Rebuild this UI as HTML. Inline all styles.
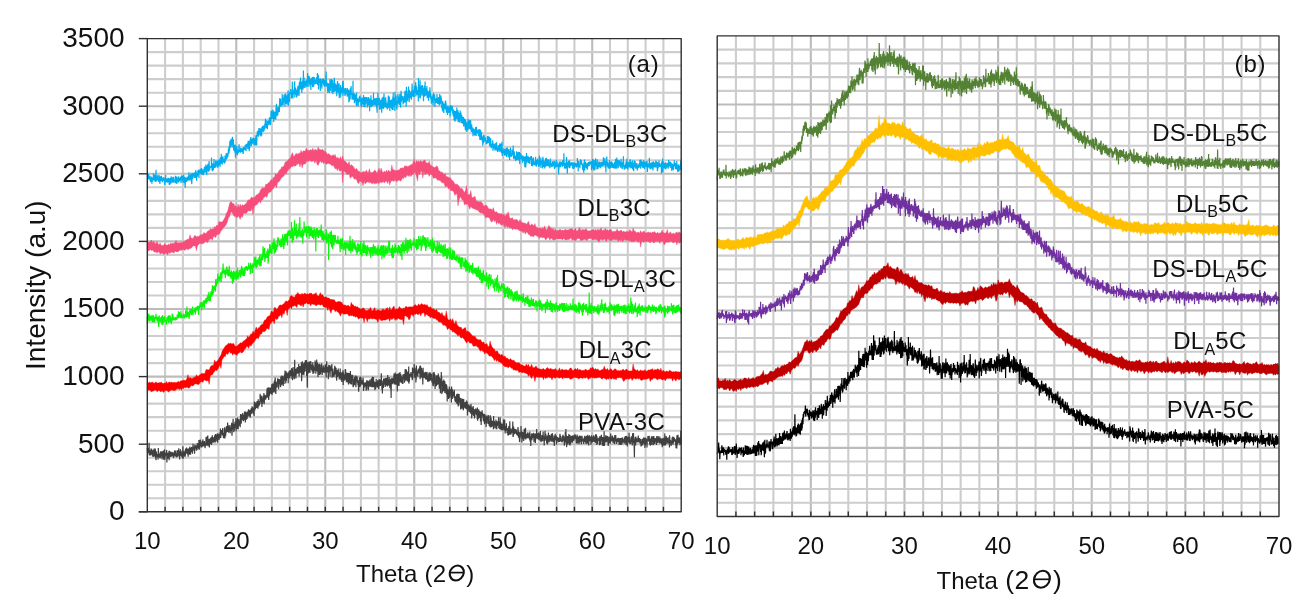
<!DOCTYPE html>
<html><head><meta charset="utf-8"><style>
html,body{margin:0;padding:0;background:#fff;}
body{width:1312px;height:611px;overflow:hidden;}
svg{display:block;font-family:"Liberation Sans", sans-serif;filter:blur(0.35px);}
text{fill:#111;}
</style></head><body>
<svg width="1312" height="611" viewBox="0 0 1312 611">
<rect width="1312" height="611" fill="#fff"/>
<line x1="165.10" y1="38.60" x2="165.10" y2="511.80" stroke="#cdcdcd" stroke-width="2.1"/>
<line x1="182.89" y1="38.60" x2="182.89" y2="511.80" stroke="#cdcdcd" stroke-width="2.1"/>
<line x1="200.69" y1="38.60" x2="200.69" y2="511.80" stroke="#cdcdcd" stroke-width="2.1"/>
<line x1="218.49" y1="38.60" x2="218.49" y2="511.80" stroke="#cdcdcd" stroke-width="2.1"/>
<line x1="236.28" y1="38.60" x2="236.28" y2="511.80" stroke="#bcbcbc" stroke-width="2.1"/>
<line x1="254.08" y1="38.60" x2="254.08" y2="511.80" stroke="#cdcdcd" stroke-width="2.1"/>
<line x1="271.88" y1="38.60" x2="271.88" y2="511.80" stroke="#cdcdcd" stroke-width="2.1"/>
<line x1="289.67" y1="38.60" x2="289.67" y2="511.80" stroke="#cdcdcd" stroke-width="2.1"/>
<line x1="307.47" y1="38.60" x2="307.47" y2="511.80" stroke="#cdcdcd" stroke-width="2.1"/>
<line x1="325.27" y1="38.60" x2="325.27" y2="511.80" stroke="#bcbcbc" stroke-width="2.1"/>
<line x1="343.06" y1="38.60" x2="343.06" y2="511.80" stroke="#cdcdcd" stroke-width="2.1"/>
<line x1="360.86" y1="38.60" x2="360.86" y2="511.80" stroke="#cdcdcd" stroke-width="2.1"/>
<line x1="378.66" y1="38.60" x2="378.66" y2="511.80" stroke="#cdcdcd" stroke-width="2.1"/>
<line x1="396.45" y1="38.60" x2="396.45" y2="511.80" stroke="#cdcdcd" stroke-width="2.1"/>
<line x1="414.25" y1="38.60" x2="414.25" y2="511.80" stroke="#bcbcbc" stroke-width="2.1"/>
<line x1="432.05" y1="38.60" x2="432.05" y2="511.80" stroke="#cdcdcd" stroke-width="2.1"/>
<line x1="449.84" y1="38.60" x2="449.84" y2="511.80" stroke="#cdcdcd" stroke-width="2.1"/>
<line x1="467.64" y1="38.60" x2="467.64" y2="511.80" stroke="#cdcdcd" stroke-width="2.1"/>
<line x1="485.44" y1="38.60" x2="485.44" y2="511.80" stroke="#cdcdcd" stroke-width="2.1"/>
<line x1="503.23" y1="38.60" x2="503.23" y2="511.80" stroke="#bcbcbc" stroke-width="2.1"/>
<line x1="521.03" y1="38.60" x2="521.03" y2="511.80" stroke="#cdcdcd" stroke-width="2.1"/>
<line x1="538.83" y1="38.60" x2="538.83" y2="511.80" stroke="#cdcdcd" stroke-width="2.1"/>
<line x1="556.62" y1="38.60" x2="556.62" y2="511.80" stroke="#cdcdcd" stroke-width="2.1"/>
<line x1="574.42" y1="38.60" x2="574.42" y2="511.80" stroke="#cdcdcd" stroke-width="2.1"/>
<line x1="592.22" y1="38.60" x2="592.22" y2="511.80" stroke="#bcbcbc" stroke-width="2.1"/>
<line x1="610.01" y1="38.60" x2="610.01" y2="511.80" stroke="#cdcdcd" stroke-width="2.1"/>
<line x1="627.81" y1="38.60" x2="627.81" y2="511.80" stroke="#cdcdcd" stroke-width="2.1"/>
<line x1="645.61" y1="38.60" x2="645.61" y2="511.80" stroke="#cdcdcd" stroke-width="2.1"/>
<line x1="663.40" y1="38.60" x2="663.40" y2="511.80" stroke="#cdcdcd" stroke-width="2.1"/>
<line x1="147.30" y1="498.28" x2="681.20" y2="498.28" stroke="#cdcdcd" stroke-width="2.1"/>
<line x1="147.30" y1="484.76" x2="681.20" y2="484.76" stroke="#cdcdcd" stroke-width="2.1"/>
<line x1="147.30" y1="471.24" x2="681.20" y2="471.24" stroke="#cdcdcd" stroke-width="2.1"/>
<line x1="147.30" y1="457.72" x2="681.20" y2="457.72" stroke="#cdcdcd" stroke-width="2.1"/>
<line x1="147.30" y1="444.20" x2="681.20" y2="444.20" stroke="#bcbcbc" stroke-width="2.1"/>
<line x1="147.30" y1="430.68" x2="681.20" y2="430.68" stroke="#cdcdcd" stroke-width="2.1"/>
<line x1="147.30" y1="417.16" x2="681.20" y2="417.16" stroke="#cdcdcd" stroke-width="2.1"/>
<line x1="147.30" y1="403.64" x2="681.20" y2="403.64" stroke="#cdcdcd" stroke-width="2.1"/>
<line x1="147.30" y1="390.12" x2="681.20" y2="390.12" stroke="#cdcdcd" stroke-width="2.1"/>
<line x1="147.30" y1="376.60" x2="681.20" y2="376.60" stroke="#bcbcbc" stroke-width="2.1"/>
<line x1="147.30" y1="363.08" x2="681.20" y2="363.08" stroke="#cdcdcd" stroke-width="2.1"/>
<line x1="147.30" y1="349.56" x2="681.20" y2="349.56" stroke="#cdcdcd" stroke-width="2.1"/>
<line x1="147.30" y1="336.04" x2="681.20" y2="336.04" stroke="#cdcdcd" stroke-width="2.1"/>
<line x1="147.30" y1="322.52" x2="681.20" y2="322.52" stroke="#cdcdcd" stroke-width="2.1"/>
<line x1="147.30" y1="309.00" x2="681.20" y2="309.00" stroke="#bcbcbc" stroke-width="2.1"/>
<line x1="147.30" y1="295.48" x2="681.20" y2="295.48" stroke="#cdcdcd" stroke-width="2.1"/>
<line x1="147.30" y1="281.96" x2="681.20" y2="281.96" stroke="#cdcdcd" stroke-width="2.1"/>
<line x1="147.30" y1="268.44" x2="681.20" y2="268.44" stroke="#cdcdcd" stroke-width="2.1"/>
<line x1="147.30" y1="254.92" x2="681.20" y2="254.92" stroke="#cdcdcd" stroke-width="2.1"/>
<line x1="147.30" y1="241.40" x2="681.20" y2="241.40" stroke="#bcbcbc" stroke-width="2.1"/>
<line x1="147.30" y1="227.88" x2="681.20" y2="227.88" stroke="#cdcdcd" stroke-width="2.1"/>
<line x1="147.30" y1="214.36" x2="681.20" y2="214.36" stroke="#cdcdcd" stroke-width="2.1"/>
<line x1="147.30" y1="200.84" x2="681.20" y2="200.84" stroke="#cdcdcd" stroke-width="2.1"/>
<line x1="147.30" y1="187.32" x2="681.20" y2="187.32" stroke="#cdcdcd" stroke-width="2.1"/>
<line x1="147.30" y1="173.80" x2="681.20" y2="173.80" stroke="#bcbcbc" stroke-width="2.1"/>
<line x1="147.30" y1="160.28" x2="681.20" y2="160.28" stroke="#cdcdcd" stroke-width="2.1"/>
<line x1="147.30" y1="146.76" x2="681.20" y2="146.76" stroke="#cdcdcd" stroke-width="2.1"/>
<line x1="147.30" y1="133.24" x2="681.20" y2="133.24" stroke="#cdcdcd" stroke-width="2.1"/>
<line x1="147.30" y1="119.72" x2="681.20" y2="119.72" stroke="#cdcdcd" stroke-width="2.1"/>
<line x1="147.30" y1="106.20" x2="681.20" y2="106.20" stroke="#bcbcbc" stroke-width="2.1"/>
<line x1="147.30" y1="92.68" x2="681.20" y2="92.68" stroke="#cdcdcd" stroke-width="2.1"/>
<line x1="147.30" y1="79.16" x2="681.20" y2="79.16" stroke="#cdcdcd" stroke-width="2.1"/>
<line x1="147.30" y1="65.64" x2="681.20" y2="65.64" stroke="#cdcdcd" stroke-width="2.1"/>
<line x1="147.30" y1="52.12" x2="681.20" y2="52.12" stroke="#cdcdcd" stroke-width="2.1"/>
<path transform="scale(0.1)" d="M1473 1768l2 -7l2 14l1 16l2 -11l2 14l2 -26l1 -31l2 45l2 4l2 -27l2 4l1 6l2 26l2 -22l2 -17l1 50l2 -21l2 35l2 -14l2 13l1 -38l2 25l2 -37l2 3l1 9l2 57l2 -48l2 -12l2 -3l1 40l2 -25l2 12l2 -3l2 -66l1 66l2 -18l2 -39l2 53l1 -11l2 -5l2 1l2 32l2 -32l1 -30l2 70l2 -58l2 19l1 19l2 -103l2 69l2 48l2 -30l1 -12l2 19l2 -21l2 18l1 -17l2 -18l2 51l2 -21l2 17l1 -14l2 32l2 -15l2 -9l1 -43l2 12l2 60l2 -13l2 -34l1 64l2 -37l2 -8l2 -32l1 14l2 24l2 9l2 -10l2 -42l1 47l2 -3l2 -15l2 12l1 2l2 22l2 -26l2 11l2 -38l1 12l2 17l2 -17l2 25l2 -33l1 26l2 -14l2 45l2 -39l1 49l2 8l2 -41l2 15l2 -26l1 -49l2 73l2 -5l2 -20l1 -7l2 16l2 1l2 -22l2 4l1 37l2 -22l2 -3l2 26l1 -32l2 27l2 -44l2 19l2 2l1 16l2 -11l2 45l2 -21l1 -36l2 60l2 -72l2 62l2 -60l1 39l2 -39l2 15l2 40l1 -67l2 -4l2 36l2 5l2 -3l1 19l2 -49l2 39l2 -12l1 18l2 -4l2 15l2 -61l2 34l1 -27l2 23l2 17l2 -9l2 5l1 -13l2 9l2 -2l2 26l1 -14l2 -59l2 56l2 9l2 -34l1 -25l2 68l2 -30l2 10l1 27l2 -74l2 33l2 -3l2 20l1 -29l2 24l2 -10l2 23l1 3l2 -62l2 45l2 -20l2 9l1 9l2 1l2 -27l2 22l1 -4l2 -4l2 -28l2 12l2 7l1 23l2 20l2 -56l2 -19l1 45l2 -17l2 -6l2 -1l2 -2l1 33l2 -48l2 66l2 -51l1 8l2 -9l2 -25l2 9l2 62l1 13l2 -61l2 43l2 -25l2 -21l1 91l2 20l2 -99l2 5l1 6l2 -8l2 21l2 16l2 -34l1 19l2 16l2 -53l2 13l1 -12l2 33l2 4l2 -5l2 -3l1 -27l2 23l2 -29l2 0l1 -42l2 83l2 -56l2 23l2 -3l1 35l2 -25l2 -30l2 19l1 -4l2 8l2 -36l2 28l2 53l1 -38l2 31l2 31l2 -68l1 -46l2 31l2 29l2 -6l2 -52l1 23l2 2l2 2l2 -3l1 -19l2 5l2 8l2 30l2 -39l1 29l2 -45l2 58l2 -28l2 -4l1 32l2 -77l2 6l2 47l1 -31l2 9l2 74l2 -72l2 7l1 -4l2 28l2 -21l2 -3l1 -35l2 21l2 8l2 -39l2 51l1 -5l2 36l2 -86l2 14l1 1l2 5l2 14l2 -4l2 11l1 -2l2 -7l2 -38l2 24l1 14l2 13l2 0l2 -58l2 27l1 10l2 10l2 18l2 -27l1 -25l2 31l2 -5l2 -1l2 -10l1 43l2 -36l2 15l2 -46l1 42l2 -36l2 -25l2 46l2 6l1 -25l2 8l2 24l2 -38l2 -41l1 57l2 -2l2 21l2 -37l1 66l2 -31l2 -63l2 56l2 -52l1 -13l2 32l2 -9l2 -37l1 55l2 9l2 19l2 -38l2 -69l1 43l2 49l2 -3l2 -10l1 -22l2 12l2 -12l2 -3l2 14l1 -8l2 -7l2 7l2 -17l1 -77l2 73l2 13l2 45l2 -56l1 61l2 -15l2 -61l2 2l1 22l2 41l2 -37l2 7l2 -36l1 -44l2 53l2 26l2 9l1 -30l2 2l2 25l2 -35l2 33l1 -62l2 0l2 -1l2 41l2 -39l1 27l2 6l2 -2l2 25l1 3l2 -62l2 26l2 -12l2 -22l1 73l2 -27l2 -27l2 -7l1 28l2 -48l2 21l2 38l2 -9l1 -49l2 8l2 64l2 -90l1 19l2 -22l2 46l2 -3l2 21l1 -101l2 73l2 -50l2 60l1 -23l2 49l2 -36l2 -39l2 60l1 -65l2 19l2 37l2 -16l1 -3l2 -12l2 12l2 7l2 -16l1 42l2 -17l2 -36l2 -27l1 66l2 -44l2 17l2 8l2 -52l1 37l2 -58l2 63l2 -35l2 15l1 11l2 -41l2 16l2 -27l1 13l2 23l2 -36l2 -12l2 -36l1 46l2 -34l2 40l2 -78l1 42l2 13l2 -61l2 -43l2 70l1 -20l2 1l2 -12l2 -50l1 34l2 13l2 -58l2 42l2 -35l1 70l2 -12l2 23l2 -108l1 71l2 -13l2 13l2 -2l2 8l1 -51l2 92l2 20l2 -12l1 14l2 -58l2 2l2 57l2 16l1 -27l2 -49l2 126l2 -96l1 48l2 -60l2 62l2 -22l2 35l1 -15l2 -69l2 16l2 36l2 14l1 30l2 -44l2 -11l2 2l1 0l2 30l2 -31l2 -1l2 -38l1 -17l2 58l2 19l2 -21l1 16l2 4l2 -20l2 28l2 -49l1 21l2 -11l2 11l2 16l1 5l2 -22l2 8l2 -24l2 5l1 39l2 -43l2 40l2 -23l1 -10l2 51l2 -65l2 -3l2 8l1 6l2 -3l2 17l2 -22l1 7l2 -20l2 37l2 -44l2 1l1 7l2 8l2 -31l2 65l1 -65l2 6l2 -3l2 -4l2 30l1 -13l2 -28l2 4l2 6l2 50l1 -63l2 -20l2 4l2 22l1 52l2 -76l2 31l2 71l2 -89l1 55l2 -7l2 -21l2 -59l1 48l2 -20l2 -46l2 3l2 50l1 3l2 30l2 -19l2 -35l1 0l2 7l2 -28l2 53l2 -23l1 -26l2 3l2 -16l2 20l1 20l2 -31l2 49l2 18l2 -70l1 17l2 -13l2 60l2 -43l1 5l2 6l2 41l2 -62l2 -40l1 13l2 29l2 -21l2 -26l1 107l2 -84l2 -23l2 -7l2 -34l1 15l2 24l2 -2l2 -17l2 39l1 -18l2 -32l2 -35l2 64l1 -5l2 -11l2 -38l2 41l2 -50l1 76l2 -27l2 -2l2 -34l1 -10l2 79l2 -21l2 -43l2 30l1 26l2 -85l2 15l2 -2l1 29l2 -51l2 39l2 -45l2 62l1 -4l2 -36l2 27l2 -47l1 11l2 37l2 -35l2 12l2 -44l1 48l2 -8l2 -57l2 -35l1 5l2 61l2 -13l2 -39l2 52l1 26l2 -39l2 -13l2 40l1 25l2 -9l2 -72l2 45l2 -23l1 -14l2 -15l2 29l2 -30l2 44l1 -20l2 20l2 -74l2 37l1 21l2 -15l2 -7l2 -33l2 75l1 -21l2 -24l2 -101l2 51l1 37l2 -33l2 -48l2 75l2 2l1 -57l2 22l2 -9l2 38l1 -86l2 4l2 37l2 -7l2 90l1 -95l2 26l2 -24l2 -12l1 33l2 44l2 -74l2 35l2 -17l1 7l2 -12l2 65l2 -125l1 31l2 -33l2 -33l2 65l2 61l1 -34l2 8l2 -28l2 -23l1 70l2 -85l2 62l2 -66l2 11l1 5l2 -12l2 14l2 0l2 35l1 -61l2 -70l2 -8l2 21l1 19l2 47l2 -78l2 51l2 -2l1 6l2 -16l2 17l2 -15l1 34l2 -27l2 -98l2 83l2 4l1 -29l2 -9l2 64l2 -34l1 -43l2 22l2 3l2 -54l2 79l1 -29l2 20l2 -75l2 123l1 -48l2 -7l2 -46l2 0l2 -30l1 106l2 -87l2 37l2 11l1 -46l2 52l2 41l2 -65l2 40l1 -33l2 -40l2 0l2 -48l1 64l2 92l2 -76l2 4l2 10l1 -63l2 38l2 48l2 -101l2 29l1 -19l2 8l2 -21l2 21l1 -46l2 29l2 0l2 -2l2 68l1 -49l2 2l2 -19l2 58l1 -162l2 105l2 47l2 18l2 -55l1 -8l2 22l2 -31l2 26l1 -46l2 47l2 -27l2 -39l2 -61l1 163l2 -52l2 13l2 -62l1 71l2 -26l2 -18l2 34l2 -2l1 -19l2 60l2 -26l2 -40l1 -23l2 12l2 58l2 -50l2 -49l1 8l2 23l2 29l2 -59l1 45l2 56l2 -26l2 -110l2 45l1 -37l2 61l2 -84l2 86l2 -18l1 -102l2 64l2 47l2 -17l1 -26l2 -25l2 63l2 47l2 -57l1 -13l2 -5l2 -47l2 37l1 -20l2 72l2 -77l2 -112l2 114l1 18l2 3l2 -64l2 103l1 -33l2 -23l2 -12l2 44l2 -30l1 22l2 -17l2 9l2 37l1 -44l2 -36l2 70l2 -29l2 -36l1 65l2 -49l2 47l2 -85l1 -46l2 11l2 86l2 -38l2 24l1 1l2 -56l2 110l2 -92l1 43l2 -56l2 47l2 33l2 -37l1 -18l2 27l2 -18l2 39l2 62l1 -117l2 8l2 21l2 3l1 -38l2 58l2 9l2 -20l2 -53l1 99l2 -100l2 71l2 17l1 -91l2 52l2 47l2 -37l2 -50l1 -10l2 63l2 -33l2 -12l1 53l2 -39l2 15l2 19l2 -2l1 -21l2 1l2 23l2 -5l1 -59l2 34l2 -25l2 -12l2 24l1 -65l2 120l2 -62l2 44l1 -84l2 6l2 142l2 -38l2 -62l1 -5l2 3l2 31l2 -20l1 -7l2 29l2 -42l2 126l2 -110l1 64l2 -76l2 46l2 26l2 -48l1 49l2 1l2 25l2 -58l1 -20l2 -20l2 45l2 -45l2 40l1 5l2 -43l2 -1l2 65l1 -14l2 -3l2 -9l2 38l2 -73l1 55l2 -33l2 50l2 -45l1 0l2 31l2 -92l2 63l2 -107l1 86l2 63l2 -10l2 -31l1 15l2 1l2 14l2 59l2 -60l1 77l2 -99l2 43l2 0l1 -18l2 -18l2 66l2 12l2 -25l1 38l2 -40l2 -97l2 101l1 -64l2 78l2 -63l2 24l2 -9l1 -41l2 -27l2 60l2 3l2 73l1 -89l2 33l2 -41l2 34l1 -67l2 142l2 -63l2 -44l2 58l1 7l2 -20l2 43l2 -56l1 -87l2 50l2 86l2 -9l2 -17l1 -52l2 70l2 -5l2 -59l1 2l2 47l2 29l2 17l2 -31l1 58l2 -112l2 53l2 -41l1 -52l2 27l2 88l2 -75l2 -10l1 72l2 9l2 -32l2 57l1 -115l2 147l2 -48l2 -31l2 -1l1 -14l2 -4l2 19l2 -50l1 124l2 -80l2 28l2 -35l2 1l1 43l2 -9l2 -53l2 17l2 39l1 -101l2 -9l2 142l2 -65l1 -82l2 65l2 23l2 17l2 13l1 -11l2 14l2 -48l2 44l1 3l2 29l2 -42l2 33l2 -26l1 -44l2 26l2 -4l2 7l1 12l2 8l2 8l2 -39l2 70l1 -89l2 49l2 30l2 -8l1 8l2 -30l2 34l2 -68l2 95l1 33l2 -56l2 49l2 -72l1 -40l2 17l2 74l2 -20l2 -93l1 46l2 22l2 -38l2 -50l1 43l2 44l2 -7l2 -8l2 46l1 18l2 -40l2 38l2 -32l2 -5l1 -150l2 187l2 -22l2 -1l1 -21l2 -21l2 58l2 13l2 31l1 -25l2 -69l2 35l2 40l1 -22l2 -14l2 -31l2 56l2 -11l1 58l2 -23l2 -100l2 140l1 -67l2 -19l2 23l2 17l2 -27l1 0l2 3l2 67l2 -62l1 27l2 -10l2 -28l2 -13l2 -9l1 52l2 -50l2 -8l2 2l1 -8l2 56l2 2l2 -35l2 80l1 -56l2 27l2 -5l2 50l1 -31l2 -31l2 -33l2 -3l2 39l1 4l2 24l2 -45l2 24l2 -30l1 -42l2 65l2 53l2 -22l1 21l2 -9l2 -90l2 39l2 64l1 -78l2 -22l2 59l2 11l1 -2l2 -32l2 -12l2 -20l2 0l1 1l2 -6l2 25l2 80l1 -51l2 -15l2 25l2 -46l2 46l1 20l2 -85l2 29l2 16l1 -25l2 -5l2 26l2 101l2 -64l1 -7l2 19l2 -42l2 -36l1 61l2 24l2 -114l2 90l2 28l1 -53l2 -6l2 41l2 -54l1 46l2 16l2 -39l2 -21l2 51l1 -35l2 16l2 -105l2 128l2 -75l1 52l2 2l2 -30l2 -6l1 -13l2 34l2 34l2 -2l2 -37l1 -3l2 -29l2 36l2 -23l1 -16l2 49l2 59l2 -11l2 51l1 -150l2 88l2 -74l2 23l1 -89l2 75l2 40l2 3l2 -10l1 -3l2 25l2 -18l2 -59l1 119l2 -71l2 42l2 -40l2 -23l1 32l2 -30l2 84l2 -97l1 61l2 -44l2 16l2 99l2 -66l1 -35l2 -48l2 45l2 1l1 60l2 -103l2 -13l2 63l2 9l1 50l2 -90l2 -65l2 71l2 -20l1 26l2 54l2 -83l2 92l1 -37l2 -18l2 -47l2 30l2 12l1 41l2 19l2 -48l2 27l1 21l2 -1l2 -28l2 48l2 -18l1 10l2 -65l2 -9l2 -57l1 125l2 -29l2 -58l2 41l2 3l1 -73l2 83l2 20l2 43l1 -97l2 0l2 61l2 -14l2 -55l1 -2l2 44l2 -46l2 1l1 85l2 -53l2 -26l2 35l2 56l1 -67l2 -37l2 -30l2 135l1 -173l2 134l2 -75l2 -10l2 9l1 30l2 47l2 -65l2 48l2 65l1 -193l2 76l2 -40l2 98l1 -86l2 -5l2 1l2 57l2 42l1 -38l2 73l2 -19l2 -66l1 38l2 -30l2 -3l2 -75l2 22l1 48l2 -47l2 71l2 -17l1 -46l2 77l2 -36l2 37l2 -53l1 -56l2 86l2 -37l2 40l1 8l2 39l2 -135l2 -34l2 67l1 43l2 -53l2 37l2 -42l1 9l2 8l2 -13l2 42l2 -7l1 47l2 -47l2 34l2 -47l1 29l2 -40l2 -14l2 68l2 -23l1 3l2 -62l2 -37l2 31l2 43l1 -68l2 109l2 -112l2 78l1 77l2 -200l2 38l2 95l2 -45l1 13l2 -12l2 57l2 -30l1 -43l2 8l2 -37l2 40l2 -85l1 112l2 -36l2 79l2 -25l1 -97l2 83l2 -55l2 21l2 35l1 -27l2 6l2 -2l2 -47l1 3l2 44l2 38l2 -72l2 14l1 -43l2 -61l2 66l2 31l1 5l2 24l2 1l2 3l2 -24l1 0l2 -44l2 42l2 -8l1 37l2 -107l2 42l2 -49l2 37l1 -26l2 64l2 -36l2 -74l2 146l1 -90l2 -20l2 48l2 -13l1 -20l2 73l2 -41l2 48l2 -7l1 -3l2 -18l2 -12l2 -11l1 114l2 -234l2 92l2 16l2 41l1 -10l2 -25l2 5l2 80l1 -93l2 -84l2 182l2 -109l2 24l1 18l2 -57l2 98l2 -52l1 -51l2 64l2 8l2 -21l2 22l1 -77l2 94l2 -68l2 82l1 -74l2 31l2 96l2 -99l2 42l1 -23l2 -75l2 103l2 -1l2 -95l1 52l2 -100l2 95l2 47l1 -30l2 -48l2 12l2 37l2 -1l1 8l2 19l2 -95l2 75l1 44l2 -24l2 -44l2 4l2 31l1 21l2 -25l2 66l2 -13l1 -79l2 64l2 -45l2 -31l2 22l1 25l2 -78l2 56l2 40l1 -40l2 14l2 49l2 -34l2 10l1 69l2 -67l2 6l2 7l1 47l2 -48l2 -11l2 -4l2 48l1 -65l2 107l2 -73l2 -56l1 76l2 -5l2 -59l2 56l2 -2l1 -18l2 -30l2 123l2 -50l2 8l1 4l2 -7l2 0l2 -41l1 46l2 -37l2 -9l2 43l2 -31l1 -54l2 50l2 37l2 -21l1 33l2 -43l2 -20l2 63l2 -21l1 -48l2 61l2 -24l2 46l1 -7l2 -10l2 -96l2 95l2 5l1 3l2 -13l2 -29l2 18l1 -66l2 68l2 -43l2 43l2 -11l1 75l2 -46l2 -1l2 8l1 69l2 -107l2 46l2 3l2 -5l1 0l2 -21l2 97l2 -47l1 -42l2 6l2 20l2 8l2 11l1 -27l2 -43l2 81l2 -90l2 25l1 47l2 -42l2 81l2 10l1 -14l2 -30l2 -2l2 8l2 -21l1 81l2 -92l2 69l2 -26l1 -7l2 27l2 9l2 -12l2 -34l1 -20l2 3l2 56l2 -6l1 6l2 -59l2 101l2 -114l2 62l1 12l2 -37l2 -23l2 26l1 -24l2 34l2 -36l2 1l2 48l1 -52l2 46l2 4l2 37l1 -20l2 -36l2 74l2 -66l2 12l1 4l2 87l2 -71l2 -24l1 50l2 -28l2 87l2 -104l2 48l1 -51l2 95l2 -86l2 34l2 -35l1 61l2 8l2 -113l2 107l1 -3l2 -13l2 27l2 -74l2 -17l1 85l2 36l2 -97l2 4l1 11l2 -10l2 71l2 -22l2 42l1 3l2 -80l2 58l2 -98l1 76l2 26l2 -47l2 -33l2 46l1 59l2 -52l2 -32l2 65l1 11l2 -59l2 31l2 43l2 -22l1 14l2 -34l2 8l2 -33l1 16l2 78l2 -65l2 -14l2 16l1 -18l2 55l2 15l2 -61l1 68l2 37l2 -104l2 60l2 -12l1 37l2 35l2 -40l2 -24l2 -23l1 90l2 -99l2 65l2 -2l1 -56l2 26l2 50l2 -110l2 91l1 -35l2 3l2 -38l2 63l1 -46l2 59l2 -89l2 93l2 -12l1 -72l2 53l2 6l2 -65l1 63l2 40l2 -49l2 64l2 -74l1 -1l2 60l2 3l2 -24l1 7l2 33l2 -48l2 86l2 -51l1 1l2 -2l2 -18l2 51l1 -56l2 26l2 17l2 24l2 -4l1 -48l2 44l2 -31l2 -30l1 2l2 -15l2 61l2 27l2 -92l1 50l2 -24l2 37l2 -36l2 13l1 6l2 8l2 5l2 7l1 2l2 -23l2 49l2 -69l2 60l1 -33l2 36l2 6l2 -70l1 75l2 32l2 -16l2 -11l2 -75l1 62l2 -21l2 62l2 -40l1 -9l2 -33l2 79l2 -39l2 11l1 43l2 -30l2 10l2 65l1 -89l2 4l2 32l2 29l2 -85l1 39l2 -22l2 -10l2 61l1 -40l2 34l2 -2l2 0l2 -1l1 -33l2 32l2 10l2 5l1 -18l2 39l2 -12l2 -12l2 16l1 -12l2 16l2 -79l2 21l2 28l1 16l2 -67l2 58l2 13l1 -11l2 1l2 -32l2 44l2 -63l1 91l2 -47l2 52l2 -84l1 66l2 -7l2 -51l2 13l2 72l1 -22l2 33l2 -45l2 8l1 8l2 11l2 -8l2 12l2 -38l1 -28l2 104l2 -53l2 10l1 -27l2 44l2 -23l2 28l2 -51l1 19l2 9l2 -15l2 19l1 40l2 -63l2 10l2 14l2 -33l1 -6l2 70l2 -9l2 -68l1 5l2 65l2 14l2 -15l2 -3l1 33l2 -47l2 40l2 -2l2 -61l1 48l2 -17l2 -20l2 -5l1 35l2 -11l2 28l2 -75l2 33l1 52l2 -31l2 -20l2 8l1 -39l2 15l2 57l2 -13l2 36l1 -44l2 4l2 -74l2 78l1 64l2 -40l2 -22l2 41l2 -11l1 -13l2 -20l2 15l2 22l1 -48l2 40l2 -1l2 27l2 -17l1 -40l2 66l2 -44l2 -22l1 33l2 -17l2 40l2 -70l2 7l1 26l2 58l2 -19l2 -58l1 -20l2 41l2 -26l2 54l2 -11l1 -5l2 -21l2 67l2 -71l2 -10l1 72l2 7l2 -48l2 29l1 50l2 -90l2 19l2 19l2 -73l1 57l2 27l2 -24l2 33l1 -7l2 -32l2 28l2 -2l2 -60l1 24l2 3l2 8l2 2l1 -26l2 42l2 -94l2 122l2 -19l1 33l2 -28l2 -24l2 -26l1 61l2 -18l2 11l2 12l2 13l1 -36l2 53l2 -51l2 3l1 20l2 11l2 11l2 -91l2 91l1 -80l2 28l2 27l2 23l1 -60l2 -19l2 76l2 -17l2 -37l1 20l2 -45l2 72l2 -30l2 51l1 -93l2 80l2 42l2 -57l1 1l2 -56l2 63l2 -8l2 -16l1 -27l2 46l2 -30l2 15l1 23l2 -10l2 2l2 26l2 -58l1 72l2 -70l2 6l2 32l1 17l2 -15l2 -19l2 -7l2 13l1 -19l2 43l2 -21l2 85l1 -99l2 17l2 16l2 -43l2 14l1 97l2 -79l2 42l2 -69l1 -39l2 83l2 -15l2 9l2 -16l1 -8l2 -17l2 63l2 -70l1 69l2 -33l2 -24l2 13l2 46l1 -6l2 -6l2 -11l2 -33l2 68l1 -48l2 -4l2 2l2 3l1 -29l2 29l2 -10l2 -3l2 -21l1 101l2 -87l2 43l2 1l1 41l2 3l2 -40l2 9l2 -43l1 65l2 -79l2 32l2 15l1 13l2 2l2 10l2 -16l2 -14l1 5l2 34l2 -30l2 17l1 -28l2 -46l2 34l2 26l2 36l1 -5l2 7l2 -65l2 41l1 -22l2 19l2 -19l2 -35l2 57l1 -9l2 13l2 -45l2 52l1 3l2 7l2 1l2 -51l2 -56l1 97l2 -53l2 19l2 37l2 -22l1 -1l2 13l2 -71l2 104l1 -62l2 2l2 25l2 -20l2 -19l1 19l2 -7l2 -7l2 74l1 -95l2 -21l2 35l2 -1l2 66l1 -35l2 19l2 -5l2 -42l1 48l2 -18l2 48l2 -47l2 -7l1 22l2 1l2 -70l2 83l1 -4l2 -6l2 -54l2 -24l2 48l1 28l2 -7l2 -40l2 53l1 -63l2 1l2 36l2 -15l2 -3l1 -21l2 70l2 -60l2 42l1 11l2 -23l2 9l2 21l2 16l1 -17l2 -64l2 -14l2 36l2 -14l1 45l2 -11l2 -10l2 37l1 -2l2 -29l2 11l2 21l2 -39l1 17l2 -34l2 28l2 8l1 -11l2 8l2 14l2 -7l2 -31l1 -11l2 -3l2 80l2 -35l1 1l2 -15l2 17l2 1l2 -34l1 16l2 36l2 -66l2 -12l1 63l2 -37l2 42l2 -50l2 36l1 16l2 -12l2 11l2 -26l1 0l2 4l2 16l2 83l2 -100l1 53l2 -57l2 -24l2 23l1 17l2 -5l2 -1l2 23l2 -11l1 9l2 -57l2 32l2 -26l2 33l1 -9l2 7l2 -17l2 -10l1 16l2 24l2 3l2 -65l2 52l1 0l2 -47l2 10l2 15l1 25l2 -124l2 103l2 -5l2 20l1 33l2 -2l2 -47l2 1l1 16l2 25l2 8l2 -30l2 30l1 -63l2 -7l2 -45l2 53l1 39l2 7l2 69l2 -76l2 -11l1 -31l2 10l2 0l2 10l1 -12l2 -21l2 68l2 -17l2 25l1 -80l2 8l2 15l2 52l1 -37l2 11l2 -8l2 7l2 -19l1 25l2 -34l2 17l2 14l2 -5l1 9l2 -34l2 29l2 -15l1 19l2 29l2 -64l2 52l2 -46l1 7l2 55l2 -19l2 -11l1 8l2 10l2 -52l2 26l2 -25l1 31l2 -20l2 28l2 -19l1 -16l2 14l2 13l2 17l2 -33l1 -5l2 16l2 14l2 -35l1 -52l2 74l2 -17l2 -1l2 79l1 -72l2 22l2 -56l2 44l1 14l2 -15l2 -14l2 23l2 -14l1 35l2 -30l2 -27l2 -32l1 34l2 12l2 -25l2 5l2 -17l1 15l2 32l2 -10l2 2l2 -3l1 3l2 26l2 35l2 -38l1 36l2 -56l2 2l2 81l2 -99l1 -5l2 21l2 -43l2 -5l1 108l2 -86l2 7l2 10l2 -14l1 44l2 -3l2 6l2 -2l1 -17l2 36l2 -11l2 -43l2 17l1 -12l2 61l2 -30l2 -6l1 -16l2 17l2 -41l2 27l2 -2l1 0l2 -19l2 32l2 -43l1 18l2 8l2 3l2 -13l2 -13l1 2l2 15l2 -13l2 20l1 -30l2 34l2 55l2 -92l2 33l1 34l2 -26l2 19l2 -80l2 43l1 55l2 -57l2 26l2 -62l1 79l2 32l2 -62l2 11l2 2l1 46l2 -68l2 -34l2 96l1 -82l2 46l2 -78l2 51l2 21l1 -39l2 16l2 30l2 -35l1 33l2 34l2 -102l2 63l2 7l1 -25l2 51l2 -6l2 -23l1 1l2 -16l2 -28l2 43l2 -26l1 -16l2 58l2 -35l2 31l1 -53l2 16l2 12l2 36l2 -39l1 24l2 -40l2 22l2 19l1 -47l2 6l2 35l2 -47l2 39l1 0l2 -11l2 23l2 -8l2 -8l1 -78l2 34l2 47l2 -50l1 44l2 -11l2 -14l2 16l2 -57l1 59l2 38l2 -67l2 46l1 -3l2 72l2 -107l2 5l2 -16l1 12l2 -55l2 82l2 -26l1 45l2 -10l2 -38l2 9l2 55l1 -46l2 15l2 17l2 -34l1 23l2 31l2 -12l2 -77l2 88l1 -47l2 -10l2 -1l2 50l1 -24l2 -13l2 -17l2 38l2 14l1 -58l2 -2l2 19l2 39l1 -40l2 8l2 -19l2 55l2 -36l1 7l2 26l2 -36l2 5l2 12l1 -22l2 49l2 -37l2 -12l1 3l2 -21l2 61l2 8l2 -46l1 -6l2 -45l2 41l2 39l1 -44l2 44l2 17l2 -110l2 61l1 -10l2 4l2 -33l2 40l1 -25l2 61l2 9l2 -75l2 -1l1 25l2 8l2 2l2 22l1 -59l2 23l2 5l2 3l2 -18l1 15l2 -7l2 51l2 -45l1 -44l2 72l2 -10l2 -28l2 -2l1 9l2 60l2 -67l2 56l1 8l2 -55l2 23l2 -30l2 -62l1 63l2 2l2 43l2 -7l2 34l1 -37l2 15l2 -11l2 -12l1 21l2 11l2 -2l2 -48l2 10l1 -25l2 -1l2 37l2 -27l1 57l2 -100l2 29l2 38l2 25l1 -41l2 60l2 -12l2 -58l1 18l2 15l2 -38l2 53l2 -42l1 27l2 10l2 -35l2 39l1 -78l2 67l2 -69l2 82l2 -45l1 48l2 4l2 -40l2 -14l1 52l2 -66l2 53l2 -24l2 -7l1 -6l2 64l2 -91l2 28l1 26l2 16l2 18l2 21l2 -81l1 24l2 21l2 -16l2 -56l2 51l1 7l2 -52l2 24l2 11l1 17l2 26l2 -11l2 -18l2 -7l1 -15l2 -6l2 9l2 0l1 33l2 31l2 -44l2 12l2 -8l1 -10l2 26l2 -4l2 -27l1 -5l2 20l2 -31l2 20l2 21l1 -28l2 -49l2 68l2 -49l1 -6l2 -3l2 80l2 -93l2 50l1 10l2 0l2 -22l2 14l1 6l2 -39l2 54l2 9l2 -49l1 2l2 -10l2 58l2 -58l1 16l2 -34l2 81l2 -39l2 19l1 29l2 -23l2 -50l2 43l2 7l1 -42l2 -4l2 0l2 48l1 -20l2 -29l2 46l2 2l2 -42l1 -20l2 73l2 39l2 -31l1 -12l2 -23l2 -20l2 20l2 15l1 -22l2 29l2 -24l2 16l1 -89l2 50l2 44l2 5l2 -15l1 32l2 -24l2 0l2 -43l1 35l2 10l2 14l2 -4l2 -30l1 4l2 -36l2 48l2 -45l1 21l2 7l2 54l2 -20l2 -54l1 -17l2 32l2 -15l2 31l1 7l2 0l2 -44l2 17l2 21l1 4l2 -30l2 -1l2 38l2 -68l1 39l2 7l2 -39l2 12l1 29l2 -16l2 43l2 -12l2 44l1 -93l2 83l2 -69l2 41l1 4l2 -21l2 -12l2 -10l2 -30l1 37l2 -14l2 40l2 -35l1 15l2 16l2 -7l2 -3l2 -7l1 -5l2 24l2 6l2 -39l1 101l2 -65l2 -58l2 114l2 -54l1 -36l2 62l2 -113l2 138l1 -107l2 -3l2 17l2 30l2 -15l1 33l2 -45l2 51l2 -22l1 -34l2 56l2 -20l2 -14l2 40l1 -66l2 22l2 49l2 -39l2 20l1 -3l2 -20l2 21l2 -44l1 44l2 -45l2 28l2 -24l2 37l1 -1l2 17l2 -46l2 -9l1 -32l2 23l2 27l2 13l2 -16l1 11l2 -40l2 14l2 47l1 -3l2 -55l2 28l2 15l2 -38l1 42l2 -3l2 5l2 40l1 -75l2 55l2 -17l2 5l2 -39l1 21l2 -2l2 45l2 -42l1 36l2 -47l2 -1l2 10l2 -55l1 41l2 -2l2 12l2 9l1 -31l2 -3l2 63l2 -62l2 14l1 -11l2 13l2 45l2 -2l2 -79l1 42l2 44l2 -47l2 19l1 39l2 12l2 -18l2 -50l2 9l1 5l2 -14l2 -8l2 72l1 -48l2 14l2 11l2 -18l2 -12l1 4l2 32l2 -26l2 -66l1 81l2 17l2 -52" fill="none" stroke="#00aeef" stroke-width="12" stroke-linejoin="miter" stroke-miterlimit="2"/>
<path transform="scale(0.1)" d="M1473 2418l11 3l10 3l11 -13l11 -11l10 29l11 -18l11 21l10 6l11 -25l11 25l10 9l11 -17l11 22l10 3l11 -1l11 -17l11 7l10 7l11 2l11 -15l10 11l11 -21l11 11l10 -8l11 6l11 -19l10 -12l11 26l11 -6l10 5l11 -7l11 0l10 1l11 -9l11 -2l10 -9l11 -9l11 -3l10 -1l11 -45l11 34l10 2l11 1l11 -26l11 -3l10 15l11 -8l11 2l10 -6l11 -11l11 -1l10 -2l11 -20l11 9l10 5l11 -21l11 -9l10 0l11 -20l11 7l10 -7l11 4l11 -27l10 11l11 -25l11 8l10 -42l11 0l11 3l10 -1l11 -12l11 -20l10 -17l11 -36l11 -17l11 -35l10 -48l11 -16l11 1l10 19l11 -4l11 28l10 -5l11 22l11 -39l10 34l11 -33l11 25l10 -18l11 5l11 -3l10 -13l11 -8l11 -25l10 -6l11 1l11 -21l10 -9l11 12l11 -7l10 -6l11 -17l11 -4l11 -12l10 -6l11 -30l11 -12l10 -12l11 7l11 -4l10 -38l11 6l11 -14l10 -6l11 -13l11 -20l10 11l11 -31l11 1l10 -39l11 11l11 -12l10 -19l11 -18l11 -5l10 -24l11 3l11 -16l10 -31l11 -10l11 -1l10 -16l11 -9l11 -8l11 -34l10 -20l11 42l11 -11l10 -20l11 -1l11 8l10 -15l11 7l11 -34l10 27l11 -21l11 4l10 -6l11 -26l11 30l10 -11l11 6l11 -12l10 11l11 -22l11 29l10 -18l11 3l11 11l10 -38l11 24l11 3l11 3l10 -8l11 11l11 12l10 1l11 18l11 10l10 -9l11 17l11 3l10 6l11 -14l11 15l10 -17l11 35l11 -4l10 5l11 9l11 -23l10 37l11 -45l11 47l10 5l11 8l11 14l10 10l11 -27l11 46l10 -14l11 8l11 11l11 20l10 9l11 -12l11 23l10 7l11 4l11 11l10 -3l11 -10l11 1l10 8l11 -24l11 19l10 8l11 -40l11 40l10 -2l11 1l11 -10l10 -15l11 8l11 25l10 -23l11 -32l11 36l10 -34l11 34l11 12l11 -18l10 16l11 -24l11 22l10 -22l11 15l11 -1l10 -66l11 51l11 -5l10 13l11 -2l11 0l10 -6l11 0l11 -19l10 1l11 -4l11 4l10 -24l11 4l11 -3l10 8l11 -8l11 -3l10 -13l11 7l11 -29l10 -34l11 53l11 -34l11 11l10 -7l11 7l11 -12l10 14l11 -3l11 -14l10 -2l11 26l11 6l10 -3l11 -16l11 36l10 5l11 10l11 7l10 4l11 -3l11 -15l10 11l11 39l11 4l10 14l11 -8l11 23l10 2l11 -4l11 28l11 1l10 5l11 5l11 2l10 21l11 7l11 13l10 17l11 7l11 -5l10 14l11 8l11 23l10 -1l11 4l11 20l10 18l11 -19l11 -51l10 84l11 12l11 -9l10 -37l11 70l11 2l10 -9l11 -4l11 47l11 4l10 1l11 5l11 -7l10 8l11 11l11 28l10 -4l11 -5l11 2l10 21l11 15l11 -1l10 -2l11 17l11 -28l10 35l11 12l11 -7l10 13l11 6l11 2l10 2l11 -3l11 15l10 -13l11 26l11 -19l10 -3l11 -24l11 49l11 18l10 -2l11 -6l11 22l10 -2l11 -1l11 0l10 7l11 17l11 -25l10 22l11 8l11 3l10 4l11 -1l11 15l10 -15l11 -18l11 37l10 5l11 -16l11 8l10 12l11 -24l11 34l10 6l11 6l11 2l11 -6l10 12l11 -12l11 14l10 -32l11 29l11 12l10 -15l11 -33l11 21l10 1l11 20l11 -13l10 26l11 -21l11 24l10 -4l11 -3l11 -9l10 1l11 9l11 -4l10 6l11 -11l11 -1l10 6l11 -1l11 -3l10 -8l11 3l11 -7l11 25l10 -12l11 -16l11 29l10 -3l11 -19l11 -14l10 33l11 -12l11 0l10 6l11 -5l11 -11l10 19l11 6l11 -5l10 3l11 -8l11 0l10 -8l11 13l11 -16l10 24l11 -25l11 15l10 -8l11 -18l11 33l11 -13l10 8l11 -26l11 26l10 -11l11 13l11 -12l10 -4l11 16l11 12l10 -9l11 6l11 -4l10 -22l11 21l11 1l10 -6l11 -5l11 21l10 -11l11 6l11 4l10 -11l11 10l11 -4l10 -21l11 15l11 9l10 -39l11 29l11 4l11 14l10 -2l11 -5l11 12l10 -27l11 22l11 -7l10 -12l11 18l11 3l10 -1l11 -10l11 10l10 -6l11 9l11 -10l10 3l11 -10l11 16l10 3l11 -10l11 15l10 -11l11 4l11 -31l10 23l11 7l11 2l11 -9l10 -29l11 46l11 -9l10 -13l11 21l11 -3l10 -6l11 13l11 -18l10 -6l11 14l11 -16l10 10l11 6l0 85l-11 8l-10 9l-11 -20l-11 34l-10 -31l-11 3l-11 5l-10 1l-11 -14l-11 2l-10 3l-11 5l-11 -1l-10 -3l-11 17l-11 15l-11 -35l-10 -4l-11 0l-11 22l-10 -24l-11 8l-11 -5l-10 0l-11 12l-11 4l-10 -20l-11 6l-11 14l-10 -11l-11 -2l-11 -5l-10 6l-11 -4l-11 11l-10 -8l-11 -6l-11 61l-10 -67l-11 18l-11 -5l-10 -9l-11 -1l-11 7l-11 1l-10 2l-11 -3l-11 -11l-10 9l-11 -11l-11 2l-10 0l-11 -7l-11 9l-10 14l-11 -24l-11 17l-10 -14l-11 19l-11 -21l-10 1l-11 0l-11 -1l-10 -1l-11 9l-11 2l-10 1l-11 -12l-11 -5l-10 24l-11 -10l-11 -14l-10 7l-11 7l-11 -13l-11 12l-10 20l-11 -14l-11 -15l-10 3l-11 -4l-11 6l-10 1l-11 -18l-11 5l-10 0l-11 1l-11 17l-10 -2l-11 -10l-11 3l-10 3l-11 3l-11 5l-10 -20l-11 1l-11 -5l-10 15l-11 7l-11 -1l-10 -12l-11 12l-11 -21l-11 -1l-10 15l-11 -4l-11 6l-10 0l-11 -3l-11 -14l-10 19l-11 -11l-11 -1l-10 0l-11 2l-11 -1l-10 -4l-11 13l-11 -2l-10 5l-11 -17l-11 -4l-10 22l-11 -23l-11 -8l-10 17l-11 11l-11 -23l-10 -3l-11 3l-11 -5l-10 0l-11 12l-11 -24l-11 6l-10 -13l-11 -2l-11 15l-10 -1l-11 -6l-11 7l-10 -22l-11 1l-11 -20l-10 -5l-11 22l-11 -29l-10 19l-11 -22l-11 3l-10 -5l-11 -5l-11 -9l-10 -5l-11 4l-11 -4l-10 -4l-11 16l-11 -24l-10 3l-11 -6l-11 -6l-11 6l-10 -21l-11 28l-11 -29l-10 -13l-11 17l-11 -8l-10 -19l-11 8l-11 -19l-10 26l-11 -43l-11 16l-10 -24l-11 27l-11 -2l-10 -23l-11 -23l-11 5l-10 -10l-11 16l-11 -22l-10 -20l-11 -5l-11 -8l-10 2l-11 -8l-11 -15l-10 -8l-11 -2l-11 -5l-11 -5l-10 -3l-11 -7l-11 -13l-10 29l-11 -27l-11 -32l-10 11l-11 -6l-11 12l-10 -49l-11 1l-11 -22l-10 -14l-11 30l-11 63l-10 -122l-11 3l-11 13l-10 -33l-11 -10l-11 -6l-10 3l-11 -32l-11 17l-10 -32l-11 7l-11 -1l-11 -32l-10 -9l-11 4l-11 -18l-10 -8l-11 -4l-11 4l-10 -15l-11 -12l-11 2l-10 6l-11 -27l-11 -12l-10 -6l-11 25l-11 -28l-10 -5l-11 11l-11 5l-10 -32l-11 66l-11 -69l-10 4l-11 32l-11 -20l-10 83l-11 -49l-11 -39l-11 3l-10 19l-11 -1l-11 22l-10 -16l-11 14l-11 -12l-10 1l-11 24l-11 -13l-10 23l-11 -10l-11 24l-10 10l-11 -12l-11 4l-10 9l-11 5l-11 -22l-10 19l-11 -7l-11 0l-10 8l-11 35l-11 -45l-10 28l-11 -25l-11 6l-10 16l-11 -17l-11 11l-11 1l-10 -5l-11 16l-11 -13l-10 12l-11 -6l-11 13l-10 -18l-11 16l-11 -9l-10 -6l-11 2l-11 -8l-10 0l-11 7l-11 13l-10 -26l-11 44l-11 -36l-10 -7l-11 -5l-11 27l-10 -8l-11 -35l-11 -4l-10 2l-11 -15l-11 -16l-11 12l-10 10l-11 -44l-11 3l-10 5l-11 -23l-11 -3l-10 -13l-11 119l-11 -128l-10 14l-11 -3l-11 -29l-10 26l-11 -24l-11 6l-10 -21l-11 -15l-11 6l-10 -13l-11 -5l-11 -7l-10 0l-11 9l-11 -4l-10 -21l-11 20l-11 -24l-10 14l-11 -21l-11 23l-11 26l-10 -12l-11 -45l-11 34l-10 -26l-11 3l-11 6l-10 -7l-11 -7l-11 14l-10 -7l-11 9l-11 21l-10 2l-11 1l-11 37l-10 -51l-11 42l-11 -37l-10 8l-11 5l-11 15l-10 0l-11 -3l-11 9l-10 -3l-11 19l-11 5l-11 16l-10 11l-11 29l-11 -15l-10 32l-11 3l-11 13l-10 11l-11 23l-11 9l-10 4l-11 56l-11 -28l-10 16l-11 19l-11 6l-10 23l-11 5l-11 4l-10 12l-11 38l-11 -17l-10 12l-11 4l-11 27l-10 -2l-11 33l-11 -19l-10 13l-11 16l-11 7l-11 6l-10 16l-11 79l-11 -72l-10 31l-11 2l-11 -3l-10 4l-11 19l-11 5l-10 -6l-11 11l-11 35l-10 -16l-11 35l-11 -26l-10 -10l-11 22l-11 -15l-10 1l-11 -10l-11 -20l-10 -19l-11 12l-11 38l-10 7l-11 44l-11 23l-11 20l-10 7l-11 14l-11 17l-10 7l-11 25l-11 16l-10 -5l-11 8l-11 27l-10 -14l-11 2l-11 37l-10 -16l-11 4l-11 6l-10 17l-11 14l-11 -17l-10 7l-11 16l-11 -1l-10 10l-11 -11l-11 3l-10 11l-11 12l-11 50l-10 -47l-11 -1l-11 -3l-11 15l-10 10l-11 1l-11 11l-10 0l-11 -7l-11 9l-10 8l-11 -9l-11 3l-10 4l-11 0l-11 3l-10 13l-11 1l-11 -2l-10 -7l-11 22l-11 -9l-10 0l-11 0l-11 12l-10 -10l-11 26l-11 -17l-10 -4l-11 14l-11 -1l-11 -15l-10 6l-11 5l-11 -18l-10 -3l-11 12l-11 -12l-10 4l-11 -7l-11 -14l-10 7l-11 -12l-11 8l-10 5l-11 -18z" fill="#f74d7a" stroke="#f74d7a" stroke-width="4"/>
<path transform="scale(0.1)" d="M1473 3233l2 -74l2 41l1 -9l2 14l2 -43l2 45l1 -33l2 -37l2 11l2 11l2 13l1 43l2 -58l2 3l2 8l1 1l2 17l2 14l2 -37l2 -4l1 54l2 -45l2 15l2 -14l1 14l2 -19l2 -17l2 23l2 52l1 -51l2 19l2 27l2 -42l2 48l1 -52l2 -18l2 50l2 -32l1 11l2 -5l2 47l2 -45l2 11l1 -14l2 17l2 -25l2 19l1 -9l2 -41l2 53l2 -18l2 17l1 -6l2 24l2 -30l2 -10l1 30l2 -19l2 8l2 35l2 -33l1 -21l2 41l2 61l2 -77l1 20l2 -58l2 45l2 -1l2 14l1 -19l2 18l2 8l2 -19l1 17l2 -48l2 57l2 -25l2 14l1 16l2 -68l2 85l2 -80l1 65l2 -36l2 -47l2 99l2 -16l1 -61l2 26l2 17l2 -12l2 21l1 -24l2 -30l2 42l2 -12l1 -24l2 -17l2 57l2 -20l2 20l1 1l2 -6l2 5l2 25l1 5l2 -29l2 -20l2 -24l2 39l1 -9l2 -19l2 -2l2 19l1 -2l2 -44l2 49l2 3l2 26l1 -47l2 15l2 -49l2 50l1 -26l2 -4l2 -16l2 66l2 -65l1 35l2 2l2 4l2 2l1 -2l2 45l2 -65l2 10l2 22l1 -20l2 -54l2 43l2 17l1 -48l2 56l2 -15l2 9l2 -8l1 -22l2 3l2 29l2 -14l2 -5l1 11l2 -9l2 15l2 0l1 -18l2 24l2 -33l2 13l2 16l1 -7l2 -3l2 -8l2 -7l1 7l2 15l2 -53l2 12l2 17l1 -19l2 14l2 12l2 -8l1 -59l2 38l2 -2l2 33l2 -24l1 -38l2 42l2 -16l2 -4l1 13l2 -21l2 30l2 -6l2 25l1 -75l2 53l2 4l2 -30l1 43l2 -12l2 18l2 -19l2 9l1 -22l2 15l2 10l2 -8l1 -5l2 9l2 -34l2 5l2 11l1 30l2 -40l2 40l2 -34l2 2l1 14l2 4l2 -4l2 -64l1 53l2 -2l2 -28l2 11l2 -15l1 52l2 -4l2 -104l2 78l1 4l2 -11l2 -20l2 50l2 -35l1 6l2 -17l2 11l2 15l1 7l2 36l2 -81l2 57l2 -26l1 -50l2 48l2 -25l2 19l1 -23l2 15l2 12l2 -45l2 38l1 24l2 -25l2 -21l2 38l1 -46l2 0l2 -33l2 76l2 -43l1 54l2 -30l2 -14l2 -8l1 10l2 0l2 12l2 -5l2 -19l1 -7l2 -2l2 -10l2 -5l2 70l1 -31l2 -10l2 11l2 -41l1 6l2 20l2 -7l2 -28l2 38l1 -2l2 -30l2 9l2 -23l1 24l2 -10l2 30l2 9l2 -23l1 63l2 -84l2 -6l2 21l1 6l2 -32l2 26l2 -26l2 -30l1 34l2 -6l2 9l2 -1l1 3l2 3l2 -48l2 85l2 -35l1 -24l2 34l2 -20l2 12l1 -30l2 -12l2 -17l2 21l2 28l1 -26l2 -10l2 -23l2 86l1 -65l2 53l2 -66l2 5l2 -4l1 -12l2 11l2 24l2 -28l2 -23l1 31l2 -6l2 29l2 -62l1 40l2 4l2 -10l2 9l2 -18l1 -41l2 10l2 -19l2 -3l1 59l2 -38l2 -28l2 -23l2 93l1 -2l2 -52l2 18l2 14l1 -39l2 28l2 35l2 -62l2 -8l1 -17l2 -12l2 16l2 8l1 7l2 23l2 -36l2 -42l2 5l1 -41l2 55l2 41l2 -75l1 -9l2 56l2 9l2 -52l2 -19l1 46l2 -25l2 8l2 8l1 0l2 -44l2 10l2 5l2 51l1 -126l2 72l2 -27l2 25l2 -47l1 50l2 -49l2 4l2 -35l1 54l2 -17l2 -15l2 -71l2 99l1 -54l2 25l2 -31l2 -13l1 9l2 -3l2 -2l2 23l2 -13l1 40l2 -40l2 10l2 -16l1 -31l2 8l2 -16l2 -9l2 100l1 -84l2 11l2 1l2 33l1 -69l2 -7l2 2l2 31l2 -24l1 -10l2 -72l2 59l2 30l1 0l2 -4l2 -4l2 20l2 -39l1 43l2 3l2 -35l2 27l1 -9l2 55l2 -85l2 24l2 5l1 -17l2 9l2 28l2 -80l2 74l1 -41l2 -25l2 74l2 -21l1 28l2 -54l2 42l2 23l2 -70l1 12l2 55l2 -61l2 30l1 -73l2 30l2 68l2 -7l2 18l1 -29l2 4l2 -20l2 20l1 47l2 -18l2 -65l2 8l2 39l1 0l2 1l2 -5l2 90l1 -115l2 46l2 -28l2 83l2 -82l1 -32l2 105l2 -110l2 30l1 36l2 25l2 -81l2 27l2 -10l1 25l2 16l2 -49l2 53l1 -54l2 75l2 -22l2 15l2 -82l1 89l2 -19l2 -53l2 11l2 -59l1 10l2 35l2 -4l2 74l1 -29l2 -18l2 -1l2 30l2 -14l1 -3l2 -58l2 18l2 21l1 -3l2 -18l2 29l2 -14l2 42l1 -72l2 -10l2 17l2 -4l1 2l2 -51l2 54l2 44l2 -9l1 -54l2 -12l2 8l2 -3l1 14l2 54l2 -25l2 33l2 -44l1 28l2 -45l2 7l2 53l1 -82l2 -2l2 64l2 -48l2 -18l1 29l2 -35l2 19l2 -28l1 26l2 9l2 -21l2 -10l2 16l1 20l2 9l2 -13l2 5l2 -25l1 0l2 7l2 -4l2 -6l1 -44l2 10l2 53l2 -31l2 22l1 -8l2 3l2 11l2 21l1 33l2 -83l2 -31l2 63l2 -44l1 26l2 -21l2 32l2 -19l1 -1l2 66l2 -82l2 10l2 72l1 -98l2 20l2 -9l2 -6l1 23l2 20l2 -21l2 -2l2 -84l1 10l2 72l2 -4l2 -24l1 -9l2 37l2 9l2 -94l2 0l1 107l2 5l2 -31l2 -35l1 -12l2 27l2 38l2 -59l2 -14l1 18l2 14l2 -36l2 19l2 32l1 -40l2 43l2 -74l2 14l1 46l2 -41l2 -35l2 108l2 -66l1 -59l2 101l2 -46l2 39l1 -45l2 74l2 -27l2 -36l2 -24l1 -9l2 -3l2 -25l2 13l1 -3l2 54l2 -28l2 -111l2 28l1 46l2 1l2 -10l2 45l1 -80l2 76l2 -12l2 -76l2 139l1 -82l2 67l2 -37l2 -20l1 7l2 -19l2 30l2 -23l2 34l1 -28l2 32l2 -70l2 64l1 -68l2 35l2 -5l2 -51l2 34l1 117l2 -133l2 112l2 -108l2 21l1 32l2 -51l2 12l2 -80l1 81l2 -82l2 17l2 66l2 6l1 -75l2 48l2 -11l2 12l1 31l2 -30l2 19l2 18l2 -44l1 -73l2 5l2 56l2 -9l1 -27l2 -18l2 35l2 25l2 -4l1 -54l2 -52l2 110l2 47l1 -100l2 29l2 -9l2 -39l2 39l1 47l2 20l2 -68l2 37l1 -51l2 53l2 -34l2 38l2 -41l1 2l2 -38l2 -28l2 52l1 22l2 -100l2 55l2 -11l2 -1l1 -31l2 14l2 10l2 -5l2 56l1 -10l2 -19l2 -9l2 1l1 -12l2 9l2 15l2 40l2 -88l1 7l2 51l2 -51l2 2l1 10l2 67l2 -24l2 -23l2 -80l1 86l2 -20l2 26l2 -23l1 -32l2 85l2 26l2 -127l2 21l1 22l2 -58l2 -2l2 109l1 -65l2 -53l2 62l2 -14l2 -47l1 42l2 32l2 -19l2 21l1 -69l2 81l2 -100l2 94l2 -63l1 97l2 -87l2 -50l2 -5l1 -8l2 49l2 -8l2 -6l2 -16l1 36l2 -56l2 27l2 -30l2 23l1 -8l2 51l2 -12l2 31l1 -37l2 -4l2 -38l2 76l2 -164l1 122l2 -50l2 7l2 130l1 -83l2 -64l2 142l2 -117l2 62l1 -17l2 -26l2 76l2 -75l1 30l2 4l2 -54l2 -103l2 116l1 -8l2 21l2 25l2 -37l1 -46l2 48l2 -51l2 66l2 -101l1 152l2 -82l2 1l2 10l1 50l2 1l2 -33l2 -13l2 48l1 -6l2 -60l2 -18l2 76l1 -13l2 1l2 -118l2 73l2 20l1 -40l2 -114l2 107l2 95l2 -49l1 11l2 -2l2 31l2 -30l1 25l2 -53l2 11l2 53l2 11l1 -46l2 -42l2 6l2 20l1 119l2 -104l2 9l2 -16l2 33l1 -16l2 -5l2 -125l2 73l1 33l2 -6l2 3l2 -12l2 22l1 -15l2 -39l2 7l2 19l1 -38l2 40l2 45l2 28l2 -40l1 -23l2 -17l2 -25l2 61l1 8l2 -58l2 -14l2 61l2 -38l1 -29l2 39l2 15l2 75l1 -125l2 25l2 20l2 23l2 29l1 -42l2 1l2 -44l2 86l2 -98l1 53l2 -42l2 80l2 -48l1 -32l2 42l2 58l2 -41l2 -31l1 71l2 3l2 -62l2 45l1 -60l2 69l2 25l2 -39l2 -82l1 87l2 -31l2 -9l2 44l1 -74l2 34l2 -9l2 78l2 3l1 119l2 -175l2 2l2 -34l1 -28l2 65l2 1l2 -38l2 -27l1 87l2 -53l2 33l2 14l1 -52l2 59l2 11l2 -81l2 44l1 9l2 -4l2 -23l2 32l1 -40l2 13l2 -38l2 8l2 15l1 40l2 -12l2 27l2 -125l2 112l1 -27l2 -29l2 99l2 -19l1 -15l2 23l2 10l2 -27l2 -65l1 21l2 26l2 1l2 61l1 -84l2 10l2 55l2 -46l2 15l1 12l2 18l2 -11l2 11l1 -51l2 5l2 2l2 19l2 22l1 -101l2 142l2 -110l2 32l1 11l2 21l2 -9l2 35l2 8l1 -45l2 57l2 -89l2 -10l1 265l2 -167l2 -65l2 3l2 5l1 -11l2 -11l2 -3l2 -32l1 64l2 -30l2 90l2 -52l2 40l1 -93l2 -33l2 65l2 105l2 -80l1 -4l2 -11l2 -26l2 6l1 130l2 -143l2 67l2 3l2 -69l1 60l2 41l2 -1l2 -49l1 -29l2 -21l2 61l2 11l2 -73l1 74l2 -67l2 44l2 1l1 18l2 -18l2 28l2 8l2 -19l1 20l2 -34l2 9l2 13l1 -1l2 2l2 -69l2 62l2 22l1 -10l2 -33l2 31l2 0l1 4l2 -14l2 -7l2 -1l2 74l1 -19l2 56l2 -121l2 -10l1 -6l2 39l2 -32l2 43l2 4l1 51l2 -26l2 -6l2 -52l2 -26l1 76l2 -29l2 4l2 38l1 33l2 -33l2 25l2 -39l2 -6l1 2l2 0l2 -22l2 50l1 -63l2 90l2 -61l2 -11l2 65l1 51l2 -123l2 47l2 -51l1 1l2 28l2 0l2 -34l2 22l1 46l2 -38l2 -13l2 13l1 1l2 12l2 -1l2 29l2 18l1 -89l2 62l2 -29l2 60l1 -57l2 35l2 -132l2 139l2 -1l1 -66l2 -6l2 113l2 -82l1 -44l2 97l2 -66l2 42l2 17l1 -22l2 18l2 19l2 -125l2 94l1 10l2 -55l2 33l2 -48l1 56l2 -21l2 7l2 0l2 20l1 -10l2 -61l2 82l2 -4l1 -6l2 -31l2 6l2 -18l2 79l1 -55l2 16l2 4l2 -15l1 74l2 -77l2 5l2 54l2 -45l1 -56l2 67l2 -33l2 28l1 21l2 4l2 -17l2 -58l2 17l1 53l2 -58l2 39l2 20l1 -38l2 72l2 -3l2 -132l2 142l1 -81l2 71l2 -51l2 6l1 9l2 60l2 -71l2 -2l2 29l1 -28l2 -62l2 85l2 -33l2 48l1 -52l2 -8l2 -63l2 54l1 17l2 -33l2 82l2 -70l2 55l1 3l2 -58l2 29l2 -37l1 95l2 -58l2 42l2 -23l2 55l1 -96l2 25l2 41l2 12l1 -15l2 -77l2 51l2 8l2 -28l1 17l2 -7l2 -17l2 14l1 -18l2 70l2 -42l2 14l2 -15l1 5l2 20l2 -9l2 -44l1 51l2 58l2 -96l2 -12l2 42l1 -13l2 32l2 -21l2 -44l1 11l2 22l2 15l2 45l2 -65l1 -4l2 -20l2 -32l2 55l2 -19l1 70l2 -78l2 12l2 -16l1 23l2 -5l2 -22l2 72l2 -43l1 -14l2 62l2 13l2 -53l1 11l2 -16l2 -1l2 47l2 -37l1 -26l2 50l2 -2l2 28l1 -64l2 -38l2 111l2 -71l2 -5l1 49l2 -6l2 22l2 -9l1 -31l2 -17l2 18l2 -25l2 22l1 45l2 -87l2 9l2 63l1 -83l2 43l2 11l2 -59l2 147l1 -30l2 -78l2 32l2 23l1 -82l2 34l2 59l2 -21l2 -50l1 -32l2 126l2 -75l2 21l2 45l1 -52l2 47l2 -35l2 -72l1 36l2 -9l2 6l2 8l2 -21l1 72l2 -27l2 -41l2 53l1 -10l2 -55l2 -11l2 71l2 7l1 -47l2 10l2 31l2 -42l1 1l2 16l2 -96l2 53l2 18l1 -7l2 -65l2 62l2 61l1 -35l2 8l2 21l2 -28l2 0l1 11l2 14l2 -44l2 81l1 -81l2 27l2 -9l2 88l2 -136l1 114l2 -29l2 -50l2 41l1 -6l2 61l2 -61l2 -22l2 -15l1 32l2 -17l2 -21l2 50l2 3l1 -91l2 94l2 -70l2 39l1 -48l2 71l2 -39l2 6l2 18l1 -18l2 36l2 -24l2 10l1 -39l2 28l2 43l2 -35l2 -10l1 27l2 -76l2 30l2 -15l1 54l2 -13l2 -48l2 81l2 -61l1 5l2 23l2 -21l2 39l1 -44l2 48l2 35l2 -125l2 71l1 47l2 -105l2 58l2 93l1 -118l2 -34l2 19l2 -47l2 62l1 -26l2 54l2 -40l2 -47l1 34l2 11l2 72l2 -55l2 31l1 -71l2 51l2 -49l2 57l2 -100l1 104l2 -45l2 -86l2 82l1 37l2 -52l2 -13l2 3l2 97l1 -76l2 80l2 -139l2 62l1 18l2 -59l2 25l2 57l2 -97l1 64l2 51l2 -109l2 -5l1 9l2 23l2 49l2 -63l2 -33l1 36l2 -28l2 81l2 -62l1 2l2 83l2 4l2 -32l2 -28l1 -14l2 23l2 -6l2 1l1 -7l2 -18l2 2l2 19l2 -12l1 24l2 -44l2 45l2 -75l1 57l2 -11l2 36l2 -15l2 -19l1 5l2 22l2 18l2 -43l2 -4l1 -14l2 -25l2 54l2 58l1 -63l2 57l2 -21l2 -81l2 16l1 41l2 0l2 -20l2 58l1 -79l2 28l2 -77l2 101l2 -73l1 59l2 -60l2 69l2 -60l1 40l2 13l2 -24l2 -23l2 2l1 -42l2 27l2 121l2 -79l1 55l2 -57l2 -36l2 68l2 -6l1 -47l2 15l2 -66l2 34l1 3l2 -43l2 80l2 -17l2 36l1 -43l2 -27l2 -11l2 51l2 25l1 2l2 24l2 -53l2 -43l1 133l2 -6l2 -125l2 107l2 -68l1 57l2 -71l2 1l2 23l1 -22l2 28l2 -17l2 -44l2 27l1 62l2 6l2 -18l2 0l1 -9l2 24l2 -43l2 23l2 -11l1 13l2 -20l2 64l2 -96l1 44l2 -2l2 -5l2 -16l2 -9l1 41l2 15l2 52l2 -64l1 20l2 0l2 -93l2 149l2 -66l1 -39l2 9l2 -9l2 88l1 -10l2 -54l2 33l2 -69l2 52l1 2l2 -22l2 40l2 -13l2 29l1 -22l2 28l2 -36l2 58l1 4l2 -67l2 9l2 42l2 -25l1 29l2 -106l2 126l2 -113l1 89l2 -42l2 24l2 5l2 -45l1 5l2 39l2 22l2 -102l1 24l2 45l2 15l2 -19l2 8l1 -37l2 75l2 -33l2 28l1 -71l2 -16l2 66l2 -21l2 -29l1 59l2 23l2 -67l2 19l1 25l2 -56l2 43l2 69l2 -72l1 15l2 -65l2 65l2 8l1 -22l2 8l2 57l2 -51l2 16l1 -58l2 -33l2 120l2 -4l2 -4l1 -5l2 2l2 -25l2 -34l1 82l2 9l2 11l2 -99l2 -7l1 98l2 4l2 -59l2 -32l1 4l2 28l2 -15l2 12l2 31l1 -82l2 65l2 38l2 -20l1 37l2 -52l2 -35l2 81l2 -80l1 -31l2 59l2 53l2 -9l1 -17l2 34l2 0l2 -32l2 -2l1 -25l2 62l2 -102l2 28l1 7l2 53l2 -79l2 71l2 -71l1 26l2 67l2 -13l2 -76l1 30l2 40l2 -11l2 1l2 34l1 -18l2 16l2 -6l2 -29l2 49l1 -55l2 22l2 -21l2 -2l1 -11l2 22l2 -2l2 31l2 -24l1 50l2 -20l2 -32l2 28l1 -16l2 51l2 -78l2 65l2 -31l1 15l2 -30l2 44l2 22l1 30l2 -51l2 31l2 -56l2 -28l1 121l2 -29l2 -51l2 -29l1 31l2 1l2 -5l2 -1l2 -34l1 35l2 62l2 -24l2 -21l1 34l2 -16l2 10l2 7l2 -45l1 37l2 24l2 -11l2 -23l1 -66l2 61l2 -39l2 34l2 86l1 -80l2 41l2 17l2 -7l2 -92l1 110l2 -30l2 -56l2 17l1 78l2 -50l2 14l2 -9l2 -29l1 44l2 -7l2 -56l2 107l1 -46l2 -26l2 57l2 -19l2 23l1 -46l2 26l2 -43l2 -7l1 33l2 14l2 -19l2 8l2 42l1 -72l2 28l2 -16l2 69l1 -70l2 -38l2 49l2 67l2 -46l1 4l2 -7l2 15l2 -22l1 32l2 -21l2 30l2 -23l2 -27l1 48l2 -36l2 51l2 -15l1 -3l2 -46l2 65l2 -62l2 86l1 -40l2 -32l2 -12l2 75l2 7l1 -64l2 68l2 -56l2 35l1 -14l2 -72l2 25l2 24l2 70l1 -52l2 10l2 6l2 -44l1 97l2 -62l2 7l2 28l2 -75l1 94l2 -39l2 -1l2 72l1 11l2 -46l2 -54l2 -3l2 12l1 12l2 77l2 -74l2 24l1 -51l2 -4l2 -26l2 48l2 -2l1 58l2 -33l2 42l2 -64l1 65l2 -29l2 20l2 -10l2 -27l1 32l2 -22l2 38l2 -72l1 63l2 -49l2 -34l2 141l2 -43l1 -23l2 -41l2 52l2 -26l2 35l1 -38l2 55l2 -61l2 117l1 -32l2 -112l2 51l2 34l2 -93l1 36l2 -2l2 48l2 -30l1 4l2 67l2 -83l2 40l2 -76l1 33l2 60l2 0l2 -23l1 -13l2 34l2 -8l2 -21l2 7l1 -22l2 29l2 35l2 28l1 -77l2 36l2 1l2 -1l2 40l1 -34l2 67l2 -65l2 16l1 -81l2 43l2 21l2 -11l2 -16l1 46l2 -15l2 5l2 -84l1 73l2 62l2 -81l2 -53l2 107l1 -131l2 107l2 -31l2 48l2 -8l1 30l2 -5l2 34l2 -97l1 69l2 -44l2 2l2 31l2 -20l1 5l2 13l2 -15l2 1l1 33l2 9l2 -12l2 -28l2 -36l1 -2l2 36l2 -18l2 25l1 -28l2 30l2 -7l2 21l2 -7l1 -55l2 92l2 -34l2 19l1 -45l2 -24l2 63l2 74l2 -99l1 1l2 69l2 -42l2 -4l1 67l2 -87l2 8l2 7l2 39l1 -9l2 -1l2 -32l2 44l1 -71l2 23l2 86l2 -112l2 45l1 22l2 -18l2 57l2 -57l2 78l1 -41l2 -68l2 3l2 48l1 19l2 -54l2 29l2 -6l2 -11l1 50l2 -53l2 85l2 -102l1 88l2 -26l2 2l2 -39l2 0l1 13l2 -5l2 3l2 17l1 54l2 12l2 1l2 -64l2 7l1 0l2 -11l2 14l2 23l1 15l2 12l2 -88l2 10l2 66l1 -30l2 -20l2 -32l2 64l1 -21l2 -27l2 84l2 -28l2 -19l1 20l2 -79l2 36l2 20l1 34l2 -51l2 8l2 34l2 -2l1 30l2 -38l2 -26l2 -2l2 12l1 -5l2 41l2 -3l2 -46l1 22l2 36l2 -35l2 -9l2 5l1 17l2 19l2 -25l2 -36l1 44l2 24l2 -28l2 45l2 -41l1 16l2 -35l2 25l2 -26l1 -34l2 71l2 17l2 -35l2 16l1 -6l2 21l2 -31l2 14l1 62l2 -52l2 -16l2 -23l2 50l1 7l2 -54l2 50l2 -20l1 -9l2 -7l2 21l2 31l2 -80l1 63l2 3l2 -69l2 32l1 54l2 -16l2 -6l2 15l2 33l1 -75l2 2l2 15l2 18l2 -16l1 -11l2 69l2 -41l2 7l1 -34l2 12l2 44l2 -18l2 -65l1 75l2 -30l2 22l2 -50l1 36l2 11l2 21l2 -25l2 -29l1 5l2 55l2 -78l2 50l1 23l2 -32l2 21l2 -1l2 3l1 -14l2 11l2 33l2 -59l1 29l2 -46l2 18l2 -1l2 12l1 -29l2 44l2 19l2 -36l1 83l2 -62l2 -15l2 17l2 -44l1 15l2 17l2 14l2 -40l1 48l2 -6l2 -31l2 4l2 -38l1 61l2 44l2 -67l2 -16l2 38l1 -46l2 -5l2 65l2 -5l1 21l2 -47l2 -5l2 3l2 76l1 -39l2 18l2 5l2 -7l1 7l2 -37l2 -16l2 -5l2 17l1 18l2 -18l2 -15l2 23l1 -9l2 10l2 6l2 -15l2 31l1 -57l2 102l2 -86l2 48l1 -75l2 17l2 44l2 -9l2 18l1 -28l2 -12l2 -57l2 104l1 -68l2 48l2 -23l2 -34l2 28l1 3l2 17l2 -5l2 -4l1 -27l2 70l2 -25l2 20l2 -8l1 -4l2 -50l2 -27l2 21l2 67l1 -33l2 56l2 -65l2 -22l1 19l2 -8l2 30l2 45l2 1l1 -49l2 -18l2 -18l2 43l1 -11l2 -5l2 -21l2 30l2 27l1 -56l2 17l2 1l2 44l1 -33l2 45l2 8l2 -46l2 5l1 -26l2 -23l2 39l2 -48l1 63l2 -35l2 53l2 -36l2 11l1 -2l2 -21l2 65l2 -53l1 25l2 -24l2 -16l2 29l2 0l1 20l2 -44l2 32l2 -29l1 49l2 -73l2 62l2 -56l2 42l1 -38l2 30l2 -22l2 18l2 -33l1 16l2 0l2 -26l2 62l1 -52l2 32l2 41l2 -51l2 18l1 -50l2 57l2 -14l2 -4l1 55l2 -62l2 39l2 -63l2 -6l1 44l2 41l2 -46l2 0l1 -14l2 27l2 23l2 -27l2 20l1 -70l2 65l2 -2l2 -15l1 31l2 -21l2 -8l2 10l2 -6l1 -39l2 21l2 46l2 -23l1 -31l2 37l2 -19l2 3l2 -15l1 19l2 -1l2 19l2 -32l1 34l2 -69l2 45l2 6l2 -27l1 23l2 -4l2 3l2 18l2 5l1 -5l2 -48l2 46l2 -6l1 1l2 -29l2 -74l2 116l2 -38l1 11l2 11l2 -31l2 57l1 -55l2 16l2 32l2 -67l2 19l1 -8l2 68l2 -31l2 7l1 -30l2 -18l2 84l2 -50l2 4l1 -29l2 27l2 32l2 -27l1 21l2 -6l2 -21l2 13l2 -19l1 46l2 -99l2 28l2 14l1 52l2 22l2 -33l2 -16l2 -64l1 24l2 48l2 -45l2 0l1 31l2 -31l2 23l2 26l2 13l1 -27l2 -29l2 61l2 7l2 -56l1 84l2 -116l2 58l2 -30l1 -29l2 85l2 -10l2 -85l2 66l1 -4l2 -9l2 -22l2 -6l1 31l2 11l2 -7l2 -9l2 -26l1 31l2 -43l2 86l2 -53l1 -32l2 13l2 24l2 32l2 -5l1 -14l2 -12l2 15l2 61l1 -48l2 -33l2 -8l2 58l2 -27l1 34l2 -28l2 -179l2 163l1 10l2 7l2 16l2 17l2 -47l1 6l2 -45l2 80l2 -53l1 -51l2 113l2 -67l2 58l2 -55l1 -24l2 38l2 -7l2 25l2 -25l1 -22l2 34l2 -1l2 -14l1 -11l2 63l2 -44l2 20l2 -31l1 -14l2 19l2 -25l2 58l1 -15l2 15l2 -27l2 0l2 7l1 26l2 -29l2 9l2 -27l1 23l2 -37l2 24l2 54l2 -44l1 33l2 -82l2 8l2 38l1 -12l2 48l2 21l2 -44l2 -7l1 32l2 -41l2 -6l2 -9l1 -23l2 19l2 30l2 -12l2 -12l1 42l2 -88l2 38l2 29l1 10l2 -114l2 76l2 -2l2 -22l1 21l2 20l2 -13l2 41l2 -41l1 57l2 -50l2 -3l2 54l1 -89l2 78l2 -56l2 40l2 -21l1 25l2 -81l2 37l2 -20l1 27l2 2l2 14l2 10l2 -22l1 11l2 8l2 32l2 -28l1 -23l2 28l2 -21l2 12l2 23l1 -3l2 -4l2 -12l2 -1l1 -35l2 56l2 25l2 -70l2 29l1 -9l2 -68l2 28l2 22l1 -9l2 21l2 -21l2 40l2 3l1 -7l2 -52l2 0l2 56l1 -46l2 34l2 -31l2 35l2 -32l1 27l2 5l2 -7l2 -5l2 19l1 48l2 -106l2 53l2 37l1 12l2 13l2 -56l2 -51l2 77l1 -34l2 39l2 -75l2 19l1 1l2 -27l2 -7l2 15l2 42l1 19l2 -7l2 18l2 -92l1 52l2 -8l2 -2l2 -47l2 77l1 -56l2 23l2 12l2 46l1 -74l2 43l2 -7l2 -18l2 4l1 -27l2 46l2 -21l2 -3l1 6l2 -17l2 25l2 -38l2 63l1 5l2 -36l2 -32l2 44l1 3l2 -7l2 -13l2 8l2 -12l1 52l2 -83l2 24l2 54l2 -75l1 24l2 -26l2 68l2 -73l1 42l2 54l2 -73l2 28l2 18l1 -21l2 45l2 -65l2 21l1 1l2 -44l2 36l2 18l2 7l1 -22l2 -30l2 43l2 12l1 -51l2 22l2 3l2 -55l2 85l1 -36l2 51l2 -38l2 -23l1 -14l2 62l2 -55l2 2l2 23l1 -118l2 115l2 23l2 -34l1 59l2 -121l2 47l2 36l2 -26l1 2l2 -36l2 66l2 17l1 20l2 -40l2 27l2 -36l2 -15l1 22l2 13l2 -55l2 36l2 -17l1 -33l2 79l2 -10l2 -89l1 69l2 23l2 -20l2 8l2 17l1 -21l2 -10l2 -1l2 -14l1 94l2 -41l2 -59l2 32l2 -43l1 23l2 45l2 -51l2 60l1 -52l2 -25l2 -23l2 56l2 -20l1 11l2 -13l2 86l2 -55l1 -18l2 -5l2 32l2 -41l2 -7l1 27l2 11l2 0l2 -13l1 -27l2 -8l2 51l2 12l2 -4l1 -45l2 19l2 -2l2 -4l1 2l2 13l2 24l2 -11l2 -19l1 -7l2 20l2 9l2 -54l2 47l1 -17l2 13l2 14l2 17l1 -25l2 8l2 -43l2 51l2 -19l1 -27l2 19l2 -15l2 -9l1 64l2 -24l2 6l2 -59l2 38l1 -16l2 -31l2 53l2 -11l1 -9l2 18l2 -39l2 11l2 -5l1 25l2 10l2 0l2 0l1 33l2 -51l2 -12l2 21l2 13l1 -14l2 -4l2 -3l2 -38l1 68l2 -31l2 -8l2 15l2 8l1 21l2 -11l2 -33l2 -19l1 53l2 -28l2 -2l2 -12l2 20l1 -15l2 -2l2 52l2 -30l2 46l1 5l2 -29l2 18l2 -52l1 -12l2 33l2 -4l2 2l2 1l1 -10l2 -6l2 21l2 8l1 -6l2 -34l2 31l2 -47l2 43l1 -41l2 65l2 -13l2 -29l1 -1l2 17l2 -56l2 50l2 -6l1 22l2 -56l2 20l2 11l1 52l2 -50l2 21l2 -22l2 -13l1 42l2 -24l2 -17l2 18l1 12l2 19l2 -10l2 15l2 -57l1 23l2 33l2 -31l2 33l1 50l2 -113l2 1l2 96l2 -48l1 -24l2 15l2 12l2 -8l2 -7l1 8l2 -20l2 12l2 13l1 -20l2 43l2 -78l2 80l2 -42l1 -11l2 -1l2 4l2 -26l1 60l2 -26l2 -5l2 16l2 2l1 -47l2 50l2 -6l2 -5l1 2l2 -13l2 10l2 -15l2 6l1 -8l2 -51l2 84l2 -63l1 53l2 -28l2 13l2 11l2 42l1 -89l2 59l2 1l2 -47l1 25l2 -45l2 5l2 24l2 12l1 -13l2 52l2 -37l2 1l1 15l2 -24l2 49l2 -59l2 -10l1 65l2 -36l2 -35l2 28l2 36l1 -1l2 -46l2 -24l2 73l1 -28l2 20l2 -12l2 -15l2 9l1 16l2 -69l2 56l2 0l1 -32l2 28l2 5l2 -29l2 50l1 -44l2 -7l2 9l2 21l1 -5l2 43l2 -37" fill="none" stroke="#0af50a" stroke-width="12" stroke-linejoin="miter" stroke-miterlimit="2"/>
<path transform="scale(0.1)" d="M1473 3818l11 11l10 -10l11 9l11 -5l10 -2l11 11l11 -1l10 -13l11 13l11 -1l10 -4l11 2l11 -7l10 9l11 5l11 -5l11 2l10 -18l11 22l11 -13l10 -3l11 5l11 -5l10 7l11 -4l11 1l10 1l11 -3l11 -9l10 10l11 -14l11 -1l10 -2l11 -4l11 0l10 4l11 -18l11 -41l10 39l11 -14l11 11l10 1l11 -6l11 -5l11 -3l10 -23l11 16l11 -1l10 -14l11 -5l11 -11l10 2l11 3l11 -8l10 -35l11 4l11 0l10 3l11 -32l11 -12l10 -4l11 1l11 -53l10 20l11 -7l11 -11l10 -16l11 -20l11 -17l10 -34l11 -21l11 -15l10 -18l11 -9l11 -7l11 -15l10 7l11 -6l11 5l10 1l11 -3l11 26l10 1l11 0l11 -15l10 -5l11 -14l11 3l10 -7l11 -13l11 -6l10 -11l11 -7l11 -30l10 18l11 -14l11 -24l10 6l11 -34l11 24l10 -30l11 -34l11 27l11 -19l10 -3l11 -20l11 -8l10 -1l11 -25l11 -22l10 3l11 -26l11 -13l10 0l11 -12l11 -40l10 4l11 9l11 -47l10 0l11 19l11 -7l10 -24l11 -15l11 1l10 3l11 -11l11 -4l10 -17l11 -13l11 9l10 -10l11 -7l11 -41l11 -5l10 11l11 6l11 1l10 -25l11 -7l11 -16l10 18l11 1l11 1l10 -11l11 13l11 -14l10 2l11 9l11 -6l10 6l11 -11l11 1l10 -1l11 17l11 -12l10 5l11 -16l11 26l10 11l11 -10l11 -27l11 23l10 -4l11 17l11 13l10 -7l11 4l11 9l10 -1l11 7l11 11l10 -6l11 7l11 -4l10 19l11 9l11 -6l10 -2l11 0l11 3l10 5l11 17l11 12l10 -3l11 4l11 10l10 -12l11 8l11 13l10 -49l11 24l11 1l11 19l10 -7l11 10l11 -3l10 15l11 0l11 14l10 -11l11 -6l11 4l10 19l11 3l11 0l10 -7l11 -3l11 -23l10 30l11 5l11 -11l10 -21l11 36l11 -8l10 -4l11 -1l11 9l10 1l11 -12l11 -4l11 8l10 1l11 -20l11 -4l10 29l11 -39l11 32l10 -1l11 -26l11 -13l10 41l11 -11l11 1l10 1l11 -27l11 16l10 8l11 1l11 -10l10 6l11 -22l11 5l10 7l11 -7l11 3l10 -4l11 3l11 -3l10 -14l11 -7l11 11l11 3l10 -22l11 14l11 -8l10 -10l11 12l11 4l10 -7l11 13l11 -10l10 21l11 7l11 -10l10 15l11 8l11 0l10 10l11 6l11 -11l10 31l11 -3l11 11l10 12l11 -19l11 37l10 -9l11 24l11 -68l11 71l10 20l11 2l11 -14l10 29l11 -30l11 37l10 19l11 -37l11 39l10 14l11 12l11 3l10 -1l11 22l11 -5l10 -8l11 -5l11 45l10 -12l11 5l11 10l10 13l11 14l11 12l10 0l11 0l11 22l11 7l10 6l11 0l11 -2l10 20l11 10l11 -8l10 25l11 -2l11 -6l10 29l11 4l11 -59l10 42l11 19l11 18l10 0l11 26l11 -3l10 -2l11 29l11 3l10 13l11 -12l11 12l10 13l11 -8l11 23l10 -3l11 10l11 8l11 -12l10 13l11 7l11 -6l10 13l11 10l11 8l10 -3l11 0l11 7l10 15l11 -1l11 7l10 5l11 3l11 -22l10 21l11 -20l11 31l10 -8l11 -22l11 35l10 -4l11 1l11 -17l10 19l11 8l11 3l11 1l10 5l11 -4l11 -5l10 13l11 -4l11 -15l10 -3l11 14l11 1l10 -9l11 12l11 -1l10 4l11 -13l11 11l10 12l11 -5l11 -24l10 30l11 -15l11 -1l10 11l11 -5l11 0l10 0l11 6l11 -6l10 -17l11 -1l11 22l11 4l10 -13l11 -7l11 14l10 -19l11 25l11 -14l10 8l11 7l11 -6l10 7l11 -15l11 2l10 9l11 -4l11 1l10 -24l11 9l11 -16l10 16l11 8l11 -10l10 17l11 -13l11 16l10 4l11 -7l11 -6l11 -2l10 -32l11 35l11 -1l10 -11l11 24l11 -13l10 -11l11 13l11 14l10 -15l11 -8l11 5l10 17l11 -8l11 8l10 -7l11 4l11 -12l10 -2l11 15l11 -13l10 -4l11 15l11 4l10 1l11 -3l11 4l10 -72l11 51l11 5l11 15l10 -15l11 17l11 -2l10 -13l11 12l11 -4l10 3l11 -13l11 16l10 1l11 -14l11 2l10 -3l11 -2l11 -11l10 22l11 -13l11 3l10 0l11 -9l11 6l10 10l11 -22l11 35l10 -14l11 6l11 10l11 -8l10 1l11 6l11 -15l10 5l11 6l11 6l10 -4l11 5l11 -11l10 9l11 -2l11 4l10 0l11 -9l0 78l-11 -6l-10 18l-11 -11l-11 -3l-10 24l-11 -19l-11 -7l-10 26l-11 -28l-11 1l-10 -3l-11 3l-11 -3l-10 7l-11 20l-11 -22l-11 14l-10 -4l-11 -10l-11 4l-10 -7l-11 16l-11 -8l-10 -9l-11 -1l-11 -3l-10 17l-11 0l-11 19l-10 -34l-11 4l-11 4l-10 4l-11 0l-11 -1l-10 5l-11 7l-11 -3l-10 -19l-11 9l-11 -9l-10 6l-11 1l-11 -9l-11 10l-10 16l-11 -27l-11 7l-10 9l-11 -9l-11 7l-10 -6l-11 18l-11 9l-10 -21l-11 -17l-11 2l-10 -3l-11 3l-11 -2l-10 22l-11 -14l-11 11l-10 -20l-11 17l-11 -3l-10 -13l-11 17l-11 -7l-10 12l-11 -10l-11 -5l-10 -6l-11 15l-11 -6l-11 -14l-10 1l-11 2l-11 5l-10 -2l-11 5l-11 -7l-10 5l-11 -10l-11 11l-10 1l-11 13l-11 -20l-10 -3l-11 11l-11 -12l-10 12l-11 -3l-11 -3l-10 1l-11 12l-11 -10l-10 -4l-11 -3l-11 -2l-10 6l-11 6l-11 5l-11 4l-10 -15l-11 0l-11 1l-10 -3l-11 7l-11 -12l-10 19l-11 -14l-11 -2l-10 8l-11 -5l-11 -4l-10 0l-11 11l-11 -7l-10 -7l-11 29l-11 -27l-10 8l-11 -15l-11 13l-10 0l-11 8l-11 -20l-10 31l-11 -27l-11 2l-10 -2l-11 4l-11 -4l-11 -1l-10 -5l-11 52l-11 -58l-10 0l-11 28l-11 -17l-10 -24l-11 18l-11 -22l-10 -6l-11 -3l-11 -4l-10 -6l-11 9l-11 -11l-10 0l-11 6l-11 -24l-10 1l-11 2l-11 -8l-10 5l-11 -19l-11 0l-10 -12l-11 -6l-11 16l-11 -14l-10 0l-11 0l-11 -7l-10 -10l-11 -19l-11 -4l-10 -8l-11 2l-11 -23l-10 17l-11 -28l-11 21l-10 -25l-11 -12l-11 -14l-10 5l-11 -4l-11 -21l-10 -1l-11 -15l-11 21l-10 -25l-11 -4l-11 -16l-10 16l-11 -16l-11 -24l-10 -4l-11 -11l-11 2l-11 2l-10 -3l-11 -27l-11 -1l-10 2l-11 -21l-11 3l-10 16l-11 -17l-11 -20l-10 -10l-11 -11l-11 9l-10 -12l-11 -25l-11 17l-10 -18l-11 -9l-11 -7l-10 -13l-11 7l-11 -23l-10 1l-11 -17l-11 1l-10 14l-11 -39l-11 -1l-11 -11l-10 7l-11 -25l-11 -6l-10 -2l-11 -1l-11 -18l-10 -1l-11 -16l-11 -1l-10 2l-11 -9l-11 -10l-10 14l-11 -20l-11 -2l-10 -14l-11 -3l-11 25l-10 -41l-11 3l-11 4l-10 28l-11 -28l-11 12l-10 -1l-11 -8l-11 8l-11 -3l-10 26l-11 -22l-11 2l-10 41l-11 13l-11 -31l-10 -2l-11 -10l-11 3l-10 87l-11 -56l-11 5l-10 -1l-11 -7l-11 -8l-10 16l-11 -8l-11 17l-10 -29l-11 7l-11 13l-10 -17l-11 34l-11 -29l-10 6l-11 4l-11 7l-10 -1l-11 -1l-11 7l-11 -2l-10 -9l-11 -10l-11 41l-10 -27l-11 -7l-11 -4l-10 -5l-11 7l-11 -5l-10 -1l-11 6l-11 -3l-10 31l-11 -34l-11 -7l-10 48l-11 -48l-11 7l-10 -7l-11 1l-11 14l-10 -16l-11 -11l-11 7l-10 -13l-11 4l-11 -12l-11 8l-10 -10l-11 13l-11 -19l-10 -7l-11 2l-11 1l-10 3l-11 -7l-11 -5l-10 31l-11 -22l-11 -18l-10 -1l-11 -19l-11 16l-10 -24l-11 -1l-11 1l-10 39l-11 -26l-11 -34l-10 32l-11 -33l-11 5l-10 -7l-11 -1l-11 -22l-10 -1l-11 6l-11 -7l-11 -1l-10 6l-11 10l-11 -16l-10 1l-11 -3l-11 -5l-10 24l-11 -23l-11 2l-10 -1l-11 -14l-11 14l-10 -2l-11 33l-11 -31l-10 23l-11 -12l-11 -6l-10 -5l-11 36l-11 -14l-10 -5l-11 6l-11 -3l-10 29l-11 -17l-11 17l-11 1l-10 67l-11 -58l-11 10l-10 36l-11 -16l-11 50l-10 -34l-11 16l-11 3l-10 28l-11 5l-11 -15l-10 58l-11 -25l-11 -3l-10 25l-11 2l-11 56l-10 -7l-11 -4l-11 22l-10 11l-11 1l-11 -1l-10 23l-11 0l-11 22l-10 27l-11 -9l-11 7l-11 19l-10 14l-11 10l-11 17l-10 17l-11 -12l-11 33l-10 -19l-11 1l-11 20l-10 7l-11 24l-11 10l-10 4l-11 -15l-11 14l-10 3l-11 23l-11 -14l-10 2l-11 -11l-11 19l-10 -25l-11 7l-11 -21l-10 16l-11 16l-11 -12l-11 37l-10 -9l-11 25l-11 9l-10 89l-11 -40l-11 32l-10 17l-11 14l-11 -8l-10 17l-11 12l-11 19l-10 4l-11 7l-11 86l-10 -40l-11 3l-11 4l-10 -14l-11 7l-11 20l-10 -10l-11 3l-11 18l-10 12l-11 -5l-11 -2l-10 -3l-11 7l-11 13l-11 2l-10 -7l-11 21l-11 9l-10 -4l-11 -9l-11 12l-10 -9l-11 14l-11 -5l-10 22l-11 -21l-11 15l-10 -12l-11 3l-11 4l-10 15l-11 -2l-11 -2l-10 -6l-11 8l-11 2l-10 16l-11 -13l-11 -4l-10 -3l-11 12l-11 10l-11 -21l-10 14l-11 -3l-11 -16l-10 13l-11 2l-11 -13l-10 -2l-11 10l-11 2l-10 10l-11 -14l-11 -7l-10 -1l-11 19z" fill="#ff0000" stroke="#ff0000" stroke-width="4"/>
<path transform="scale(0.1)" d="M1473 4479l2 45l2 -43l1 15l2 26l2 10l2 -16l1 -34l2 31l2 18l2 -104l2 128l1 -35l2 -19l2 41l2 -26l1 11l2 28l2 -50l2 42l2 -10l1 -51l2 62l2 -45l2 -14l1 5l2 14l2 19l2 30l2 -39l1 -8l2 25l2 34l2 -68l2 50l1 -38l2 24l2 31l2 -84l1 26l2 2l2 51l2 -33l2 -10l1 43l2 -77l2 95l2 -70l1 67l2 25l2 -40l2 -47l2 34l1 -1l2 6l2 16l2 -15l1 3l2 -17l2 2l2 52l2 -44l1 -71l2 67l2 -9l2 17l1 -1l2 -15l2 33l2 -29l2 38l1 -50l2 49l2 -57l2 -8l1 67l2 -58l2 28l2 -39l2 43l1 -6l2 1l2 -39l2 82l1 -68l2 17l2 27l2 -18l2 -29l1 3l2 -21l2 59l2 32l2 -33l1 -9l2 7l2 -42l2 -26l1 48l2 55l2 -71l2 42l2 -17l1 -20l2 12l2 10l2 -9l1 -12l2 3l2 -36l2 127l2 -56l1 -5l2 -36l2 15l2 -16l1 58l2 -31l2 -22l2 17l2 9l1 -17l2 -35l2 95l2 -94l1 33l2 28l2 -38l2 15l2 -30l1 51l2 -45l2 47l2 -31l1 -10l2 20l2 -19l2 32l2 -43l1 40l2 5l2 -15l2 -2l1 19l2 -41l2 28l2 -24l2 53l1 -4l2 -27l2 18l2 -22l2 -18l1 -14l2 -9l2 17l2 37l1 -32l2 27l2 -27l2 41l2 -62l1 24l2 17l2 28l2 -43l1 21l2 -20l2 24l2 -4l2 -30l1 -22l2 69l2 -27l2 -15l1 14l2 7l2 -67l2 76l2 -30l1 21l2 -10l2 56l2 -82l1 28l2 19l2 -67l2 49l2 9l1 5l2 -49l2 27l2 8l1 26l2 -11l2 -32l2 9l2 51l1 -30l2 -29l2 -63l2 88l1 37l2 -78l2 32l2 21l2 -49l1 19l2 18l2 9l2 -32l2 -6l1 47l2 -72l2 58l2 -70l1 27l2 13l2 -15l2 24l2 -15l1 -45l2 57l2 -37l2 44l1 -24l2 -26l2 56l2 -41l2 64l1 -27l2 -20l2 -34l2 3l1 42l2 -21l2 -9l2 45l2 -53l1 -25l2 2l2 48l2 -6l1 35l2 -34l2 -7l2 -26l2 15l1 26l2 -47l2 -2l2 39l1 -11l2 -4l2 40l2 -48l2 -15l1 -35l2 46l2 12l2 -4l1 -21l2 -6l2 44l2 -29l2 -13l1 70l2 -91l2 42l2 -30l2 24l1 4l2 -5l2 -11l2 -16l1 30l2 22l2 -12l2 7l2 -48l1 46l2 -68l2 37l2 9l1 -42l2 44l2 -3l2 -29l2 0l1 46l2 -94l2 50l2 49l1 -30l2 -31l2 19l2 -18l2 -42l1 38l2 -30l2 35l2 36l1 -60l2 59l2 -46l2 7l2 40l1 -5l2 -15l2 -17l2 -27l1 34l2 -51l2 27l2 41l2 -2l1 -20l2 15l2 -13l2 -24l1 13l2 -21l2 45l2 4l2 14l1 9l2 -37l2 -16l2 7l2 -7l1 -58l2 87l2 -24l2 17l1 -1l2 -64l2 37l2 -64l2 93l1 -85l2 -12l2 107l2 -45l1 2l2 -20l2 51l2 -50l2 -9l1 37l2 46l2 -46l2 -9l1 -34l2 39l2 14l2 -51l2 6l1 -12l2 19l2 -30l2 15l1 64l2 -57l2 -17l2 19l2 -41l1 54l2 -34l2 54l2 -36l1 14l2 12l2 8l2 -44l2 -7l1 29l2 17l2 -12l2 -48l1 56l2 -68l2 79l2 -57l2 -12l1 -17l2 47l2 9l2 18l2 -69l1 29l2 9l2 -2l2 -20l1 5l2 -34l2 95l2 -87l2 39l1 -15l2 6l2 -7l2 -26l1 15l2 47l2 -41l2 0l2 -15l1 8l2 3l2 -34l2 61l1 -97l2 80l2 12l2 -54l2 -10l1 -6l2 -7l2 28l2 11l1 -11l2 10l2 15l2 -64l2 -8l1 53l2 6l2 6l2 35l1 -31l2 -6l2 -16l2 28l2 26l1 -77l2 -33l2 113l2 -60l1 -31l2 60l2 7l2 -46l2 7l1 11l2 -69l2 3l2 24l2 21l1 7l2 -38l2 33l2 -90l1 43l2 54l2 -42l2 -25l2 26l1 47l2 -21l2 1l2 -15l1 1l2 11l2 -38l2 -16l2 57l1 26l2 -57l2 10l2 -14l1 33l2 -31l2 35l2 -62l2 -19l1 79l2 50l2 -66l2 0l1 -23l2 4l2 -16l2 -69l2 99l1 -6l2 -26l2 69l2 -83l1 43l2 24l2 -19l2 -43l2 -12l1 -14l2 24l2 35l2 -41l1 19l2 -77l2 136l2 -116l2 25l1 10l2 14l2 13l2 11l2 17l1 -114l2 32l2 7l2 8l1 70l2 -53l2 -15l2 -34l2 67l1 -42l2 14l2 -10l2 24l1 -38l2 7l2 61l2 -100l2 -33l1 96l2 -66l2 66l2 -16l1 -75l2 48l2 -43l2 37l2 -25l1 36l2 -53l2 -13l2 34l1 38l2 -8l2 17l2 -51l2 1l1 37l2 -54l2 47l2 -79l1 30l2 -26l2 73l2 7l2 26l1 -82l2 56l2 -83l2 38l1 -22l2 65l2 -24l2 -27l2 -20l1 65l2 -68l2 49l2 -55l2 32l1 1l2 -26l2 -25l2 44l1 -50l2 72l2 -44l2 45l2 -46l1 36l2 -33l2 -22l2 73l1 3l2 -54l2 -25l2 8l2 37l1 -60l2 36l2 -37l2 53l1 -46l2 -26l2 60l2 -14l2 -32l1 1l2 4l2 15l2 47l1 -55l2 42l2 -48l2 80l2 -130l1 -17l2 47l2 42l2 -20l1 -43l2 6l2 44l2 -67l2 15l1 4l2 34l2 -20l2 22l1 -32l2 27l2 -65l2 37l2 -8l1 -6l2 -2l2 58l2 -95l2 39l1 20l2 12l2 -12l2 -4l1 -24l2 29l2 -36l2 -3l2 27l1 -103l2 79l2 -18l2 6l1 7l2 -31l2 -26l2 48l2 26l1 -70l2 111l2 -83l2 10l1 -20l2 63l2 -40l2 19l2 -19l1 -42l2 26l2 12l2 -65l1 40l2 70l2 -37l2 -53l2 -3l1 5l2 -3l2 39l2 -30l1 37l2 -15l2 1l2 -4l2 -20l1 -6l2 18l2 -69l2 53l1 -73l2 17l2 78l2 -78l2 80l1 -104l2 38l2 46l2 41l2 -66l1 32l2 -90l2 83l2 -39l1 -28l2 15l2 -11l2 17l2 -37l1 58l2 -57l2 63l2 -53l1 47l2 -36l2 -31l2 -26l2 110l1 -40l2 6l2 -82l2 75l1 -59l2 43l2 33l2 -59l2 44l1 -70l2 -5l2 -20l2 85l1 -97l2 20l2 101l2 -150l2 18l1 99l2 -52l2 101l2 -87l1 -13l2 -18l2 52l2 -31l2 32l1 -50l2 -12l2 20l2 -42l1 -9l2 35l2 -31l2 89l2 -47l1 63l2 -67l2 15l2 -50l2 46l1 6l2 -22l2 0l2 -26l1 51l2 22l2 2l2 -105l2 90l1 -31l2 23l2 -77l2 54l1 -69l2 94l2 -61l2 -19l2 -9l1 81l2 -32l2 -12l2 65l1 -97l2 11l2 -6l2 72l2 -62l1 -10l2 -24l2 58l2 -47l1 -50l2 90l2 -2l2 -4l2 44l1 -45l2 -77l2 97l2 -29l1 -55l2 23l2 12l2 21l2 -10l1 -6l2 -27l2 22l2 -34l1 107l2 -104l2 50l2 -21l2 15l1 -62l2 48l2 -29l2 54l2 -40l1 -41l2 4l2 56l2 -20l1 18l2 -10l2 -6l2 -47l2 23l1 -35l2 -4l2 108l2 -62l1 28l2 45l2 -22l2 -23l2 -85l1 60l2 10l2 -7l2 27l1 -36l2 12l2 56l2 -44l2 -152l1 105l2 28l2 -31l2 63l1 -42l2 -32l2 96l2 -35l2 -14l1 -5l2 8l2 -31l2 -30l1 25l2 -27l2 -2l2 63l2 -35l1 24l2 -41l2 39l2 -8l1 -74l2 72l2 53l2 -66l2 -8l1 31l2 -24l2 -38l2 59l2 -13l1 19l2 -41l2 17l2 30l1 -31l2 -78l2 190l2 -67l2 -68l1 67l2 -132l2 134l2 -8l1 -32l2 -63l2 10l2 8l2 10l1 -40l2 121l2 -83l2 -46l1 97l2 -55l2 -37l2 -2l2 54l1 -79l2 52l2 -23l2 83l1 -13l2 -1l2 -100l2 160l2 -20l1 -104l2 25l2 214l2 -194l1 -4l2 -59l2 122l2 -54l2 -62l1 12l2 66l2 -24l2 47l1 -111l2 70l2 -66l2 19l2 94l1 -56l2 -31l2 8l2 -42l2 17l1 31l2 -14l2 55l2 -4l1 -47l2 11l2 57l2 -40l2 28l1 -9l2 -72l2 117l2 -40l1 -47l2 19l2 -3l2 63l2 -55l1 24l2 7l2 -9l2 -10l1 -44l2 -40l2 69l2 -53l2 54l1 62l2 -60l2 -47l2 -4l1 89l2 -121l2 116l2 0l2 -8l1 -76l2 41l2 -20l2 122l1 -84l2 3l2 -31l2 59l2 -78l1 74l2 27l2 10l2 -112l1 20l2 60l2 -73l2 50l2 -2l1 52l2 -35l2 -25l2 -3l2 30l1 -60l2 -17l2 87l2 -46l1 75l2 -75l2 54l2 -31l2 -12l1 16l2 -49l2 70l2 -12l1 -30l2 14l2 -10l2 18l2 23l1 -56l2 23l2 -31l2 -16l1 65l2 15l2 -10l2 8l2 52l1 -139l2 48l2 -73l2 112l1 -44l2 13l2 14l2 -40l2 39l1 3l2 -8l2 92l2 -57l1 1l2 -90l2 41l2 -7l2 7l1 32l2 -70l2 72l2 46l1 -77l2 -20l2 41l2 -9l2 -22l1 -21l2 37l2 -41l2 53l2 -68l1 133l2 -88l2 26l2 7l1 54l2 -89l2 49l2 31l2 -13l1 -9l2 -22l2 43l2 2l1 -50l2 19l2 -77l2 91l2 -43l1 -37l2 74l2 -44l2 26l1 11l2 -58l2 98l2 3l2 28l1 -62l2 -41l2 48l2 -40l1 60l2 -71l2 48l2 15l2 -79l1 62l2 -21l2 18l2 -21l1 22l2 51l2 -55l2 -7l2 4l1 24l2 -76l2 96l2 -31l1 -3l2 49l2 5l2 -69l2 0l1 21l2 66l2 -49l2 -19l2 -13l1 -21l2 28l2 -18l2 -25l1 149l2 -123l2 54l2 -34l2 11l1 46l2 -3l2 -50l2 24l1 -33l2 42l2 -94l2 90l2 -86l1 106l2 -48l2 -21l2 91l1 -12l2 -50l2 -27l2 -7l2 30l1 -17l2 82l2 -27l2 -68l1 74l2 -11l2 56l2 -56l2 52l1 -71l2 -41l2 44l2 6l1 21l2 -52l2 80l2 -24l2 -96l1 129l2 -27l2 31l2 -96l1 55l2 39l2 0l2 -87l2 17l1 -4l2 33l2 -36l2 -14l2 24l1 84l2 14l2 -17l2 -63l1 65l2 -15l2 -40l2 34l2 16l1 -82l2 18l2 -10l2 -4l1 -19l2 55l2 6l2 58l2 -54l1 13l2 -59l2 14l2 -29l1 15l2 -3l2 25l2 15l2 19l1 -12l2 35l2 -49l2 18l1 72l2 25l2 -71l2 -9l2 -6l1 -57l2 70l2 25l2 -60l1 -22l2 -23l2 97l2 -27l2 7l1 -70l2 30l2 24l2 -25l1 40l2 -6l2 -6l2 17l2 -9l1 -21l2 4l2 -45l2 23l2 34l1 77l2 -26l2 -35l2 -4l1 33l2 -33l2 -18l2 27l2 -17l1 -2l2 22l2 6l2 -26l1 -14l2 47l2 37l2 -39l2 -53l1 77l2 -92l2 55l2 -26l1 33l2 -49l2 19l2 -11l2 84l1 -96l2 87l2 -49l2 -31l1 26l2 -25l2 12l2 3l2 33l1 -65l2 -4l2 60l2 13l1 -40l2 35l2 -32l2 -24l2 5l1 -29l2 37l2 54l2 -7l1 -49l2 -50l2 82l2 20l2 -83l1 55l2 -29l2 -44l2 104l2 -22l1 7l2 -39l2 -4l2 41l1 -37l2 84l2 -76l2 0l2 12l1 52l2 -48l2 35l2 -90l1 62l2 -2l2 -4l2 -23l2 17l1 -16l2 52l2 -72l2 57l1 -45l2 19l2 -30l2 41l2 49l1 -11l2 -33l2 -58l2 64l1 -17l2 -43l2 64l2 -31l2 0l1 31l2 -30l2 -29l2 -1l1 49l2 -116l2 91l2 22l2 15l1 38l2 -93l2 131l2 -98l1 43l2 -43l2 -5l2 45l2 -12l1 -81l2 65l2 -20l2 10l2 -41l1 -14l2 10l2 13l2 -1l1 62l2 -89l2 66l2 11l2 -18l1 14l2 -54l2 -1l2 -20l1 49l2 17l2 -12l2 32l2 -16l1 -98l2 98l2 -11l2 -40l1 13l2 -18l2 58l2 7l2 -86l1 71l2 -21l2 -12l2 73l1 -59l2 16l2 -43l2 30l2 69l1 -109l2 194l2 -152l2 10l1 -4l2 -22l2 -35l2 65l2 -9l1 -49l2 8l2 -8l2 13l1 20l2 9l2 -1l2 -50l2 -22l1 -18l2 109l2 -30l2 -9l2 6l1 34l2 -119l2 23l2 60l1 10l2 -16l2 43l2 -32l2 -41l1 -32l2 2l2 9l2 85l1 78l2 -167l2 42l2 9l2 -64l1 124l2 -30l2 -8l2 -86l1 23l2 99l2 -126l2 59l2 -15l1 43l2 -97l2 51l2 -32l1 84l2 -63l2 22l2 11l2 21l1 -5l2 16l2 -19l2 -24l1 -39l2 94l2 -19l2 3l2 17l1 -50l2 -1l2 -3l2 -23l1 -20l2 4l2 19l2 -12l2 75l1 -20l2 -59l2 2l2 -60l2 88l1 28l2 -48l2 27l2 15l1 -84l2 -21l2 57l2 37l2 -34l1 11l2 49l2 -83l2 17l1 -34l2 66l2 -20l2 3l2 59l1 -158l2 170l2 -36l2 -29l1 44l2 -75l2 33l2 -21l2 -13l1 12l2 -2l2 9l2 -22l1 -15l2 39l2 6l2 -2l2 -27l1 25l2 -1l2 42l2 -129l1 117l2 -109l2 32l2 -9l2 28l1 -9l2 7l2 -12l2 -10l1 -71l2 139l2 -56l2 -42l2 8l1 91l2 -51l2 1l2 1l2 95l1 -118l2 93l2 -143l2 57l1 29l2 -28l2 19l2 25l2 -17l1 -16l2 43l2 -57l2 -16l1 2l2 -4l2 -5l2 22l2 -23l1 48l2 -14l2 -38l2 -20l1 87l2 42l2 -137l2 37l2 -25l1 7l2 53l2 33l2 13l1 -92l2 17l2 26l2 54l2 -22l1 3l2 -12l2 99l2 -118l1 -51l2 81l2 -21l2 -9l2 50l1 -54l2 48l2 0l2 -38l2 13l1 -5l2 39l2 -61l2 70l1 -73l2 52l2 28l2 -41l2 38l1 -19l2 -10l2 -38l2 0l1 13l2 30l2 48l2 -48l2 5l1 -7l2 16l2 1l2 -49l1 82l2 -50l2 -46l2 78l2 9l1 -28l2 5l2 -21l2 -41l1 57l2 -25l2 44l2 -2l2 -29l1 38l2 -70l2 62l2 -8l1 34l2 -22l2 22l2 -18l2 49l1 -65l2 -65l2 137l2 -135l1 71l2 -37l2 72l2 -113l2 117l1 -36l2 -61l2 108l2 40l2 -84l1 28l2 8l2 -1l2 22l1 -107l2 8l2 98l2 -47l2 15l1 -58l2 74l2 -92l2 62l1 31l2 -26l2 20l2 -106l2 80l1 25l2 -21l2 -51l2 93l1 28l2 -112l2 28l2 40l2 -13l1 -43l2 145l2 -149l2 56l1 -52l2 50l2 -117l2 141l2 -96l1 174l2 -98l2 -26l2 89l1 20l2 -78l2 -32l2 -5l2 72l1 -37l2 67l2 -116l2 89l1 -68l2 60l2 4l2 -71l2 120l1 -104l2 63l2 21l2 0l2 -71l1 47l2 12l2 44l2 -97l1 6l2 29l2 -15l2 150l2 -99l1 -23l2 3l2 27l2 -28l1 37l2 -1l2 60l2 -85l2 33l1 -6l2 -68l2 54l2 2l1 56l2 -35l2 -53l2 17l2 20l1 10l2 -8l2 -10l2 28l1 80l2 -161l2 32l2 48l2 -55l1 100l2 -92l2 41l2 -24l1 46l2 -16l2 -14l2 -15l2 21l1 4l2 38l2 -81l2 56l1 17l2 5l2 33l2 -15l2 29l1 -60l2 12l2 -9l2 54l2 -28l1 9l2 -57l2 90l2 3l1 -99l2 35l2 70l2 -102l2 -4l1 14l2 115l2 -75l2 36l1 -20l2 48l2 -115l2 87l2 -33l1 -17l2 8l2 9l2 30l1 -20l2 17l2 74l2 -114l2 59l1 -2l2 -3l2 36l2 -5l1 22l2 -77l2 -24l2 40l2 45l1 -84l2 58l2 46l2 11l1 -70l2 -42l2 65l2 10l2 -11l1 21l2 -9l2 -26l2 35l1 -55l2 67l2 -56l2 14l2 26l1 7l2 -6l2 -67l2 87l2 -67l1 8l2 57l2 -75l2 138l1 -88l2 5l2 5l2 -27l2 44l1 -6l2 -45l2 45l2 32l1 -53l2 23l2 18l2 -52l2 61l1 8l2 -23l2 -1l2 -7l1 44l2 -98l2 36l2 20l2 -2l1 93l2 -114l2 67l2 -51l1 59l2 -72l2 52l2 -10l2 -57l1 19l2 81l2 -22l2 -28l1 15l2 -33l2 51l2 41l2 -31l1 -24l2 -23l2 -5l2 -16l1 29l2 22l2 -30l2 29l2 13l1 1l2 -45l2 -17l2 7l2 98l1 -117l2 133l2 -54l2 -30l1 65l2 -3l2 -14l2 -79l2 21l1 66l2 -33l2 2l2 -5l1 35l2 -70l2 61l2 -38l2 83l1 -67l2 10l2 -39l2 131l1 -102l2 -7l2 36l2 -50l2 -25l1 19l2 26l2 -16l2 30l1 -24l2 21l2 43l2 13l2 -71l1 20l2 43l2 -22l2 -45l1 104l2 -25l2 -51l2 -3l2 65l1 -4l2 -37l2 -39l2 46l1 76l2 -107l2 34l2 15l2 23l1 -74l2 30l2 -4l2 3l2 -2l1 -12l2 -28l2 90l2 -31l1 13l2 -67l2 63l2 43l2 -50l1 24l2 0l2 -8l2 28l1 21l2 -123l2 67l2 26l2 -49l1 -22l2 99l2 -41l2 -22l1 36l2 -40l2 54l2 0l2 -34l1 -16l2 13l2 23l2 -9l1 56l2 -133l2 81l2 -3l2 -17l1 -9l2 8l2 33l2 31l1 -46l2 21l2 -7l2 -17l2 -7l1 -32l2 46l2 50l2 -72l1 -10l2 82l2 -70l2 14l2 23l1 -21l2 -6l2 -6l2 -17l2 37l1 1l2 -75l2 110l2 -24l1 3l2 -35l2 -9l2 76l2 -79l1 76l2 -117l2 103l2 -55l1 44l2 -30l2 65l2 -46l2 4l1 -1l2 -21l2 39l2 -3l1 32l2 -36l2 12l2 -42l2 7l1 44l2 -35l2 -59l2 80l1 31l2 -111l2 59l2 -4l2 -54l1 102l2 -33l2 69l2 -73l1 4l2 37l2 3l2 -20l2 2l1 -54l2 56l2 -1l2 1l1 44l2 -33l2 27l2 -44l2 71l1 -31l2 -42l2 73l2 -16l2 -77l1 72l2 -39l2 -9l2 42l1 20l2 -134l2 101l2 -32l2 40l1 -33l2 51l2 3l2 -9l1 -12l2 1l2 -8l2 -23l2 30l1 -43l2 49l2 -39l2 -19l1 -54l2 155l2 -111l2 106l2 -95l1 44l2 -10l2 39l2 -55l1 8l2 38l2 3l2 -44l2 -4l1 9l2 35l2 -11l2 -27l1 4l2 -8l2 30l2 26l2 -29l1 -4l2 31l2 -29l2 39l1 -32l2 27l2 -80l2 28l2 29l1 47l2 -2l2 -56l2 26l2 -20l1 64l2 34l2 -83l2 11l1 34l2 -15l2 -46l2 36l2 -29l1 -69l2 77l2 7l2 22l1 -53l2 112l2 -44l2 -31l2 43l1 -72l2 48l2 -46l2 37l1 -2l2 -7l2 58l2 -25l2 -18l1 -79l2 42l2 3l2 52l1 -57l2 -10l2 15l2 -54l2 116l1 -8l2 -23l2 21l2 -30l1 -13l2 16l2 -3l2 -9l2 -11l1 43l2 0l2 -54l2 45l1 15l2 -33l2 19l2 -13l2 5l1 -20l2 -8l2 51l2 12l2 -82l1 67l2 26l2 10l2 -54l1 18l2 78l2 -69l2 4l2 -60l1 23l2 7l2 37l2 -31l1 -24l2 14l2 -25l2 28l2 -17l1 7l2 30l2 -55l2 29l1 -14l2 80l2 -24l2 -26l2 19l1 -41l2 6l2 -23l2 18l1 77l2 -86l2 46l2 3l2 -23l1 2l2 -30l2 -51l2 70l1 -30l2 49l2 -16l2 25l2 -3l1 -50l2 26l2 0l2 36l1 -72l2 55l2 14l2 -18l2 -20l1 -2l2 -21l2 73l2 -18l2 -57l1 -20l2 83l2 -15l2 42l1 -21l2 2l2 -22l2 31l2 -61l1 29l2 6l2 -34l2 34l1 28l2 -36l2 -61l2 59l2 -12l1 21l2 1l2 -21l2 91l1 -40l2 -19l2 -9l2 -49l2 -29l1 53l2 6l2 -8l2 -23l1 71l2 -14l2 -18l2 -4l2 63l1 -66l2 57l2 -67l2 -2l1 89l2 -79l2 9l2 23l2 -44l1 -30l2 43l2 46l2 10l1 -8l2 -4l2 -61l2 24l2 9l1 -26l2 25l2 0l2 25l2 -6l1 -19l2 35l2 -81l2 44l1 19l2 -43l2 58l2 -60l2 28l1 -51l2 82l2 -17l2 13l1 11l2 -42l2 37l2 -39l2 28l1 -49l2 103l2 -84l2 11l1 1l2 18l2 -67l2 61l2 -33l1 29l2 3l2 -13l2 -31l1 92l2 -44l2 27l2 -52l2 36l1 -3l2 -40l2 19l2 -12l1 16l2 -16l2 9l2 35l2 -38l1 16l2 -3l2 -15l2 24l1 14l2 -64l2 -18l2 62l2 -42l1 21l2 30l2 5l2 -16l2 5l1 -3l2 -6l2 29l2 -57l1 57l2 -2l2 -57l2 5l2 -20l1 38l2 22l2 -51l2 36l1 0l2 21l2 -36l2 79l2 -82l1 72l2 -82l2 69l2 -63l1 -51l2 78l2 25l2 -132l2 112l1 19l2 -67l2 116l2 -38l1 -5l2 -18l2 38l2 -81l2 -6l1 31l2 10l2 33l2 -58l1 34l2 -38l2 -34l2 51l2 61l1 -33l2 -66l2 25l2 -26l1 104l2 -61l2 2l2 41l2 -27l1 -47l2 13l2 31l2 -25l2 -25l1 65l2 -39l2 -21l2 65l1 -73l2 40l2 -34l2 5l2 19l1 16l2 10l2 -23l2 -1l1 -34l2 42l2 -12l2 -38l2 39l1 -4l2 -33l2 43l2 -8l1 -11l2 25l2 29l2 10l2 -31l1 -43l2 4l2 -18l2 20l1 45l2 23l2 -27l2 -7l2 14l1 -48l2 49l2 -39l2 -6l1 72l2 -37l2 -48l2 12l2 20l1 35l2 -11l2 -23l2 -33l1 22l2 16l2 -9l2 -15l2 72l1 -22l2 -29l2 -33l2 4l2 52l1 -23l2 22l2 -10l2 -15l1 15l2 5l2 18l2 12l2 -40l1 -11l2 -12l2 41l2 -3l1 -56l2 24l2 -13l2 41l2 4l1 13l2 -61l2 60l2 17l1 -28l2 -57l2 35l2 -5l2 3l1 5l2 3l2 35l2 -87l1 52l2 -39l2 79l2 -60l2 76l1 -24l2 -44l2 -22l2 -9l1 1l2 45l2 -29l2 39l2 -2l1 -22l2 10l2 -27l2 76l1 -84l2 49l2 -59l2 10l2 65l1 -31l2 -21l2 42l2 -2l2 -12l1 -30l2 -4l2 37l2 -35l1 -18l2 16l2 46l2 4l2 -32l1 -15l2 11l2 23l2 15l1 -62l2 40l2 -57l2 86l2 -23l1 8l2 -70l2 17l2 49l1 41l2 -87l2 29l2 35l2 11l1 -54l2 17l2 -9l2 -7l1 21l2 -2l2 -27l2 22l2 5l1 -26l2 74l2 -91l2 23l1 34l2 -17l2 -39l2 19l2 66l1 -22l2 -34l2 -45l2 29l1 27l2 -22l2 16l2 9l2 -19l1 71l2 -89l2 14l2 27l2 12l1 37l2 -68l2 3l2 -1l1 -81l2 148l2 -41l2 1l2 -48l1 34l2 19l2 -32l2 -6l1 -34l2 39l2 19l2 2l2 9l1 -48l2 -16l2 48l2 -3l1 -42l2 35l2 -11l2 45l2 -14l1 44l2 -22l2 -49l2 -24l1 42l2 26l2 -36l2 -29l2 37l1 -31l2 28l2 33l2 -9l1 -19l2 -71l2 48l2 23l2 -15l1 3l2 18l2 -9l2 4l1 -28l2 -23l2 7l2 46l2 -25l1 36l2 11l2 -33l2 -15l2 19l1 -25l2 0l2 2l2 26l1 34l2 -89l2 64l2 -34l2 7l1 23l2 -60l2 32l2 19l1 12l2 15l2 9l2 -52l2 28l1 1l2 -27l2 24l2 -28l1 36l2 -3l2 -40l2 45l2 -36l1 3l2 14l2 46l2 -10l1 -5l2 5l2 -60l2 48l2 11l1 -21l2 -11l2 44l2 -64l1 -3l2 37l2 -39l2 66l2 -28l1 -11l2 -6l2 -30l2 41l1 19l2 -34l2 2l2 -8l2 21l1 -14l2 21l2 -31l2 34l2 13l1 -64l2 54l2 -21l2 -16l1 32l2 -61l2 61l2 -44l2 71l1 -5l2 -40l2 -38l2 -5l1 69l2 -23l2 13l2 46l2 -80l1 31l2 -48l2 30l2 22l1 5l2 -14l2 -18l2 26l2 -91l1 72l2 38l2 -34l2 -30l1 20l2 21l2 10l2 3l2 11l1 -18l2 -22l2 23l2 -60l1 34l2 23l2 -11l2 -42l2 88l1 -54l2 -67l2 46l2 53l1 -28l2 10l2 -84l2 96l2 -11l1 2l2 62l2 93l2 -158l2 -21l1 27l2 -37l2 -13l2 19l1 66l2 -89l2 18l2 2l2 22l1 0l2 15l2 -26l2 -14l1 41l2 -38l2 35l2 -29l2 20l1 -28l2 -29l2 47l2 20l1 -2l2 -29l2 31l2 -41l2 19l1 -17l2 41l2 11l2 -6l1 -32l2 33l2 -41l2 76l2 -38l1 -14l2 46l2 -34l2 25l1 -40l2 5l2 -27l2 44l2 21l1 -18l2 -30l2 1l2 -3l1 -29l2 44l2 -4l2 18l2 6l1 -59l2 19l2 83l2 -106l2 88l1 -44l2 -38l2 23l2 -11l1 -9l2 16l2 43l2 -45l2 29l1 48l2 -59l2 -23l2 12l1 3l2 -48l2 40l2 -17l2 16l1 -37l2 56l2 -43l2 -18l1 61l2 -39l2 67l2 -47l2 -12l1 44l2 27l2 -52l2 11l1 -14l2 -3l2 -15l2 -21l2 32l1 54l2 -76l2 23l2 7l1 -40l2 30l2 24l2 -23l2 57l1 -71l2 25l2 -45l2 28l1 8l2 5l2 38l2 -30l2 -11l1 -19l2 15l2 -7l2 0l2 34l1 -23l2 14l2 29l2 7l1 -65l2 -17l2 1l2 63l2 -65l1 -2l2 64l2 -34l2 -34l1 45l2 -31l2 50l2 -7l2 -34l1 29l2 -8l2 1l2 30l1 -69l2 45l2 5l2 3l2 -14l1 28l2 -50l2 34l2 -32l1 46l2 4l2 -2l2 -32l2 71l1 -88l2 32l2 -34l2 36l1 -33l2 73l2 -20l2 -47l2 32l1 -45l2 49l2 -34l2 37l1 26l2 -121l2 78l2 -33l2 22l1 53l2 -59l2 -19l2 -5l2 -10l1 35l2 13l2 -7l2 37l1 -53l2 0l2 11l2 31l2 -39l1 33l2 -50l2 51l2 -2l1 -6l2 20l2 -4l2 -17l2 61l1 -124l2 45l2 2l2 33l1 -30l2 6l2 -3l2 44l2 -38l1 49l2 -47l2 19l2 -7l1 -1l2 -40l2 -10l2 33l2 31l1 -72l2 81l2 -24l2 -9l1 14l2 -57l2 26l2 -19l2 38l1 -32l2 28l2 0l2 -12l1 -3l2 -5l2 22l2 36l2 -33l1 66l2 -67l2 15l2 -46l2 99l1 -132l2 66l2 35l2 -57l1 -1l2 1l2 -49l2 84l2 -31l1 4l2 23l2 -27l2 -27l1 59l2 -36l2 -16l2 10l2 63l1 -53l2 19l2 -45l2 38l1 -103l2 134l2 -49" fill="none" stroke="#404040" stroke-width="12" stroke-linejoin="miter" stroke-miterlimit="2"/>
<rect x="147.30" y="38.60" width="533.90" height="473.20" fill="none" stroke="#303030" stroke-width="1.4" stroke-linejoin="round"/>
<line x1="165.10" y1="511.80" x2="165.10" y2="506.80" stroke="#303030" stroke-width="1.4"/>
<line x1="182.89" y1="511.80" x2="182.89" y2="506.80" stroke="#303030" stroke-width="1.4"/>
<line x1="200.69" y1="511.80" x2="200.69" y2="506.80" stroke="#303030" stroke-width="1.4"/>
<line x1="218.49" y1="511.80" x2="218.49" y2="506.80" stroke="#303030" stroke-width="1.4"/>
<line x1="236.28" y1="511.80" x2="236.28" y2="506.80" stroke="#303030" stroke-width="1.4"/>
<line x1="254.08" y1="511.80" x2="254.08" y2="506.80" stroke="#303030" stroke-width="1.4"/>
<line x1="271.88" y1="511.80" x2="271.88" y2="506.80" stroke="#303030" stroke-width="1.4"/>
<line x1="289.67" y1="511.80" x2="289.67" y2="506.80" stroke="#303030" stroke-width="1.4"/>
<line x1="307.47" y1="511.80" x2="307.47" y2="506.80" stroke="#303030" stroke-width="1.4"/>
<line x1="325.27" y1="511.80" x2="325.27" y2="506.80" stroke="#303030" stroke-width="1.4"/>
<line x1="343.06" y1="511.80" x2="343.06" y2="506.80" stroke="#303030" stroke-width="1.4"/>
<line x1="360.86" y1="511.80" x2="360.86" y2="506.80" stroke="#303030" stroke-width="1.4"/>
<line x1="378.66" y1="511.80" x2="378.66" y2="506.80" stroke="#303030" stroke-width="1.4"/>
<line x1="396.45" y1="511.80" x2="396.45" y2="506.80" stroke="#303030" stroke-width="1.4"/>
<line x1="414.25" y1="511.80" x2="414.25" y2="506.80" stroke="#303030" stroke-width="1.4"/>
<line x1="432.05" y1="511.80" x2="432.05" y2="506.80" stroke="#303030" stroke-width="1.4"/>
<line x1="449.84" y1="511.80" x2="449.84" y2="506.80" stroke="#303030" stroke-width="1.4"/>
<line x1="467.64" y1="511.80" x2="467.64" y2="506.80" stroke="#303030" stroke-width="1.4"/>
<line x1="485.44" y1="511.80" x2="485.44" y2="506.80" stroke="#303030" stroke-width="1.4"/>
<line x1="503.23" y1="511.80" x2="503.23" y2="506.80" stroke="#303030" stroke-width="1.4"/>
<line x1="521.03" y1="511.80" x2="521.03" y2="506.80" stroke="#303030" stroke-width="1.4"/>
<line x1="538.83" y1="511.80" x2="538.83" y2="506.80" stroke="#303030" stroke-width="1.4"/>
<line x1="556.62" y1="511.80" x2="556.62" y2="506.80" stroke="#303030" stroke-width="1.4"/>
<line x1="574.42" y1="511.80" x2="574.42" y2="506.80" stroke="#303030" stroke-width="1.4"/>
<line x1="592.22" y1="511.80" x2="592.22" y2="506.80" stroke="#303030" stroke-width="1.4"/>
<line x1="610.01" y1="511.80" x2="610.01" y2="506.80" stroke="#303030" stroke-width="1.4"/>
<line x1="627.81" y1="511.80" x2="627.81" y2="506.80" stroke="#303030" stroke-width="1.4"/>
<line x1="645.61" y1="511.80" x2="645.61" y2="506.80" stroke="#303030" stroke-width="1.4"/>
<line x1="663.40" y1="511.80" x2="663.40" y2="506.80" stroke="#303030" stroke-width="1.4"/>
<line x1="735.93" y1="35.90" x2="735.93" y2="516.50" stroke="#cdcdcd" stroke-width="2.1"/>
<line x1="754.65" y1="35.90" x2="754.65" y2="516.50" stroke="#cdcdcd" stroke-width="2.1"/>
<line x1="773.38" y1="35.90" x2="773.38" y2="516.50" stroke="#cdcdcd" stroke-width="2.1"/>
<line x1="792.11" y1="35.90" x2="792.11" y2="516.50" stroke="#cdcdcd" stroke-width="2.1"/>
<line x1="810.83" y1="35.90" x2="810.83" y2="516.50" stroke="#bcbcbc" stroke-width="2.1"/>
<line x1="829.56" y1="35.90" x2="829.56" y2="516.50" stroke="#cdcdcd" stroke-width="2.1"/>
<line x1="848.29" y1="35.90" x2="848.29" y2="516.50" stroke="#cdcdcd" stroke-width="2.1"/>
<line x1="867.01" y1="35.90" x2="867.01" y2="516.50" stroke="#cdcdcd" stroke-width="2.1"/>
<line x1="885.74" y1="35.90" x2="885.74" y2="516.50" stroke="#cdcdcd" stroke-width="2.1"/>
<line x1="904.47" y1="35.90" x2="904.47" y2="516.50" stroke="#bcbcbc" stroke-width="2.1"/>
<line x1="923.19" y1="35.90" x2="923.19" y2="516.50" stroke="#cdcdcd" stroke-width="2.1"/>
<line x1="941.92" y1="35.90" x2="941.92" y2="516.50" stroke="#cdcdcd" stroke-width="2.1"/>
<line x1="960.65" y1="35.90" x2="960.65" y2="516.50" stroke="#cdcdcd" stroke-width="2.1"/>
<line x1="979.37" y1="35.90" x2="979.37" y2="516.50" stroke="#cdcdcd" stroke-width="2.1"/>
<line x1="998.10" y1="35.90" x2="998.10" y2="516.50" stroke="#bcbcbc" stroke-width="2.1"/>
<line x1="1016.83" y1="35.90" x2="1016.83" y2="516.50" stroke="#cdcdcd" stroke-width="2.1"/>
<line x1="1035.55" y1="35.90" x2="1035.55" y2="516.50" stroke="#cdcdcd" stroke-width="2.1"/>
<line x1="1054.28" y1="35.90" x2="1054.28" y2="516.50" stroke="#cdcdcd" stroke-width="2.1"/>
<line x1="1073.01" y1="35.90" x2="1073.01" y2="516.50" stroke="#cdcdcd" stroke-width="2.1"/>
<line x1="1091.73" y1="35.90" x2="1091.73" y2="516.50" stroke="#bcbcbc" stroke-width="2.1"/>
<line x1="1110.46" y1="35.90" x2="1110.46" y2="516.50" stroke="#cdcdcd" stroke-width="2.1"/>
<line x1="1129.19" y1="35.90" x2="1129.19" y2="516.50" stroke="#cdcdcd" stroke-width="2.1"/>
<line x1="1147.91" y1="35.90" x2="1147.91" y2="516.50" stroke="#cdcdcd" stroke-width="2.1"/>
<line x1="1166.64" y1="35.90" x2="1166.64" y2="516.50" stroke="#cdcdcd" stroke-width="2.1"/>
<line x1="1185.37" y1="35.90" x2="1185.37" y2="516.50" stroke="#bcbcbc" stroke-width="2.1"/>
<line x1="1204.09" y1="35.90" x2="1204.09" y2="516.50" stroke="#cdcdcd" stroke-width="2.1"/>
<line x1="1222.82" y1="35.90" x2="1222.82" y2="516.50" stroke="#cdcdcd" stroke-width="2.1"/>
<line x1="1241.55" y1="35.90" x2="1241.55" y2="516.50" stroke="#cdcdcd" stroke-width="2.1"/>
<line x1="1260.27" y1="35.90" x2="1260.27" y2="516.50" stroke="#cdcdcd" stroke-width="2.1"/>
<line x1="717.20" y1="502.77" x2="1279.00" y2="502.77" stroke="#cdcdcd" stroke-width="2.1"/>
<line x1="717.20" y1="489.04" x2="1279.00" y2="489.04" stroke="#cdcdcd" stroke-width="2.1"/>
<line x1="717.20" y1="475.31" x2="1279.00" y2="475.31" stroke="#cdcdcd" stroke-width="2.1"/>
<line x1="717.20" y1="461.57" x2="1279.00" y2="461.57" stroke="#cdcdcd" stroke-width="2.1"/>
<line x1="717.20" y1="447.84" x2="1279.00" y2="447.84" stroke="#bcbcbc" stroke-width="2.1"/>
<line x1="717.20" y1="434.11" x2="1279.00" y2="434.11" stroke="#cdcdcd" stroke-width="2.1"/>
<line x1="717.20" y1="420.38" x2="1279.00" y2="420.38" stroke="#cdcdcd" stroke-width="2.1"/>
<line x1="717.20" y1="406.65" x2="1279.00" y2="406.65" stroke="#cdcdcd" stroke-width="2.1"/>
<line x1="717.20" y1="392.92" x2="1279.00" y2="392.92" stroke="#cdcdcd" stroke-width="2.1"/>
<line x1="717.20" y1="379.19" x2="1279.00" y2="379.19" stroke="#bcbcbc" stroke-width="2.1"/>
<line x1="717.20" y1="365.45" x2="1279.00" y2="365.45" stroke="#cdcdcd" stroke-width="2.1"/>
<line x1="717.20" y1="351.72" x2="1279.00" y2="351.72" stroke="#cdcdcd" stroke-width="2.1"/>
<line x1="717.20" y1="337.99" x2="1279.00" y2="337.99" stroke="#cdcdcd" stroke-width="2.1"/>
<line x1="717.20" y1="324.26" x2="1279.00" y2="324.26" stroke="#cdcdcd" stroke-width="2.1"/>
<line x1="717.20" y1="310.53" x2="1279.00" y2="310.53" stroke="#bcbcbc" stroke-width="2.1"/>
<line x1="717.20" y1="296.80" x2="1279.00" y2="296.80" stroke="#cdcdcd" stroke-width="2.1"/>
<line x1="717.20" y1="283.07" x2="1279.00" y2="283.07" stroke="#cdcdcd" stroke-width="2.1"/>
<line x1="717.20" y1="269.33" x2="1279.00" y2="269.33" stroke="#cdcdcd" stroke-width="2.1"/>
<line x1="717.20" y1="255.60" x2="1279.00" y2="255.60" stroke="#cdcdcd" stroke-width="2.1"/>
<line x1="717.20" y1="241.87" x2="1279.00" y2="241.87" stroke="#bcbcbc" stroke-width="2.1"/>
<line x1="717.20" y1="228.14" x2="1279.00" y2="228.14" stroke="#cdcdcd" stroke-width="2.1"/>
<line x1="717.20" y1="214.41" x2="1279.00" y2="214.41" stroke="#cdcdcd" stroke-width="2.1"/>
<line x1="717.20" y1="200.68" x2="1279.00" y2="200.68" stroke="#cdcdcd" stroke-width="2.1"/>
<line x1="717.20" y1="186.95" x2="1279.00" y2="186.95" stroke="#cdcdcd" stroke-width="2.1"/>
<line x1="717.20" y1="173.21" x2="1279.00" y2="173.21" stroke="#bcbcbc" stroke-width="2.1"/>
<line x1="717.20" y1="159.48" x2="1279.00" y2="159.48" stroke="#cdcdcd" stroke-width="2.1"/>
<line x1="717.20" y1="145.75" x2="1279.00" y2="145.75" stroke="#cdcdcd" stroke-width="2.1"/>
<line x1="717.20" y1="132.02" x2="1279.00" y2="132.02" stroke="#cdcdcd" stroke-width="2.1"/>
<line x1="717.20" y1="118.29" x2="1279.00" y2="118.29" stroke="#cdcdcd" stroke-width="2.1"/>
<line x1="717.20" y1="104.56" x2="1279.00" y2="104.56" stroke="#bcbcbc" stroke-width="2.1"/>
<line x1="717.20" y1="90.83" x2="1279.00" y2="90.83" stroke="#cdcdcd" stroke-width="2.1"/>
<line x1="717.20" y1="77.09" x2="1279.00" y2="77.09" stroke="#cdcdcd" stroke-width="2.1"/>
<line x1="717.20" y1="63.36" x2="1279.00" y2="63.36" stroke="#cdcdcd" stroke-width="2.1"/>
<line x1="717.20" y1="49.63" x2="1279.00" y2="49.63" stroke="#cdcdcd" stroke-width="2.1"/>
<path transform="scale(0.1)" d="M7172 1801l2 -46l2 4l2 -19l1 -42l2 44l2 4l2 -11l2 11l2 -16l2 -53l2 79l1 -12l2 -3l2 49l2 -66l2 16l2 46l2 -40l2 -11l1 26l2 -48l2 40l2 22l2 -55l2 25l2 -9l2 42l1 -6l2 -8l2 -21l2 -1l2 -36l2 -4l2 34l2 5l1 -48l2 45l2 -23l2 36l2 -8l2 8l2 5l2 -26l1 29l2 -17l2 -21l2 -74l2 138l2 -48l2 -14l2 24l1 -29l2 8l2 1l2 22l2 -5l2 1l2 18l1 -28l2 30l2 -3l2 11l2 -61l2 41l2 7l2 -40l1 29l2 -18l2 12l2 -13l2 4l2 57l2 -87l2 11l1 59l2 -57l2 28l2 -9l2 -28l2 7l2 0l2 -25l1 23l2 41l2 16l2 -67l2 77l2 -32l2 0l2 8l1 -50l2 25l2 13l2 -27l2 32l2 -39l2 -20l2 52l1 4l2 -35l2 75l2 -18l2 -6l2 14l2 -39l2 -8l1 8l2 -1l2 -23l2 -4l2 -5l2 34l2 -5l1 -35l2 25l2 -23l2 44l2 -11l2 14l2 -16l2 -11l1 21l2 -59l2 83l2 -74l2 64l2 -34l2 25l2 -21l1 0l2 21l2 10l2 -13l2 -18l2 -20l2 -20l2 81l1 -54l2 23l2 -13l2 -8l2 -12l2 10l2 10l2 -40l1 31l2 7l2 -28l2 55l2 -5l2 -59l2 40l2 38l1 -64l2 -10l2 48l2 13l2 -31l2 -11l2 23l1 8l2 -36l2 -1l2 52l2 -12l2 -20l2 7l2 -21l1 -8l2 -33l2 36l2 -14l2 61l2 -22l2 -43l2 61l1 -69l2 19l2 10l2 5l2 26l2 -3l2 -14l2 -3l1 -41l2 55l2 -10l2 27l2 -47l2 4l2 -28l2 -21l1 34l2 34l2 -31l2 2l2 8l2 25l2 -36l2 38l1 -28l2 5l2 56l2 -80l2 -38l2 62l2 5l2 -38l1 55l2 -34l2 -6l2 20l2 -13l2 19l2 -7l1 -32l2 56l2 -26l2 3l2 -31l2 22l2 11l2 -36l1 64l2 -3l2 -55l2 -40l2 58l2 -21l2 43l2 -39l1 -2l2 -10l2 33l2 -68l2 72l2 -62l2 64l2 -47l1 -14l2 -22l2 57l2 38l2 -63l2 38l2 9l2 0l1 -5l2 -42l2 13l2 -12l2 -5l2 30l2 -27l2 -14l1 -17l2 43l2 10l2 16l2 -14l2 -10l2 -7l2 40l1 -24l2 -2l2 5l2 0l2 -24l2 33l2 -37l1 38l2 -33l2 33l2 -58l2 10l2 -15l2 54l2 12l1 0l2 -29l2 -33l2 9l2 0l2 48l2 -59l2 8l1 32l2 51l2 -45l2 -18l2 -76l2 66l2 7l2 -43l1 1l2 29l2 -7l2 -16l2 49l2 -29l2 20l2 13l1 -38l2 -17l2 -21l2 27l2 -11l2 33l2 33l2 -23l1 -36l2 32l2 -66l2 17l2 35l2 -51l2 27l2 -27l1 46l2 -26l2 25l2 -7l2 -31l2 -21l2 45l1 -5l2 29l2 -18l2 -20l2 45l2 -23l2 17l2 -36l1 -20l2 14l2 15l2 18l2 15l2 -44l2 -41l2 46l1 -7l2 9l2 17l2 -59l2 8l2 57l2 -7l2 -70l1 58l2 -24l2 25l2 -37l2 29l2 -6l2 12l2 -82l1 -20l2 63l2 -14l2 2l2 14l2 1l2 7l2 -33l1 54l2 -12l2 -43l2 56l2 -83l2 50l2 -14l2 -32l1 36l2 -6l2 19l2 -31l2 -6l2 41l2 -43l1 -10l2 13l2 32l2 -47l2 -13l2 50l2 35l2 -32l1 -21l2 -36l2 1l2 13l2 36l2 -40l2 20l2 27l1 20l2 -79l2 71l2 -81l2 -30l2 61l2 41l2 -26l1 -1l2 -31l2 -20l2 48l2 -14l2 7l2 -53l2 3l1 50l2 -17l2 -16l2 54l2 -38l2 -21l2 42l2 -48l1 3l2 15l2 -47l2 54l2 -40l2 17l2 -40l2 51l1 -41l2 -3l2 -16l2 -16l2 88l2 -43l2 27l1 -62l2 -13l2 46l2 -17l2 -33l2 30l2 8l2 42l1 -29l2 -52l2 103l2 -89l2 -3l2 1l2 -30l2 38l1 -72l2 45l2 -54l2 37l2 -38l2 5l2 -74l2 72l1 -25l2 -77l2 11l2 18l2 0l2 27l2 -36l2 -23l1 -29l2 8l2 -16l2 37l2 37l2 -9l2 -58l2 48l1 -39l2 97l2 -32l2 12l2 -32l2 36l2 19l1 -37l2 72l2 -51l2 -30l2 52l2 -32l2 28l2 -15l1 -16l2 -5l2 3l2 38l2 -70l2 39l2 31l2 -62l1 55l2 -73l2 34l2 30l2 12l2 11l2 -2l2 -16l1 -51l2 37l2 8l2 -16l2 23l2 30l2 7l2 -91l1 53l2 -59l2 -9l2 51l2 -16l2 36l2 -8l2 -7l1 2l2 -48l2 49l2 -33l2 24l2 -18l2 -40l2 105l1 -89l2 55l2 -28l2 15l2 2l2 26l2 39l1 -156l2 38l2 34l2 50l2 -84l2 -32l2 35l2 67l1 -41l2 -28l2 9l2 -41l2 66l2 -13l2 58l2 -121l1 14l2 33l2 43l2 -91l2 74l2 -7l2 19l2 -19l1 -18l2 3l2 -75l2 10l2 19l2 20l2 -20l2 41l1 -60l2 42l2 -16l2 -31l2 38l2 16l2 -84l2 91l1 -18l2 -6l2 -17l2 -22l2 103l2 -95l2 -68l2 5l1 8l2 31l2 -12l2 24l2 36l2 -72l2 -27l1 24l2 9l2 -33l2 17l2 -31l2 52l2 46l2 -82l1 -17l2 56l2 -37l2 -20l2 119l2 -184l2 56l2 32l1 32l2 57l2 -220l2 127l2 -39l2 46l2 -14l2 -37l1 55l2 -33l2 2l2 -27l2 -16l2 35l2 -59l2 65l1 -5l2 -19l2 10l2 -40l2 129l2 -41l2 12l2 -132l1 19l2 53l2 -42l2 76l2 -55l2 -67l2 28l2 -57l1 94l2 -63l2 36l2 -10l2 0l2 -21l2 -23l1 44l2 -14l2 16l2 -17l2 38l2 -69l2 9l2 11l1 11l2 22l2 8l2 36l2 -47l2 -65l2 16l2 66l1 -19l2 -88l2 -15l2 28l2 -49l2 102l2 -44l2 38l1 -110l2 65l2 -2l2 -1l2 38l2 -26l2 81l2 -71l1 18l2 -70l2 -23l2 38l2 47l2 0l2 -72l2 36l1 -2l2 28l2 -52l2 -1l2 -25l2 64l2 -38l2 52l1 -65l2 6l2 12l2 -51l2 80l2 -111l2 42l1 -9l2 8l2 35l2 -8l2 -61l2 35l2 -16l2 23l1 -49l2 5l2 72l2 -128l2 32l2 6l2 16l2 12l1 -38l2 -70l2 102l2 36l2 -44l2 -7l2 -37l2 82l1 -33l2 -8l2 -53l2 -8l2 33l2 -37l2 35l2 -2l1 91l2 -57l2 6l2 -65l2 12l2 43l2 -47l2 4l1 -23l2 35l2 4l2 -80l2 56l2 -53l2 73l1 -29l2 2l2 52l2 -99l2 80l2 -66l2 92l2 -115l1 24l2 -46l2 -38l2 105l2 -30l2 50l2 -36l2 -23l1 -2l2 -32l2 9l2 -22l2 64l2 -35l2 45l2 -37l1 100l2 -108l2 -11l2 21l2 -5l2 104l2 -99l2 -5l1 -35l2 -12l2 34l2 -15l2 -22l2 48l2 -80l2 -44l1 65l2 32l2 -31l2 -41l2 -7l2 148l2 -114l2 41l1 -14l2 -31l2 -13l2 32l2 48l2 -55l2 33l1 -115l2 134l2 -90l2 19l2 3l2 42l2 -24l2 -7l1 7l2 -14l2 -15l2 21l2 -37l2 -13l2 50l2 -53l1 27l2 24l2 -44l2 -27l2 57l2 61l2 -108l2 -11l1 86l2 -42l2 -40l2 130l2 -131l2 1l2 -4l2 -30l1 104l2 -84l2 -56l2 186l2 -79l2 -45l2 57l2 106l1 -151l2 5l2 36l2 -49l2 -21l2 -5l2 24l2 68l1 -40l2 82l2 -51l2 -52l2 -16l2 23l2 -1l1 80l2 -28l2 -6l2 -24l2 0l2 -188l2 120l2 84l1 -15l2 14l2 -19l2 -3l2 63l2 -134l2 20l2 1l1 21l2 -15l2 34l2 67l2 -88l2 3l2 56l2 38l1 -142l2 90l2 -35l2 20l2 -100l2 132l2 -107l2 150l1 -145l2 59l2 73l2 -98l2 5l2 65l2 -83l2 16l1 -21l2 79l2 -27l2 9l2 -45l2 28l2 20l2 -99l1 81l2 -68l2 12l2 65l2 48l2 -90l2 -14l1 -20l2 33l2 -1l2 45l2 5l2 -165l2 88l2 104l1 -68l2 -6l2 95l2 -62l2 -35l2 -46l2 3l2 83l1 -1l2 7l2 -28l2 -26l2 80l2 -36l2 18l2 9l1 -11l2 -97l2 4l2 12l2 132l2 -82l2 -87l2 84l1 48l2 -54l2 36l2 22l2 -42l2 -9l2 28l2 -6l1 43l2 -40l2 -31l2 26l2 12l2 54l2 -107l2 96l1 -97l2 65l2 -48l2 -9l2 57l2 114l2 -41l1 -44l2 -1l2 -50l2 -70l2 35l2 54l2 -61l2 65l1 -43l2 10l2 107l2 -120l2 -32l2 88l2 -45l2 11l1 33l2 5l2 -57l2 92l2 -26l2 -57l2 -3l2 -26l1 90l2 32l2 -100l2 109l2 -45l2 -7l2 -80l2 71l1 52l2 -47l2 -55l2 131l2 -19l2 -96l2 39l2 48l1 -32l2 -10l2 51l2 -22l2 -82l2 48l2 -32l2 49l1 23l2 -34l2 51l2 -51l2 29l2 0l2 1l1 29l2 -94l2 119l2 -69l2 62l2 -87l2 47l2 -15l1 -11l2 6l2 8l2 -6l2 -8l2 45l2 -6l2 -1l1 45l2 -30l2 -74l2 113l2 -126l2 92l2 -46l2 27l1 9l2 -29l2 -45l2 75l2 -2l2 21l2 -102l2 36l1 -32l2 81l2 140l2 -156l2 93l2 -46l2 -62l2 63l1 5l2 60l2 -113l2 13l2 38l2 -33l2 80l1 -25l2 -44l2 -26l2 37l2 50l2 -29l2 -97l2 104l1 -32l2 -19l2 53l2 -21l2 73l2 -47l2 -23l2 -22l1 -26l2 72l2 -36l2 25l2 28l2 1l2 -28l2 -1l1 31l2 -137l2 111l2 -26l2 38l2 -120l2 199l2 -73l1 -20l2 -39l2 49l2 38l2 -100l2 37l2 37l2 0l1 1l2 -16l2 130l2 -127l2 30l2 -43l2 7l2 55l1 -93l2 24l2 66l2 6l2 -13l2 -40l2 -35l1 85l2 -4l2 -50l2 23l2 1l2 3l2 9l2 -80l1 31l2 51l2 -61l2 -24l2 56l2 8l2 31l2 -23l1 -3l2 -41l2 88l2 27l2 -43l2 -33l2 93l2 -69l1 24l2 13l2 -48l2 -39l2 98l2 -61l2 17l2 -31l1 25l2 26l2 -85l2 45l2 57l2 39l2 -49l2 -35l1 -21l2 52l2 -6l2 56l2 -52l2 -21l2 28l2 -18l1 34l2 -2l2 -45l2 72l2 -60l2 -79l2 103l1 -2l2 14l2 18l2 -26l2 27l2 -40l2 14l2 23l1 -44l2 -36l2 8l2 42l2 -9l2 40l2 -30l2 -34l1 -3l2 -22l2 110l2 -117l2 45l2 -44l2 59l2 -46l1 48l2 40l2 -53l2 32l2 -18l2 -21l2 -10l2 5l1 -12l2 97l2 -104l2 76l2 -35l2 20l2 28l2 -78l1 73l2 -17l2 -77l2 142l2 33l2 -155l2 68l2 -62l1 31l2 18l2 -45l2 54l2 -6l2 -30l2 51l1 13l2 9l2 -99l2 -38l2 29l2 69l2 -4l2 18l1 -37l2 -69l2 71l2 -1l2 123l2 -136l2 58l2 -36l1 -23l2 9l2 -24l2 -30l2 146l2 -28l2 -122l2 44l1 47l2 -18l2 -10l2 -40l2 53l2 -12l2 51l2 -108l1 39l2 36l2 33l2 -50l2 -60l2 -29l2 -42l2 145l1 2l2 21l2 -55l2 47l2 -51l2 9l2 -3l2 54l1 -82l2 52l2 78l2 -84l2 -8l2 4l2 -34l1 -9l2 -42l2 92l2 -51l2 147l2 -172l2 73l2 -50l1 58l2 -30l2 -21l2 65l2 -1l2 89l2 -133l2 27l1 3l2 -57l2 34l2 4l2 82l2 -79l2 17l2 -50l1 57l2 28l2 -38l2 -81l2 105l2 -84l2 56l2 72l1 -103l2 -67l2 73l2 59l2 -33l2 26l2 -146l2 89l1 114l2 -124l2 14l2 57l2 -16l2 -21l2 -70l2 87l1 9l2 -67l2 61l2 16l2 -35l2 -38l2 26l1 20l2 -70l2 1l2 116l2 -17l2 -10l2 -27l2 -15l1 9l2 -6l2 -15l2 67l2 35l2 -96l2 -38l2 41l1 23l2 -38l2 34l2 38l2 -36l2 -44l2 16l2 -14l1 46l2 -41l2 -34l2 68l2 6l2 -67l2 43l2 49l1 -29l2 -67l2 36l2 -58l2 47l2 14l2 -31l2 65l1 -66l2 48l2 3l2 -25l2 33l2 25l2 -9l1 -55l2 8l2 9l2 -26l2 63l2 -19l2 -80l2 100l1 -87l2 59l2 -31l2 11l2 18l2 -15l2 -33l2 63l1 9l2 -70l2 48l2 -10l2 0l2 9l2 53l2 -67l1 13l2 34l2 -31l2 -31l2 -59l2 87l2 -73l2 69l1 -36l2 27l2 -40l2 23l2 20l2 44l2 -99l2 96l1 -35l2 -148l2 114l2 5l2 -2l2 -5l2 22l2 -27l1 19l2 6l2 -32l2 -7l2 10l2 -24l2 -36l1 5l2 62l2 46l2 -87l2 39l2 -26l2 43l2 -48l1 76l2 -50l2 58l2 -132l2 88l2 71l2 -132l2 11l1 -59l2 140l2 -60l2 -37l2 58l2 -23l2 23l2 3l1 -66l2 83l2 -33l2 -21l2 20l2 -32l2 109l2 -122l1 90l2 -38l2 4l2 -32l2 25l2 8l2 -43l2 -54l1 103l2 1l2 -3l2 24l2 -1l2 -16l2 -84l2 71l1 11l2 -28l2 26l2 -136l2 44l2 59l2 66l1 -44l2 13l2 -1l2 49l2 -64l2 2l2 3l2 23l1 -64l2 47l2 54l2 -48l2 -72l2 -15l2 90l2 -38l1 -28l2 -15l2 53l2 -29l2 27l2 53l2 -106l2 38l1 -19l2 24l2 25l2 -15l2 -33l2 63l2 -110l2 -29l1 176l2 -124l2 52l2 -41l2 16l2 14l2 -43l2 31l1 -54l2 44l2 69l2 -50l2 -6l2 22l2 26l2 -123l1 80l2 -1l2 63l2 -83l2 27l2 -45l2 -22l1 92l2 27l2 -94l2 5l2 31l2 -15l2 42l2 -9l1 0l2 84l2 -109l2 0l2 67l2 -13l2 -31l2 -15l1 29l2 19l2 -32l2 13l2 44l2 -24l2 3l2 -38l1 77l2 -17l2 -15l2 -14l2 -88l2 99l2 -46l2 12l1 -18l2 -15l2 46l2 60l2 -22l2 -69l2 -89l2 100l1 -41l2 67l2 59l2 -34l2 -6l2 -22l2 4l2 67l1 -77l2 68l2 -31l2 -12l2 -1l2 9l2 41l1 -14l2 -39l2 54l2 29l2 53l2 -95l2 36l2 -33l1 42l2 -22l2 -1l2 -48l2 70l2 13l2 -48l2 -25l1 67l2 -52l2 20l2 -17l2 90l2 -72l2 15l2 -16l1 35l2 -20l2 79l2 -80l2 -50l2 45l2 6l2 -8l1 -39l2 80l2 31l2 -12l2 -15l2 -27l2 -26l2 59l1 12l2 -69l2 -5l2 70l2 -56l2 37l2 12l1 -11l2 28l2 33l2 -9l2 -23l2 -38l2 -2l2 -16l1 63l2 -27l2 54l2 -16l2 -73l2 45l2 -73l2 46l1 44l2 9l2 53l2 -124l2 13l2 -94l2 57l2 66l1 52l2 28l2 -49l2 -12l2 55l2 -79l2 -8l2 73l1 -25l2 44l2 -88l2 72l2 10l2 32l2 -2l2 -3l1 -101l2 17l2 70l2 -10l2 -29l2 -5l2 45l2 -87l1 28l2 -49l2 178l2 -42l2 -83l2 20l2 21l1 33l2 -59l2 40l2 -107l2 51l2 8l2 103l2 -77l1 -51l2 -1l2 23l2 6l2 71l2 -79l2 -14l2 55l1 -1l2 25l2 -10l2 20l2 -27l2 26l2 50l2 -31l1 -47l2 21l2 -86l2 62l2 -10l2 50l2 -38l2 66l1 0l2 -54l2 25l2 39l2 -61l2 -17l2 27l2 -18l1 16l2 2l2 87l2 16l2 -52l2 105l2 -94l2 22l1 -42l2 31l2 -24l2 34l2 -21l2 -61l2 92l1 27l2 -110l2 24l2 31l2 15l2 -24l2 26l2 -45l1 46l2 14l2 -40l2 49l2 -46l2 63l2 -21l2 -23l1 33l2 -58l2 40l2 -9l2 78l2 -87l2 19l2 74l1 -77l2 -1l2 39l2 15l2 13l2 -49l2 2l2 10l1 -76l2 73l2 -4l2 62l2 -64l2 -45l2 90l2 -101l1 93l2 -22l2 19l2 3l2 87l2 -127l2 107l2 -116l1 82l2 -18l2 -102l2 121l2 -24l2 37l2 -35l1 -18l2 -38l2 145l2 -85l2 -21l2 -9l2 59l2 -28l1 -58l2 52l2 -114l2 171l2 -15l2 -23l2 37l2 -54l1 61l2 -47l2 64l2 -21l2 -35l2 -10l2 54l2 20l1 -67l2 54l2 -45l2 -29l2 24l2 74l2 -90l2 6l1 59l2 -4l2 -60l2 30l2 6l2 -49l2 49l2 -74l1 50l2 42l2 3l2 16l2 -49l2 82l2 -67l2 50l1 44l2 -92l2 20l2 6l2 22l2 -8l2 22l1 -63l2 1l2 48l2 0l2 -8l2 -18l2 24l2 24l1 -5l2 -16l2 16l2 10l2 -51l2 28l2 -14l2 60l1 -54l2 27l2 11l2 15l2 16l2 -20l2 -17l2 7l1 -66l2 50l2 9l2 12l2 24l2 1l2 -46l2 71l1 -100l2 3l2 99l2 -85l2 4l2 1l2 15l2 -30l1 80l2 -10l2 -33l2 19l2 48l2 -71l2 -5l2 40l1 -17l2 -18l2 99l2 -48l2 11l2 -22l2 36l1 2l2 -46l2 -50l2 98l2 -89l2 22l2 -1l2 -9l1 56l2 -47l2 84l2 -21l2 -35l2 -13l2 69l2 18l1 -72l2 5l2 -12l2 26l2 39l2 -75l2 12l2 20l1 -62l2 62l2 -77l2 91l2 88l2 -54l2 51l2 -77l1 -43l2 91l2 -75l2 32l2 -35l2 17l2 44l2 -48l1 20l2 -28l2 -31l2 67l2 -55l2 54l2 -20l1 14l2 27l2 -23l2 19l2 -30l2 51l2 -2l2 -56l1 12l2 0l2 1l2 -13l2 18l2 -12l2 53l2 -39l1 39l2 17l2 -30l2 -26l2 20l2 -53l2 34l2 9l1 10l2 46l2 -42l2 2l2 -52l2 96l2 -37l2 19l1 -26l2 58l2 -61l2 9l2 -4l2 -73l2 83l2 -17l1 17l2 -33l2 -34l2 17l2 42l2 50l2 -51l2 64l1 -23l2 -8l2 17l2 -33l2 12l2 12l2 -33l1 35l2 -61l2 21l2 33l2 -25l2 34l2 -1l2 -49l1 80l2 -61l2 -43l2 126l2 -139l2 131l2 11l2 -3l1 -1l2 -43l2 40l2 -50l2 -30l2 49l2 -26l2 -15l1 -32l2 55l2 -23l2 7l2 15l2 12l2 -20l2 -27l1 79l2 -28l2 -20l2 2l2 0l2 -38l2 18l2 70l1 -84l2 69l2 5l2 -57l2 43l2 42l2 -68l2 6l1 -2l2 59l2 -66l2 44l2 -45l2 65l2 -7l1 30l2 -34l2 -54l2 25l2 25l2 -57l2 29l2 -10l1 13l2 14l2 -6l2 -9l2 -20l2 16l2 -8l2 60l1 23l2 -65l2 6l2 -8l2 66l2 -57l2 36l2 -33l1 5l2 3l2 -14l2 25l2 -14l2 -21l2 -24l2 34l1 -12l2 7l2 -32l2 -12l2 82l2 -39l2 12l2 -38l1 120l2 -53l2 32l2 -91l2 33l2 -11l2 8l2 4l1 -4l2 25l2 96l2 -117l2 12l2 15l2 16l1 -70l2 61l2 9l2 -50l2 -23l2 82l2 -9l2 2l1 -41l2 -5l2 -25l2 44l2 6l2 11l2 -51l2 51l1 8l2 -18l2 -5l2 -12l2 30l2 -69l2 -4l2 89l1 -37l2 35l2 -21l2 28l2 -27l2 -16l2 3l2 76l1 -11l2 -5l2 -89l2 41l2 -6l2 -40l2 72l2 -41l1 32l2 -25l2 61l2 -43l2 -9l2 -5l2 46l2 -35l1 -32l2 29l2 -27l2 6l2 12l2 18l2 -12l1 30l2 -46l2 10l2 -53l2 -2l2 41l2 9l2 11l1 -19l2 -15l2 49l2 29l2 3l2 -68l2 16l2 -2l1 65l2 -32l2 29l2 -11l2 -17l2 4l2 -102l2 149l1 -48l2 5l2 -24l2 -18l2 44l2 26l2 -36l2 -23l1 43l2 -59l2 58l2 -10l2 -6l2 -67l2 33l2 12l1 40l2 4l2 -12l2 -66l2 9l2 34l2 25l1 31l2 -27l2 -38l2 -1l2 5l2 32l2 -34l2 19l1 -29l2 18l2 -14l2 13l2 23l2 -46l2 64l2 -49l1 32l2 -2l2 -17l2 23l2 14l2 -2l2 6l2 -32l1 -8l2 12l2 42l2 -48l2 -23l2 60l2 14l2 -71l1 31l2 -35l2 40l2 32l2 -39l2 1l2 -10l2 33l1 -11l2 -70l2 74l2 -96l2 138l2 -63l2 -4l2 -14l1 26l2 18l2 -21l2 45l2 29l2 -27l2 -88l1 2l2 -9l2 38l2 56l2 -14l2 -36l2 32l2 4l1 3l2 -9l2 33l2 -66l2 33l2 -56l2 -11l2 49l1 -32l2 -1l2 25l2 11l2 -41l2 18l2 23l2 10l1 -15l2 -26l2 7l2 50l2 -26l2 -9l2 17l2 -9l1 25l2 -5l2 -31l2 2l2 15l2 -69l2 66l2 -25l1 12l2 21l2 -32l2 -11l2 30l2 -13l2 -66l2 104l1 -18l2 -22l2 16l2 23l2 -9l2 -7l2 1l1 -9l2 -43l2 38l2 17l2 -29l2 1l2 48l2 -13l1 14l2 -40l2 -14l2 30l2 -41l2 51l2 -7l2 -7l1 -7l2 -41l2 77l2 -46l2 13l2 -30l2 70l2 -5l1 -79l2 12l2 5l2 33l2 -32l2 29l2 30l2 -26l1 4l2 21l2 -12l2 3l2 -33l2 -13l2 -4l2 1l1 60l2 -45l2 -7l2 11l2 38l2 54l2 -84l2 27l1 -47l2 65l2 -56l2 28l2 24l2 -24l2 -8l1 -27l2 1l2 -12l2 14l2 33l2 0l2 -17l2 14l1 37l2 11l2 -78l2 18l2 -51l2 69l2 -43l2 25l1 -10l2 12l2 -28l2 16l2 27l2 -10l2 4l2 -9l1 -4l2 19l2 4l2 -16l2 49l2 -60l2 1l2 96l1 -55l2 -30l2 62l2 -74l2 -15l2 14l2 -13l2 29l1 -26l2 4l2 23l2 -6l2 49l2 -9l2 -65l2 0l1 51l2 53l2 -21l2 -86l2 22l2 -43l2 18l1 -21l2 33l2 39l2 -6l2 -65l2 95l2 -55l2 27l1 -47l2 51l2 5l2 -46l2 115l2 -118l2 22l2 24l1 -34l2 31l2 -30l2 15l2 -19l2 48l2 -8l2 -69l1 42l2 14l2 20l2 -11l2 -20l2 40l2 -32l2 6l1 46l2 -54l2 -33l2 46l2 -6l2 -13l2 23l2 32l1 -49l2 13l2 20l2 -70l2 35l2 24l2 -2l2 -62l1 21l2 71l2 -65l2 41l2 -8l2 -47l2 11l1 43l2 -23l2 -18l2 21l2 -14l2 30l2 -54l2 -5l1 58l2 21l2 -26l2 -36l2 18l2 7l2 -6l2 45l1 -39l2 2l2 14l2 -39l2 40l2 0l2 -37l2 2l1 15l2 -4l2 -5l2 2l2 58l2 -72l2 -32l2 45l1 18l2 -40l2 15l2 38l2 -18l2 14l2 -44l2 93l1 -100l2 54l2 -27l2 20l2 -22l2 -22l2 15l1 51l2 -27l2 -10l2 -48l2 66l2 -3l2 10l2 -20l1 -19l2 67l2 -88l2 4l2 13l2 5l2 -50l2 96l1 -14l2 -74l2 93l2 -42l2 13l2 21l2 1l2 -21l1 -13l2 -6l2 -3l2 15l2 1l2 -16l2 34l2 20l1 -60l2 80l2 -72l2 -20l2 70l2 27l2 -38l2 -32l1 35l2 -55l2 11l2 45l2 -48l2 60l2 -27l2 -18l1 -31l2 15l2 -19l2 81l2 -128l2 113l2 -32l1 -36l2 29l2 -19l2 67l2 -2l2 -19l2 3l2 -18l1 12l2 23l2 -38l2 45l2 -20l2 -28l2 34l2 -24l1 -19l2 -23l2 8l2 9l2 11l2 48l2 -11l2 1l1 -9l2 -11l2 22l2 -14l2 -43l2 43l2 42l2 -46l1 -4l2 6l2 -69l2 34l2 -21l2 64l2 -38l2 14l1 9l2 21l2 -29l2 59l2 -79l2 -112l2 97l2 99l1 -63l2 26l2 -4l2 -9l2 -40l2 13l2 43l1 -39l2 12l2 -52l2 96l2 -37l2 23l2 -25l2 55l1 -30l2 -22l2 13l2 8l2 -21l2 12l2 10l2 -18l1 -8l2 -8l2 57l2 -37l2 -43l2 72l2 -43l2 17l1 -43l2 -4l2 26l2 21l2 30l2 -29l2 9l2 -24l1 -41l2 -10l2 44l2 5l2 7l2 -12l2 14l2 -54l1 69l2 -24l2 20l2 -42l2 -24l2 31l2 13l2 4l1 -14l2 28l2 -57l2 -3l2 20l2 5l2 33l1 -60l2 87l2 -18l2 -77l2 69l2 11l2 22l2 -72l1 -5l2 27l2 50l2 -42l2 19l2 -46l2 -15l2 28l1 0l2 -30l2 -4l2 78l2 -45l2 44l2 -11l2 -51l1 60l2 -25l2 -38l2 21l2 57l2 -42l2 3l2 19l1 -80l2 54l2 0l2 -27l2 24l2 40l2 -36l2 -12l1 7l2 -24l2 5l2 10l2 18l2 -6l2 -51l2 97l1 -75l2 18l2 31l2 -18l2 -17l2 83l2 -71l1 -11l2 39l2 -27l2 -34l2 32l2 28l2 20l2 5l1 -74l2 31l2 -2l2 3l2 14l2 -67l2 28l2 -21l1 72l2 -48l2 -2l2 48l2 -7l2 -1l2 -49l2 21l1 25l2 -38l2 37l2 -21l2 5l2 21l2 -48l2 24l1 62l2 -56l2 -45l2 100l2 -84l2 18l2 39l2 -32l1 29l2 42l2 -82l2 3l2 55l2 -34l2 -15l2 75l1 -103l2 49l2 -31l2 -6l2 42l2 -34l2 6l1 -8l2 23l2 -38l2 7l2 -22l2 12l2 65l2 -21l1 -26l2 -16l2 46l2 -19l2 -8l2 11l2 -30l2 54l1 -41l2 35l2 -32l2 36l2 -17l2 -33l2 51l2 -28l1 -15l2 20l2 4l2 -7l2 24l2 -44l2 1l2 -27l1 39l2 -22l2 42l2 -26l2 38l2 -31l2 15l2 -34l1 79l2 -49l2 3l2 -26l2 37l2 -8l2 -44l1 50l2 -7l2 -40l2 86l2 -67l2 2l2 2l2 54l1 -9l2 -16l2 1l2 -41l2 30l2 -50l2 39l2 -17l1 34l2 -2l2 -27l2 -12l2 41l2 -52l2 40l2 -47l1 74l2 -24l2 -26l2 19l2 13l2 -32l2 -8l2 36l1 -31l2 31l2 10l2 -55l2 49l2 -2l2 -33l2 46l1 -1l2 -14l2 -13l2 -23l2 30l2 12l2 17l2 -25l1 3l2 -41l2 72l2 4l2 3l2 -43l2 -18l1 -32l2 86l2 -47l2 21l2 -60l2 34l2 -31l2 41l1 -29l2 19l2 26l2 -42l2 34l2 51l2 -57l2 30l1 -47l2 -26l2 32l2 -6l2 47l2 -11l2 -6l2 -68l1 64l2 -19l2 56l2 -35l2 -17l2 9l2 2l2 -19l1 -1l2 45l2 3l2 -50l2 -25l2 76l2 -54l2 55l1 -33l2 -38l2 77l2 -43l2 6l2 24l2 -51l2 46l1 -7l2 11l2 -51l2 7" fill="none" stroke="#548235" stroke-width="12" stroke-linejoin="miter" stroke-miterlimit="2"/>
<path transform="scale(0.1)" d="M7172 2391l11 -4l11 6l12 13l11 -6l11 6l11 -4l12 1l11 -4l11 -8l11 -7l12 17l11 -2l11 12l11 -10l12 9l11 -7l11 5l11 -19l11 3l12 13l11 -9l11 -5l11 -19l12 23l11 -8l11 -18l11 11l12 -2l11 -4l11 -8l11 16l12 -8l11 -14l11 21l11 -6l11 -33l12 6l11 -5l11 3l11 -3l12 1l11 -14l11 -3l11 2l12 -13l11 17l11 -13l11 -6l12 -6l11 12l11 -16l11 0l12 -17l11 -5l11 7l11 -18l11 17l12 -11l11 -30l11 20l11 -18l12 -14l11 4l11 -30l11 9l12 -11l11 6l11 -30l11 9l12 -10l11 -26l11 -21l11 -29l11 -1l12 -46l11 -21l11 -29l11 -25l12 -15l11 -13l11 42l11 10l12 8l11 -11l11 -23l11 -13l12 24l11 -31l11 26l11 -31l11 -8l12 -17l11 -20l11 4l11 -19l12 -28l11 11l11 -17l11 -1l12 -24l11 -32l11 4l11 -11l12 -3l11 -50l11 1l11 -2l11 -15l12 -27l11 -5l11 -5l11 -7l12 -24l11 -15l11 -22l11 -14l12 -20l11 -10l11 4l11 -14l12 -11l11 -42l11 -18l11 -5l11 -31l12 16l11 -17l11 -24l11 -46l12 34l11 -42l11 6l11 -11l12 -26l11 3l11 -18l11 -3l12 -10l11 -14l11 -11l11 -24l12 13l11 -14l11 -123l11 102l11 -6l12 -22l11 0l11 -54l11 13l12 46l11 0l11 -2l11 12l12 -1l11 -24l11 15l11 -6l12 26l11 -12l11 -8l11 4l11 12l12 13l11 -45l11 32l11 19l12 -1l11 24l11 0l11 -3l12 -3l11 28l11 13l11 1l12 16l11 8l11 1l11 3l11 15l12 -9l11 -15l11 27l11 11l12 19l11 -17l11 27l11 4l12 -1l11 -12l11 -5l11 36l12 -3l11 -4l11 8l11 10l11 -9l12 26l11 7l11 3l11 -1l12 6l11 0l11 11l11 -3l12 -25l11 35l11 -10l11 -3l12 3l11 14l11 -7l11 16l12 -17l11 7l11 19l11 -23l11 13l12 -12l11 -11l11 16l11 5l12 -31l11 13l11 2l11 3l12 -18l11 3l11 -13l11 15l12 -2l11 -49l11 44l11 -34l11 23l12 5l11 -10l11 -30l11 19l12 -29l11 1l11 25l11 -17l12 3l11 -4l11 0l11 -13l12 6l11 -21l11 -2l11 1l11 -3l12 13l11 -67l11 61l11 -8l12 1l11 -11l11 -28l11 50l12 10l11 -1l11 11l11 2l12 27l11 14l11 -3l11 5l11 -15l12 45l11 11l11 -37l11 58l12 3l11 20l11 -3l11 -14l12 32l11 18l11 12l11 12l12 9l11 9l11 -29l11 56l11 1l12 -3l11 44l11 17l11 -3l12 27l11 8l11 16l11 -3l12 21l11 13l11 -1l11 24l12 23l11 14l11 1l11 9l12 19l11 1l11 12l11 7l11 0l12 8l11 3l11 24l11 17l12 15l11 -4l11 13l11 -21l12 26l11 23l11 14l11 -7l12 -1l11 -1l11 22l11 9l11 -1l12 -11l11 25l11 2l11 14l12 1l11 -9l11 7l11 4l12 20l11 7l11 -11l11 21l12 -1l11 0l11 18l11 4l11 -5l12 -11l11 29l11 8l11 0l12 -4l11 -2l11 -3l11 35l12 -5l11 3l11 -11l11 -22l12 49l11 2l11 4l11 -6l11 1l12 -14l11 24l11 4l11 1l12 9l11 -8l11 11l11 6l12 5l11 -18l11 20l11 -5l12 -15l11 9l11 -3l11 4l11 -13l12 16l11 16l11 -5l11 9l12 -17l11 11l11 -4l11 1l12 11l11 3l11 -8l11 0l12 8l11 -20l11 -7l11 17l12 -13l11 -3l11 23l11 2l11 -8l12 -2l11 -22l11 22l11 -10l12 -4l11 0l11 18l11 -5l12 -10l11 4l11 8l11 -21l12 14l11 -6l11 18l11 -20l11 18l12 2l11 -9l11 7l11 -18l12 -16l11 22l11 -2l11 2l12 8l11 -2l11 4l11 -15l12 2l11 13l11 -2l11 -5l11 11l12 -26l11 23l11 -10l11 7l12 -6l11 -4l11 11l11 -8l12 9l11 0l11 -13l11 2l12 8l11 -5l11 14l11 -8l11 7l12 0l11 -3l11 -20l11 4l12 0l11 16l11 -4l11 -6l12 15l11 -12l11 -15l11 27l12 -32l11 35l11 -5l11 8l12 -4l11 -16l11 16l11 -8l11 9l12 -7l11 11l11 -10l11 -4l12 -49l11 60l11 7l11 -10l12 1l11 7l11 4l11 -12l12 7l11 -4l11 -1l11 10l11 2l12 -4l11 -4l11 -9l11 4l12 5l11 5l11 7l11 -1l12 1l11 -22l11 10l11 11l12 -7l11 -12l11 18l0 84l-11 1l-11 3l-12 6l-11 -19l-11 18l-11 -10l-12 -9l-11 21l-11 -21l-11 2l-12 7l-11 -4l-11 16l-11 -18l-12 9l-11 9l-11 1l-11 -21l-11 33l-12 -15l-11 -13l-11 -14l-11 18l-12 -4l-11 3l-11 -6l-11 -6l-12 13l-11 0l-11 17l-11 -18l-12 -16l-11 3l-11 5l-11 -9l-11 25l-12 -31l-11 6l-11 -6l-11 19l-12 -22l-11 1l-11 26l-11 -1l-12 -23l-11 4l-11 -2l-11 2l-12 -3l-11 31l-11 -33l-11 9l-12 -3l-11 3l-11 17l-11 -27l-11 3l-12 10l-11 0l-11 -1l-11 -16l-12 28l-11 3l-11 -29l-11 14l-12 -10l-11 1l-11 30l-11 -33l-12 15l-11 -19l-11 4l-11 22l-11 -19l-12 -2l-11 -6l-11 9l-11 17l-12 -23l-11 -2l-11 2l-11 -4l-12 11l-11 2l-11 -7l-11 -2l-12 40l-11 -34l-11 1l-11 -12l-11 1l-12 35l-11 -18l-11 24l-11 -25l-12 -4l-11 15l-11 -18l-11 -8l-12 30l-11 -18l-11 10l-11 -15l-12 -1l-11 7l-11 -7l-11 8l-11 11l-12 -19l-11 0l-11 -3l-11 20l-12 -18l-11 17l-11 -5l-11 -6l-12 10l-11 -8l-11 14l-11 -24l-12 8l-11 -7l-11 38l-11 -34l-12 -14l-11 20l-11 -15l-11 -5l-11 11l-12 -1l-11 -11l-11 4l-11 -6l-12 -8l-11 6l-11 13l-11 -15l-12 -3l-11 20l-11 -33l-11 -2l-12 -7l-11 6l-11 -9l-11 14l-11 -25l-12 11l-11 12l-11 -32l-11 17l-12 -22l-11 2l-11 -11l-11 32l-12 -45l-11 -5l-11 14l-11 -12l-12 -10l-11 10l-11 -25l-11 11l-11 -22l-12 13l-11 -20l-11 3l-11 3l-12 -19l-11 0l-11 -13l-11 -7l-12 7l-11 -14l-11 -9l-11 5l-12 -8l-11 -13l-11 0l-11 -10l-11 20l-12 -17l-11 -5l-11 -5l-11 -9l-12 -15l-11 0l-11 12l-11 -19l-12 -29l-11 -7l-11 -9l-11 -13l-12 7l-11 -12l-11 -21l-11 0l-11 -19l-12 5l-11 -3l-11 -14l-11 11l-12 -54l-11 29l-11 -56l-11 12l-12 -35l-11 -13l-11 -12l-11 -17l-12 10l-11 -24l-11 9l-11 -29l-12 -24l-11 2l-11 16l-11 -54l-11 6l-12 -20l-11 10l-11 -9l-11 -31l-12 -14l-11 -1l-11 10l-11 -39l-12 -14l-11 2l-11 -13l-11 0l-12 -25l-11 -2l-11 -11l-11 -11l-11 10l-12 -32l-11 -6l-11 -22l-11 -16l-12 -3l-11 -3l-11 -17l-11 14l-12 -3l-11 0l-11 7l-11 4l-12 15l-11 9l-11 -17l-11 9l-11 -5l-12 1l-11 17l-11 3l-11 1l-12 9l-11 12l-11 -15l-11 7l-12 10l-11 5l-11 2l-11 -11l-12 6l-11 8l-11 36l-11 -35l-11 15l-12 -12l-11 34l-11 -16l-11 -5l-12 39l-11 -32l-11 43l-11 -35l-12 1l-11 0l-11 2l-11 13l-12 -5l-11 25l-11 -12l-11 -6l-11 -16l-12 3l-11 11l-11 -26l-11 17l-12 -3l-11 4l-11 -14l-11 2l-12 14l-11 -37l-11 1l-11 3l-12 5l-11 -2l-11 -11l-11 -8l-12 26l-11 -41l-11 2l-11 -11l-11 -4l-12 -8l-11 -5l-11 28l-11 0l-12 -15l-11 -24l-11 8l-11 -14l-12 -9l-11 -8l-11 13l-11 -29l-12 18l-11 -14l-11 -19l-11 -15l-11 7l-12 -18l-11 0l-11 10l-11 -24l-12 -7l-11 -4l-11 -16l-11 13l-12 -24l-11 -11l-11 14l-11 -14l-12 35l-11 -35l-11 -1l-11 -6l-11 19l-12 -2l-11 -32l-11 9l-11 13l-12 -12l-11 2l-11 5l-11 -8l-12 -5l-11 26l-11 -29l-11 18l-12 8l-11 18l-11 -14l-11 23l-11 -17l-12 21l-11 26l-11 -8l-11 9l-12 1l-11 27l-11 18l-11 -14l-12 22l-11 5l-11 28l-11 21l-12 11l-11 23l-11 17l-11 5l-12 -6l-11 31l-11 9l-11 29l-11 10l-12 -7l-11 26l-11 2l-11 23l-12 16l-11 9l-11 15l-11 10l-12 11l-11 18l-11 64l-11 -27l-12 14l-11 18l-11 7l-11 19l-11 3l-12 26l-11 5l-11 3l-11 21l-12 12l-11 5l-11 14l-11 40l-12 -5l-11 -2l-11 14l-11 14l-12 42l-11 29l-11 -17l-11 -5l-11 15l-12 14l-11 -1l-11 -2l-11 -9l-12 -7l-11 3l-11 -25l-11 -1l-12 6l-11 29l-11 39l-11 29l-12 13l-11 83l-11 -42l-11 22l-11 13l-12 12l-11 19l-11 15l-11 1l-12 29l-11 13l-11 -14l-11 19l-12 5l-11 -15l-11 16l-11 19l-12 16l-11 -20l-11 6l-11 5l-11 -4l-12 1l-11 10l-11 12l-11 -5l-12 8l-11 25l-11 -23l-11 32l-12 -19l-11 2l-11 8l-11 7l-12 -4l-11 -3l-11 6l-11 4l-12 5l-11 5l-11 -2l-11 2l-11 16l-12 -7l-11 3l-11 30l-11 -21l-12 -10l-11 19l-11 -15l-11 26l-12 -19l-11 10l-11 -11l-11 7l-12 15l-11 -15l-11 4l-11 -3l-11 20l-12 -15l-11 18l-11 -13l-11 11l-12 -14l-11 -8l-11 1l-11 8l-12 4l-11 1l-11 -11l-11 1l-12 -4l-11 -2l-11 5z" fill="#ffc000" stroke="#ffc000" stroke-width="4"/>
<path transform="scale(0.1)" d="M7172 3191l2 -37l2 -9l2 -7l1 -7l2 26l2 -24l2 43l2 -54l2 17l2 12l2 -28l1 43l2 23l2 -51l2 9l2 11l2 8l2 -27l2 -9l1 42l2 12l2 -49l2 42l2 -55l2 -4l2 47l2 -67l1 60l2 -4l2 1l2 -13l2 -8l2 11l2 25l2 -9l1 29l2 -12l2 -28l2 4l2 14l2 -18l2 22l2 -16l1 -2l2 -40l2 18l2 48l2 -15l2 65l2 -120l2 96l1 -47l2 35l2 -37l2 -4l2 -9l2 29l2 -31l1 33l2 6l2 -3l2 -1l2 -56l2 18l2 7l2 61l1 -44l2 -17l2 56l2 -63l2 48l2 -25l2 -6l2 9l1 -2l2 -11l2 -16l2 -9l2 4l2 29l2 50l2 -21l1 -14l2 -26l2 -12l2 36l2 7l2 -17l2 -3l2 -11l1 -1l2 22l2 53l2 -47l2 59l2 -65l2 -66l2 34l1 20l2 -43l2 76l2 -34l2 -3l2 28l2 -3l2 -29l1 10l2 19l2 -11l2 -18l2 20l2 12l2 -27l1 12l2 -8l2 32l2 -26l2 7l2 25l2 -70l2 32l1 -2l2 -15l2 -12l2 8l2 52l2 -34l2 19l2 -9l1 -14l2 -19l2 52l2 -43l2 9l2 33l2 -92l2 70l1 -31l2 29l2 -17l2 -5l2 19l2 1l2 -30l2 4l1 -32l2 50l2 48l2 -8l2 -46l2 36l2 9l2 -60l1 65l2 0l2 -43l2 -24l2 9l2 45l2 -45l1 42l2 -31l2 79l2 -19l2 -62l2 12l2 -13l2 100l1 -124l2 12l2 -29l2 62l2 -35l2 7l2 19l2 -17l1 10l2 -15l2 21l2 -7l2 20l2 -8l2 -16l2 -9l1 5l2 -12l2 38l2 15l2 7l2 -71l2 -15l2 37l1 -7l2 33l2 -21l2 -31l2 26l2 40l2 -41l2 7l1 -22l2 -19l2 38l2 -12l2 -12l2 43l2 -16l2 33l1 -46l2 -12l2 8l2 -3l2 41l2 -12l2 -52l1 14l2 24l2 -24l2 32l2 5l2 -33l2 9l2 -10l1 -51l2 47l2 5l2 -47l2 68l2 -16l2 7l2 -10l1 -104l2 147l2 -79l2 62l2 36l2 -66l2 -2l2 5l1 18l2 -44l2 47l2 -47l2 -55l2 100l2 -39l2 2l1 40l2 -39l2 -24l2 0l2 5l2 30l2 -12l2 18l1 -51l2 46l2 28l2 -23l2 -68l2 81l2 -62l2 2l1 41l2 -29l2 41l2 -47l2 -3l2 30l2 -25l1 3l2 -14l2 -4l2 -10l2 28l2 -18l2 -8l2 -21l1 39l2 13l2 15l2 -26l2 40l2 -17l2 -45l2 -34l1 15l2 49l2 -47l2 21l2 21l2 -47l2 9l2 0l1 7l2 -11l2 31l2 -1l2 7l2 -39l2 10l2 -14l1 32l2 -2l2 -8l2 -2l2 5l2 -43l2 30l2 70l1 -52l2 -23l2 1l2 1l2 6l2 -46l2 59l2 -42l1 -5l2 -25l2 -10l2 78l2 -8l2 -27l2 -5l1 -3l2 31l2 -8l2 -52l2 22l2 -1l2 -6l2 -26l1 49l2 -13l2 48l2 -33l2 -18l2 -10l2 34l2 16l1 -15l2 73l2 -69l2 -25l2 -17l2 -27l2 32l2 24l1 -27l2 14l2 -38l2 -2l2 71l2 -38l2 -63l2 22l1 36l2 75l2 -101l2 7l2 13l2 -27l2 13l2 -23l1 35l2 -3l2 -16l2 18l2 22l2 0l2 -42l2 29l1 0l2 -6l2 -38l2 74l2 9l2 -73l2 10l1 -47l2 47l2 30l2 -48l2 -2l2 -2l2 -1l2 -50l1 67l2 -22l2 11l2 81l2 -52l2 -9l2 -17l2 23l1 -72l2 40l2 23l2 -8l2 -22l2 17l2 11l2 3l1 -34l2 -49l2 121l2 -66l2 -12l2 22l2 -84l2 54l1 50l2 -54l2 38l2 -55l2 20l2 -34l2 58l2 -38l1 -36l2 51l2 20l2 -20l2 -17l2 15l2 -23l2 -21l1 54l2 18l2 -19l2 18l2 -24l2 -15l2 39l1 -50l2 2l2 42l2 -33l2 32l2 -63l2 24l2 -22l1 -27l2 19l2 17l2 -11l2 19l2 -15l2 -54l2 61l1 -18l2 -15l2 -9l2 -17l2 47l2 -25l2 -19l2 -18l1 -16l2 -1l2 3l2 22l2 30l2 -36l2 -65l2 -27l1 66l2 12l2 -33l2 -20l2 21l2 -10l2 -27l2 10l1 25l2 26l2 -33l2 -35l2 82l2 -93l2 41l1 -38l2 64l2 5l2 18l2 -45l2 4l2 11l2 -8l1 -9l2 37l2 -50l2 74l2 -32l2 -24l2 18l2 -12l1 50l2 -25l2 -20l2 39l2 -58l2 53l2 -13l2 13l1 -43l2 27l2 -40l2 -8l2 35l2 -27l2 -36l2 100l1 1l2 -103l2 77l2 -110l2 43l2 107l2 -93l2 28l1 -8l2 -22l2 41l2 -10l2 -15l2 53l2 -44l2 -18l1 5l2 -6l2 2l2 56l2 -34l2 30l2 -70l1 -21l2 22l2 62l2 -51l2 -37l2 7l2 -10l2 -4l1 54l2 -41l2 -5l2 38l2 -15l2 -16l2 -64l2 24l1 29l2 -3l2 48l2 -52l2 -31l2 40l2 -30l2 -28l1 49l2 35l2 -46l2 0l2 -90l2 84l2 -2l2 -36l1 51l2 -14l2 -8l2 -1l2 -19l2 4l2 75l2 -109l1 47l2 -38l2 17l2 -18l2 -25l2 45l2 6l2 -35l1 20l2 -61l2 60l2 10l2 -83l2 81l2 -48l1 41l2 -41l2 -32l2 4l2 54l2 -32l2 -23l2 30l1 -56l2 7l2 -7l2 51l2 -15l2 49l2 11l2 -73l1 39l2 -27l2 33l2 -14l2 14l2 -51l2 31l2 -31l1 -17l2 28l2 -14l2 -77l2 54l2 -76l2 41l2 17l1 -4l2 81l2 -72l2 46l2 45l2 -80l2 -42l2 15l1 -6l2 -5l2 -2l2 58l2 -1l2 -42l2 -34l2 33l1 21l2 -9l2 -4l2 3l2 12l2 -92l2 45l1 58l2 -63l2 -14l2 -13l2 60l2 25l2 -141l2 118l1 1l2 -56l2 -34l2 2l2 59l2 -31l2 23l2 -27l1 20l2 -111l2 43l2 44l2 -4l2 -55l2 69l2 -17l1 4l2 -19l2 -60l2 78l2 18l2 -6l2 -20l2 24l1 -7l2 -17l2 -49l2 6l2 19l2 -28l2 9l2 3l1 25l2 -61l2 26l2 4l2 3l2 -21l2 6l2 38l1 -25l2 19l2 58l2 -59l2 -138l2 150l2 -61l1 -32l2 30l2 -4l2 30l2 9l2 -24l2 14l2 -38l1 -30l2 -12l2 -31l2 37l2 -97l2 108l2 43l2 10l1 -63l2 -23l2 -6l2 30l2 -49l2 44l2 14l2 -11l1 -11l2 -21l2 64l2 -8l2 -82l2 53l2 -58l2 17l1 10l2 -35l2 47l2 -31l2 -8l2 -11l2 71l2 -36l1 -58l2 26l2 -25l2 -55l2 122l2 -23l2 -56l1 31l2 50l2 -51l2 -1l2 32l2 -7l2 -50l2 5l1 65l2 -9l2 -24l2 -14l2 1l2 26l2 -45l2 85l1 -46l2 -34l2 -1l2 2l2 -20l2 5l2 16l2 -73l1 61l2 -103l2 157l2 -97l2 78l2 14l2 -29l2 71l1 -92l2 -15l2 29l2 -22l2 -37l2 39l2 -61l2 60l1 -100l2 69l2 48l2 -80l2 16l2 63l2 -132l2 88l1 -40l2 -83l2 126l2 -1l2 -47l2 106l2 -135l1 73l2 -90l2 5l2 88l2 6l2 -101l2 93l2 -51l1 -19l2 -18l2 30l2 30l2 -65l2 12l2 -27l2 81l1 -103l2 38l2 30l2 -38l2 25l2 66l2 -48l2 -41l1 0l2 0l2 36l2 9l2 -26l2 -26l2 9l2 -19l1 37l2 -5l2 -2l2 -5l2 1l2 -24l2 14l2 -73l1 78l2 7l2 -55l2 -103l2 122l2 39l2 -79l2 70l1 -41l2 7l2 35l2 -80l2 18l2 18l2 -18l1 56l2 -36l2 -26l2 -16l2 100l2 -93l2 59l2 41l1 -117l2 -13l2 83l2 -74l2 28l2 -30l2 -45l2 25l1 41l2 51l2 -18l2 -7l2 0l2 -40l2 -11l2 -110l1 85l2 96l2 -152l2 99l2 15l2 53l2 -78l2 -88l1 91l2 -23l2 3l2 -26l2 70l2 3l2 -60l2 -13l1 65l2 -43l2 -24l2 25l2 33l2 -102l2 27l2 34l1 32l2 46l2 -32l2 -19l2 42l2 -80l2 92l1 -115l2 83l2 16l2 -19l2 -31l2 -21l2 87l2 -70l1 45l2 37l2 -7l2 -94l2 104l2 -28l2 -26l2 -59l1 148l2 -91l2 0l2 74l2 -48l2 -4l2 -35l2 36l1 10l2 -29l2 -35l2 98l2 -55l2 12l2 -6l2 -68l1 92l2 36l2 -50l2 44l2 -117l2 11l2 99l2 -42l1 66l2 -57l2 13l2 -95l2 57l2 11l2 -35l2 62l1 -43l2 56l2 -3l2 -101l2 192l2 -137l2 55l1 -67l2 69l2 -36l2 61l2 -97l2 74l2 30l2 72l1 -55l2 -102l2 81l2 3l2 -53l2 8l2 -11l2 18l1 -85l2 121l2 -18l2 -17l2 -31l2 -37l2 59l2 -31l1 17l2 -102l2 146l2 -81l2 58l2 -11l2 -17l2 -22l1 79l2 -21l2 33l2 72l2 -192l2 79l2 10l2 31l1 -22l2 -23l2 -34l2 30l2 16l2 50l2 -18l2 -24l1 76l2 -53l2 -21l2 -62l2 134l2 -14l2 -84l1 130l2 -186l2 82l2 -27l2 13l2 92l2 -90l2 63l1 -29l2 -8l2 -7l2 -22l2 31l2 -42l2 33l2 35l1 -38l2 35l2 -48l2 48l2 0l2 -52l2 112l2 -89l1 39l2 -47l2 4l2 63l2 -54l2 -95l2 130l2 -44l1 -64l2 171l2 -58l2 -88l2 80l2 0l2 36l2 68l1 -136l2 5l2 -24l2 29l2 63l2 37l2 -85l1 -46l2 42l2 -4l2 -46l2 89l2 -12l2 -43l2 55l1 13l2 -11l2 -42l2 57l2 -16l2 -24l2 47l2 -11l1 -29l2 -1l2 41l2 -7l2 -57l2 55l2 -16l2 5l1 21l2 -52l2 40l2 57l2 -130l2 74l2 -14l2 -5l1 29l2 62l2 -40l2 -12l2 -49l2 40l2 -30l2 109l1 -18l2 -74l2 49l2 -71l2 38l2 4l2 28l2 -31l1 51l2 -91l2 24l2 25l2 66l2 -93l2 50l1 -70l2 14l2 54l2 -18l2 -75l2 45l2 -13l2 58l1 -48l2 80l2 -74l2 -10l2 46l2 -25l2 32l2 -3l1 -19l2 -6l2 12l2 -11l2 57l2 18l2 -72l2 109l1 -27l2 -11l2 -78l2 4l2 -90l2 128l2 3l2 -8l1 49l2 -89l2 73l2 -4l2 -36l2 45l2 -54l2 -8l1 -1l2 31l2 32l2 -30l2 41l2 17l2 3l2 -96l1 91l2 -94l2 46l2 12l2 -15l2 -56l2 114l1 -69l2 35l2 23l2 39l2 -41l2 1l2 -36l2 -30l1 18l2 26l2 -73l2 88l2 -24l2 15l2 -37l2 8l1 19l2 -23l2 13l2 36l2 -60l2 54l2 6l2 -51l1 45l2 -19l2 -94l2 63l2 52l2 1l2 -56l2 23l1 47l2 -58l2 84l2 -107l2 1l2 -14l2 109l2 -71l1 -50l2 57l2 23l2 -55l2 102l2 -50l2 -19l2 33l1 -19l2 -31l2 4l2 32l2 43l2 12l2 -22l1 -14l2 31l2 -154l2 111l2 -2l2 -28l2 71l2 -26l1 -43l2 48l2 -63l2 61l2 -32l2 -45l2 13l2 36l1 0l2 -22l2 42l2 26l2 -77l2 -5l2 32l2 19l1 33l2 -19l2 -10l2 -22l2 -21l2 29l2 -12l2 62l1 -52l2 -37l2 67l2 45l2 -94l2 -30l2 29l2 44l1 -39l2 98l2 -79l2 30l2 -68l2 78l2 -111l2 -13l1 17l2 35l2 63l2 -16l2 -46l2 22l2 37l1 -14l2 21l2 -44l2 17l2 -49l2 21l2 39l2 -63l1 134l2 -31l2 -31l2 -41l2 -50l2 40l2 18l2 10l1 64l2 -43l2 -92l2 58l2 33l2 -20l2 22l2 46l1 -62l2 15l2 21l2 -38l2 4l2 -17l2 5l2 -7l1 15l2 19l2 -24l2 -4l2 -35l2 33l2 26l2 -55l1 33l2 -33l2 -49l2 49l2 75l2 -13l2 -53l2 79l1 -43l2 -25l2 25l2 13l2 -29l2 12l2 4l1 -38l2 43l2 -16l2 -54l2 13l2 31l2 7l2 -17l1 1l2 56l2 -20l2 -69l2 76l2 -143l2 82l2 26l1 15l2 -22l2 -25l2 12l2 -32l2 31l2 41l2 -45l1 -7l2 31l2 29l2 -5l2 -49l2 52l2 -97l2 37l1 93l2 -27l2 -42l2 48l2 -36l2 -43l2 9l2 63l1 -68l2 -9l2 62l2 -49l2 45l2 26l2 -92l1 1l2 76l2 62l2 -134l2 59l2 -36l2 61l2 -67l1 -22l2 34l2 -25l2 18l2 -25l2 55l2 0l2 50l1 -56l2 -6l2 30l2 -80l2 47l2 -121l2 87l2 52l1 -31l2 -28l2 -13l2 -17l2 72l2 -54l2 37l2 -37l1 39l2 -4l2 -15l2 36l2 -25l2 -15l2 81l2 -49l1 -2l2 -56l2 32l2 5l2 48l2 -66l2 26l2 -48l1 46l2 -9l2 -25l2 4l2 74l2 -65l2 8l1 66l2 -24l2 -109l2 50l2 29l2 -53l2 99l2 -116l1 71l2 -77l2 69l2 4l2 -31l2 20l2 -49l2 8l1 42l2 -7l2 -7l2 -65l2 64l2 -40l2 39l2 29l1 29l2 -70l2 -10l2 8l2 -39l2 20l2 -42l2 44l1 56l2 -76l2 81l2 -35l2 42l2 -83l2 -20l2 104l1 -18l2 -8l2 44l2 -67l2 5l2 42l2 33l2 -30l1 -66l2 66l2 -58l2 -9l2 -18l2 28l2 -12l1 -47l2 77l2 -24l2 -48l2 91l2 -68l2 121l2 -38l1 -1l2 -54l2 -7l2 85l2 -157l2 -72l2 92l2 54l1 -26l2 44l2 -6l2 7l2 -41l2 30l2 -3l2 -85l1 79l2 -37l2 8l2 31l2 -2l2 -60l2 62l2 -46l1 41l2 10l2 -84l2 122l2 -40l2 -4l2 -40l2 41l1 -30l2 -22l2 -50l2 38l2 89l2 -118l2 65l2 37l1 -45l2 47l2 -22l2 21l2 -15l2 77l2 -141l1 47l2 -28l2 18l2 19l2 -92l2 41l2 65l2 -44l1 45l2 7l2 -34l2 15l2 8l2 73l2 -43l2 -35l1 -21l2 3l2 46l2 -37l2 65l2 -62l2 -52l2 79l1 31l2 -76l2 45l2 -4l2 -19l2 34l2 -38l2 54l1 3l2 -38l2 -4l2 9l2 -16l2 28l2 45l2 -62l1 78l2 -57l2 -35l2 17l2 -20l2 53l2 2l2 11l1 2l2 -24l2 -27l2 40l2 -58l2 43l2 94l1 -97l2 43l2 -19l2 32l2 -5l2 -94l2 10l2 83l1 16l2 -12l2 11l2 -43l2 -18l2 101l2 -84l2 36l1 7l2 -37l2 81l2 7l2 -50l2 25l2 -6l2 -47l1 79l2 -91l2 -2l2 63l2 -34l2 64l2 -27l2 9l1 15l2 -63l2 23l2 -19l2 92l2 -50l2 14l2 41l1 -92l2 37l2 -8l2 -39l2 75l2 -74l2 124l1 -113l2 23l2 72l2 6l2 -136l2 115l2 -62l2 30l1 12l2 12l2 41l2 -1l2 -11l2 -60l2 104l2 -29l1 -65l2 35l2 16l2 20l2 77l2 -81l2 16l2 -21l1 18l2 22l2 -100l2 124l2 -100l2 45l2 8l2 25l1 -8l2 -16l2 60l2 -107l2 32l2 9l2 2l2 -38l1 42l2 -26l2 51l2 -82l2 86l2 46l2 -42l2 -54l1 -21l2 44l2 -60l2 112l2 -8l2 7l2 -75l1 80l2 -31l2 43l2 -46l2 38l2 -132l2 79l2 47l1 -45l2 33l2 21l2 -38l2 71l2 -101l2 10l2 84l1 -32l2 62l2 -82l2 10l2 4l2 29l2 -15l2 23l1 -14l2 18l2 0l2 3l2 66l2 -58l2 -56l2 -17l1 71l2 -20l2 -40l2 100l2 -66l2 73l2 -70l2 23l1 -2l2 6l2 -72l2 158l2 -40l2 -54l2 1l2 35l1 -35l2 14l2 -2l2 -34l2 70l2 -35l2 -22l1 52l2 -59l2 73l2 29l2 -18l2 -38l2 -29l2 60l1 -20l2 1l2 -21l2 56l2 -27l2 29l2 -45l2 -11l1 106l2 -81l2 15l2 -29l2 51l2 -23l2 43l2 -66l1 -48l2 70l2 -42l2 2l2 62l2 -10l2 -1l2 -28l1 59l2 -45l2 54l2 -48l2 24l2 58l2 -42l2 -28l1 23l2 -11l2 -65l2 119l2 -18l2 25l2 -45l2 17l1 -7l2 22l2 -1l2 -86l2 -18l2 90l2 -7l1 59l2 -40l2 -36l2 13l2 22l2 -65l2 -35l2 104l1 29l2 -52l2 -7l2 58l2 -24l2 -36l2 24l2 43l1 -55l2 57l2 -114l2 91l2 62l2 -31l2 -52l2 -32l1 49l2 23l2 -82l2 118l2 -74l2 84l2 9l2 -20l1 -59l2 19l2 16l2 -18l2 38l2 -107l2 84l2 -12l1 95l2 -72l2 38l2 -59l2 75l2 -73l2 -8l2 17l1 -21l2 -7l2 60l2 7l2 2l2 -13l2 14l1 -4l2 -60l2 54l2 17l2 -58l2 83l2 -31l2 -18l1 -1l2 61l2 5l2 -3l2 -10l2 -61l2 41l2 -12l1 39l2 -9l2 -35l2 11l2 21l2 -38l2 50l2 0l1 -3l2 6l2 -42l2 71l2 -57l2 71l2 -3l2 -52l1 -8l2 15l2 59l2 -98l2 4l2 60l2 -65l2 60l1 -19l2 26l2 8l2 17l2 -37l2 -28l2 33l2 -29l1 -7l2 -18l2 15l2 31l2 -6l2 13l2 23l1 12l2 -87l2 79l2 -43l2 -26l2 35l2 28l2 -27l1 -71l2 113l2 -1l2 -11l2 -37l2 0l2 42l2 -18l1 -23l2 63l2 -31l2 -15l2 -7l2 1l2 64l2 -39l1 16l2 -23l2 -5l2 17l2 -9l2 -108l2 62l2 28l1 27l2 -58l2 81l2 34l2 -45l2 23l2 42l2 -36l1 -19l2 3l2 -23l2 -7l2 2l2 52l2 -54l1 -25l2 56l2 0l2 -19l2 -3l2 18l2 -10l2 41l1 25l2 -33l2 -5l2 -8l2 14l2 13l2 -32l2 -8l1 23l2 5l2 -13l2 19l2 -29l2 31l2 41l2 -108l1 42l2 -14l2 32l2 0l2 -6l2 -1l2 9l2 21l1 -41l2 17l2 -54l2 80l2 -12l2 -8l2 55l2 -9l1 12l2 -37l2 -22l2 1l2 -26l2 25l2 -44l2 36l1 80l2 -67l2 49l2 -62l2 -17l2 -1l2 30l1 9l2 41l2 -60l2 16l2 15l2 31l2 2l2 -24l1 -37l2 25l2 25l2 -63l2 10l2 24l2 14l2 -13l1 12l2 -19l2 48l2 -65l2 34l2 -63l2 125l2 -33l1 18l2 -42l2 -10l2 29l2 -21l2 0l2 29l2 -20l1 32l2 -19l2 5l2 4l2 12l2 -39l2 11l2 -51l1 111l2 -56l2 -4l2 -12l2 9l2 -57l2 87l2 25l1 -61l2 40l2 -26l2 13l2 -65l2 86l2 -71l1 32l2 8l2 3l2 33l2 -29l2 -4l2 16l2 25l1 -18l2 -8l2 -1l2 35l2 -44l2 -27l2 37l2 -44l1 33l2 20l2 16l2 6l2 -13l2 -14l2 24l2 -21l1 -56l2 103l2 -61l2 4l2 -6l2 2l2 11l2 8l1 -3l2 19l2 -5l2 -22l2 1l2 -2l2 25l2 41l1 -118l2 45l2 -11l2 18l2 -13l2 -7l2 -10l2 40l1 -16l2 -8l2 66l2 -42l2 -10l2 35l2 6l1 -61l2 20l2 14l2 13l2 -19l2 -86l2 88l2 31l1 19l2 -74l2 16l2 39l2 -63l2 4l2 56l2 -1l1 -30l2 12l2 -14l2 -16l2 47l2 -24l2 44l2 -53l1 -11l2 105l2 -42l2 -42l2 54l2 -45l2 -14l2 13l1 -15l2 21l2 -31l2 38l2 5l2 13l2 23l2 -44l1 -4l2 7l2 22l2 -15l2 -38l2 22l2 -27l2 12l1 33l2 -71l2 105l2 0l2 -27l2 -23l2 -15l1 14l2 23l2 -54l2 29l2 4l2 19l2 -59l2 12l1 57l2 -56l2 26l2 14l2 -38l2 48l2 -22l2 -28l1 28l2 43l2 -19l2 -24l2 25l2 -19l2 -18l2 34l1 18l2 -42l2 -36l2 48l2 -15l2 -3l2 6l2 43l1 -46l2 -3l2 37l2 -33l2 33l2 8l2 -6l2 -53l1 6l2 20l2 -40l2 65l2 -44l2 36l2 44l1 -78l2 15l2 46l2 -28l2 -23l2 23l2 -30l2 95l1 -133l2 63l2 16l2 -5l2 4l2 25l2 -13l2 -35l1 -16l2 54l2 -43l2 22l2 -71l2 43l2 -3l2 11l1 -4l2 19l2 16l2 -66l2 7l2 9l2 57l2 -28l1 -19l2 17l2 50l2 -46l2 35l2 -6l2 -44l2 99l1 -115l2 59l2 -15l2 -8l2 6l2 -4l2 14l2 -24l1 33l2 -26l2 -3l2 7l2 -39l2 37l2 11l1 -73l2 19l2 23l2 23l2 -48l2 32l2 13l2 -1l1 -28l2 17l2 24l2 42l2 -78l2 18l2 -20l2 16l1 -20l2 13l2 14l2 4l2 47l2 -10l2 -96l2 78l1 -5l2 -73l2 48l2 61l2 15l2 -22l2 -35l2 -33l1 10l2 26l2 -36l2 60l2 -28l2 -39l2 -45l2 93l1 10l2 -34l2 -1l2 -14l2 5l2 -28l2 -8l2 33l1 45l2 -20l2 -11l2 10l2 -38l2 14l2 11l1 7l2 -25l2 46l2 12l2 -20l2 15l2 -13l2 52l1 -64l2 17l2 -38l2 -7l2 11l2 58l2 -47l2 -3l1 38l2 -43l2 36l2 18l2 -62l2 35l2 -70l2 51l1 20l2 -18l2 3l2 5l2 20l2 -3l2 -63l2 63l1 -65l2 66l2 -62l2 40l2 -37l2 34l2 2l2 15l1 -20l2 -10l2 -7l2 29l2 -4l2 3l2 51l2 -61l1 39l2 -34l2 17l2 -2l2 -12l2 32l2 -33l1 -42l2 -1l2 -5l2 16l2 20l2 -40l2 52l2 -25l1 9l2 10l2 28l2 -31l2 -42l2 41l2 18l2 -20l1 21l2 -7l2 20l2 -42l2 29l2 -5l2 -2l2 41l1 -81l2 -8l2 64l2 -86l2 67l2 13l2 -19l2 -4l1 26l2 -25l2 46l2 -55l2 37l2 54l2 -69l2 33l1 -59l2 -16l2 72l2 -17l2 18l2 0l2 -7l2 -21l1 35l2 -59l2 -39l2 87l2 -27l2 15l2 54l1 -16l2 -100l2 49l2 -44l2 41l2 -22l2 -6l2 43l1 -51l2 2l2 43l2 -9l2 33l2 -74l2 68l2 -27l1 17l2 -4l2 -57l2 41l2 -26l2 31l2 -55l2 84l1 -9l2 72l2 -124l2 5l2 64l2 -10l2 -23l2 25l1 -63l2 -12l2 40l2 -1l2 14l2 30l2 5l2 -21l1 -16l2 -35l2 50l2 -30l2 -41l2 2l2 23l2 2l1 89l2 -42l2 -29l2 7l2 -21l2 -6l2 13l1 42l2 -15l2 12l2 -54l2 19l2 -24l2 30l2 32l1 -24l2 23l2 12l2 5l2 -69l2 34l2 21l2 -13l1 -15l2 3l2 4l2 7l2 -36l2 31l2 -58l2 72l1 50l2 -50l2 -39l2 7l2 -10l2 -3l2 -26l2 61l1 -45l2 25l2 15l2 -52l2 3l2 81l2 -68l2 3l1 56l2 -13l2 -14l2 -1l2 -32l2 -5l2 68l1 36l2 -49l2 -33l2 1l2 -28l2 2l2 3l2 61l1 -66l2 61l2 -69l2 18l2 11l2 -5l2 4l2 20l1 32l2 -60l2 8l2 0l2 23l2 -33l2 42l2 19l1 -64l2 36l2 10l2 -5l2 -53l2 32l2 21l2 15l1 -4l2 -19l2 36l2 -30l2 -1l2 24l2 -21l2 13l1 -26l2 -40l2 -7l2 76l2 -23l2 -19l2 24l2 31l1 -21l2 7l2 4l2 -34l2 6l2 22l2 -66l1 49l2 -52l2 55l2 -15l2 16l2 -4l2 21l2 8l1 -9l2 -45l2 -3l2 0l2 57l2 -74l2 28l2 37l1 -19l2 -4l2 -8l2 59l2 -13l2 -57l2 2l2 40l1 -23l2 -27l2 23l2 10l2 37l2 -16l2 -41l2 11l1 -10l2 39l2 36l2 -47l2 -5l2 -4l2 -45l2 1l1 27l2 7l2 -7l2 13l2 -56l2 95l2 -65l2 12l1 17l2 34l2 -50l2 38l2 3l2 -28l2 2l1 -5l2 19l2 -18l2 -47l2 47l2 23l2 -3l2 -5l1 -56l2 26l2 -25l2 27l2 -34l2 93l2 -6l2 -47l1 -8l2 44l2 -21l2 3l2 -30l2 40l2 6l2 -13l1 7l2 -26l2 5l2 -24l2 38l2 -5l2 12l2 -79l1 77l2 -37l2 2l2 41l2 -48l2 10l2 31l2 21l1 -30l2 3l2 13l2 -3l2 -36l2 33l2 8l2 -32l1 -33l2 64l2 3l2 -67l2 92l2 -47l2 -43l1 38l2 13l2 -17l2 -17l2 37l2 -19l2 13l2 -26l1 5l2 25l2 -15l2 -8l2 -28l2 34l2 21l2 -24l1 -52l2 20l2 -3l2 74l2 -131l2 81l2 5l2 6l1 -12l2 67l2 -79l2 63l2 -81l2 37l2 25l2 10l1 -20l2 -48l2 42l2 -4l2 43l2 -81l2 49l2 10l1 -27l2 26l2 -10l2 75l2 -38l2 -57l2 36l2 -45l1 12l2 -7l2 1l2 -11l2 37l2 1l2 -37l1 58l2 -5l2 9l2 -12l2 -54l2 -3l2 48l2 27l1 -19l2 -25l2 -36l2 47l2 -31l2 4l2 60l2 -69l1 -4l2 19l2 18l2 -35l2 17l2 11l2 -7l2 -27l1 64l2 -20l2 7l2 -19l2 3l2 14l2 -17l2 10l1 -37l2 5l2 30l2 -3l2 11l2 14l2 -34l2 -14l1 76l2 -24l2 -55l2 -8l2 62l2 5l2 9l2 -66l1 23l2 8l2 19l2 -41l2 31l2 -48l2 42l1 -28l2 9l2 10l2 12l2 -54l2 12l2 60l2 -71l1 79l2 -49l2 -3l2 18l2 48l2 -23l2 -67l2 63l1 -21l2 -5l2 23l2 11l2 5l2 -22l2 -38l2 30l1 5l2 -53l2 9l2 14l2 11l2 -4l2 -11l2 19l1 -18l2 19l2 -20l2 63l2 -8l2 -67l2 5l2 56l1 6l2 -55l2 34l2 -9l2 -33l2 21l2 12l1 -32l2 79l2 -28l2 -96l2 60l2 -22l2 64l2 -74l1 86l2 -49l2 7l2 33l2 -40l2 97l2 -102l2 22l1 16l2 22l2 -3l2 -5l2 -2l2 -27l2 39l2 -20l1 28l2 -101l2 41l2 82l2 -86l2 -54l2 64l2 -6l1 -12l2 -25l2 -8l2 51l2 60l2 -50l2 42l2 -6l1 -65l2 32l2 5l2 -24l2 -8l2 44l2 -62l2 63l1 -41l2 26l2 -4l2 5l2 -36l2 4l2 23l1 -31l2 68l2 -48l2 48l2 37l2 -30l2 -65l2 26l1 -7l2 27l2 -4l2 12l2 -28l2 -8l2 5l2 2l1 9l2 -15l2 -14l2 41l2 -36l2 -16l2 66l2 -16l1 -11l2 19l2 -15l2 17l2 -73l2 35l2 -32l2 45l1 -5l2 4l2 2l2 -76l2 38l2 28l2 60l2 -43l1 -37l2 16l2 17l2 -30l2 14l2 28l2 -25l2 -14l1 -1l2 25l2 11l2 -14" fill="none" stroke="#7030a0" stroke-width="12" stroke-linejoin="miter" stroke-miterlimit="2"/>
<path transform="scale(0.1)" d="M7172 3785l11 -8l11 30l12 0l11 3l11 -10l11 4l12 -21l11 30l11 -12l11 11l12 -18l11 16l11 5l11 -7l12 -11l11 -1l11 11l11 3l11 -5l12 -4l11 -9l11 12l11 -6l12 -19l11 2l11 3l11 14l12 -22l11 18l11 -4l11 -6l12 -10l11 17l11 -10l11 -13l11 -2l12 -3l11 -1l11 -17l11 -4l12 -37l11 51l11 -12l11 5l12 -6l11 -9l11 -21l11 -2l12 7l11 -2l11 -4l11 -26l12 2l11 -19l11 17l11 -7l11 -16l12 -8l11 5l11 -14l11 8l12 -12l11 -2l11 -22l11 8l12 -11l11 -11l11 -7l11 -16l12 -4l11 -5l11 -59l11 34l11 -14l12 -18l11 -28l11 -31l11 -34l12 -3l11 -22l11 26l11 -17l12 16l11 -22l11 28l11 -12l12 1l11 -11l11 0l11 -21l11 1l12 -25l11 -2l11 -7l11 -25l12 -15l11 -16l11 -2l11 -1l12 -37l11 8l11 -17l11 -10l12 -16l11 -18l11 -29l11 6l11 -7l12 -31l11 -34l11 6l11 -20l12 -7l11 -9l11 -4l11 -42l12 -7l11 -22l11 8l11 -55l12 35l11 -21l11 -30l11 -34l11 24l12 -83l11 63l11 -32l11 -10l12 -3l11 -17l11 -11l11 -31l12 5l11 -9l11 -30l11 -2l12 -23l11 1l11 -26l11 25l12 -19l11 -2l11 -23l11 10l11 -25l12 2l11 -24l11 -5l11 5l12 -12l11 -27l11 53l11 -20l12 19l11 7l11 4l11 2l12 11l11 -33l11 6l11 48l11 -26l12 1l11 24l11 21l11 -1l12 -12l11 23l11 -21l11 33l12 10l11 -3l11 -9l11 34l12 -43l11 51l11 -7l11 23l11 6l12 1l11 -3l11 11l11 12l12 1l11 -2l11 12l11 -12l12 9l11 8l11 -9l11 34l12 2l11 3l11 -9l11 -3l11 30l12 6l11 -18l11 15l11 9l12 -8l11 13l11 0l11 -1l12 5l11 -18l11 19l11 1l12 -1l11 -1l11 -1l11 0l12 2l11 3l11 -14l11 3l11 -20l12 22l11 -2l11 -3l11 3l12 -12l11 -3l11 5l11 -3l12 -1l11 -48l11 12l11 36l12 -8l11 -30l11 29l11 -46l11 8l12 10l11 13l11 -10l11 -11l12 14l11 -10l11 -9l11 9l12 -30l11 18l11 -33l11 23l12 -14l11 19l11 -56l11 32l11 -4l12 -4l11 2l11 13l11 -17l12 0l11 1l11 -1l11 -33l12 36l11 15l11 19l11 -2l12 17l11 9l11 -31l11 31l11 14l12 26l11 2l11 7l11 2l12 24l11 -3l11 9l11 13l12 14l11 4l11 -7l11 27l12 -2l11 10l11 16l11 -18l11 52l12 9l11 -6l11 -2l11 40l12 21l11 9l11 -1l11 27l12 9l11 18l11 -2l11 28l12 12l11 3l11 -8l11 26l12 16l11 10l11 3l11 -4l11 19l12 1l11 12l11 8l11 9l12 -1l11 15l11 6l11 13l12 -12l11 29l11 6l11 -3l12 8l11 9l11 -6l11 -1l11 26l12 10l11 3l11 3l11 -15l12 38l11 0l11 8l11 -2l12 16l11 7l11 5l11 -6l12 19l11 -22l11 21l11 7l11 1l12 10l11 7l11 -20l11 22l12 6l11 -7l11 15l11 -1l12 -7l11 5l11 15l11 5l12 4l11 11l11 -3l11 10l11 -11l12 7l11 -20l11 16l11 12l12 17l11 -11l11 15l11 4l12 -5l11 13l11 -6l11 -1l12 7l11 -5l11 -13l11 10l11 -4l12 -12l11 20l11 11l11 -2l12 5l11 -8l11 1l11 -7l12 10l11 -13l11 -2l11 20l12 -20l11 20l11 -14l11 -6l12 20l11 1l11 3l11 -6l11 -2l12 -10l11 -4l11 18l11 5l12 -68l11 63l11 7l11 -33l12 33l11 -14l11 14l11 -21l12 11l11 -14l11 4l11 0l11 10l12 13l11 -17l11 -4l11 13l12 -32l11 7l11 14l11 18l12 -20l11 8l11 2l11 -16l12 15l11 5l11 -12l11 -10l11 11l12 8l11 2l11 -19l11 7l12 -24l11 38l11 -17l11 11l12 -7l11 8l11 0l11 -4l12 13l11 -6l11 -9l11 10l11 -12l12 4l11 2l11 10l11 -10l12 -4l11 10l11 -5l11 3l12 -3l11 2l11 2l11 -26l12 5l11 22l11 3l11 4l12 2l11 -7l11 9l11 -5l11 -8l12 -18l11 33l11 -13l11 -7l12 6l11 7l11 -1l11 9l12 -16l11 9l11 -12l11 -12l12 25l11 6l11 -8l11 -2l11 -13l12 28l11 -10l11 11l11 -8l12 4l11 -1l11 6l11 -12l12 13l11 -15l11 2l11 -9l12 8l11 -8l11 27l0 77l-11 10l-11 -11l-12 16l-11 -12l-11 13l-11 -20l-12 2l-11 -2l-11 4l-11 -3l-12 15l-11 -7l-11 -10l-11 -8l-12 12l-11 -1l-11 4l-11 -13l-11 3l-12 -2l-11 -4l-11 7l-11 0l-12 13l-11 -17l-11 8l-11 -3l-12 22l-11 -34l-11 18l-11 -6l-12 -1l-11 -12l-11 2l-11 30l-11 -31l-12 -2l-11 11l-11 19l-11 -35l-12 6l-11 -8l-11 13l-11 -10l-12 11l-11 -12l-11 21l-11 -9l-12 -2l-11 3l-11 2l-11 -10l-12 -2l-11 8l-11 -4l-11 5l-11 -12l-12 7l-11 -1l-11 -3l-11 3l-12 7l-11 -14l-11 14l-11 11l-12 29l-11 -36l-11 19l-11 2l-12 -34l-11 47l-11 -41l-11 -2l-11 11l-12 -18l-11 2l-11 7l-11 -6l-12 7l-11 17l-11 -19l-11 -4l-12 3l-11 7l-11 13l-11 -19l-12 25l-11 -34l-11 1l-11 0l-11 4l-12 10l-11 12l-11 -24l-11 16l-12 -16l-11 -5l-11 8l-11 10l-12 -14l-11 17l-11 -14l-11 -11l-12 25l-11 -14l-11 -1l-11 -11l-11 9l-12 4l-11 -12l-11 15l-11 -9l-12 14l-11 2l-11 -18l-11 22l-12 -20l-11 -2l-11 11l-11 18l-12 -32l-11 4l-11 10l-11 -15l-12 -4l-11 30l-11 -30l-11 13l-11 -3l-12 -17l-11 21l-11 -9l-11 -16l-12 19l-11 -9l-11 -1l-11 -21l-12 1l-11 20l-11 -19l-11 5l-12 -28l-11 22l-11 -15l-11 -13l-11 0l-12 -9l-11 6l-11 -4l-11 -4l-12 -11l-11 2l-11 2l-11 3l-12 -24l-11 25l-11 -33l-11 -5l-12 26l-11 -21l-11 2l-11 -16l-11 -10l-12 -7l-11 2l-11 9l-11 -20l-12 -8l-11 25l-11 -28l-11 -14l-12 15l-11 -16l-11 -22l-11 -8l-12 13l-11 -15l-11 3l-11 -20l-11 -8l-12 -5l-11 -4l-11 14l-11 -39l-12 18l-11 -25l-11 -3l-11 -4l-12 -9l-11 36l-11 -49l-11 -1l-12 -16l-11 -19l-11 5l-11 -2l-11 -18l-12 -4l-11 -11l-11 -15l-11 -14l-12 -9l-11 -8l-11 -20l-11 -3l-12 -19l-11 -7l-11 -13l-11 -16l-12 -12l-11 -19l-11 -9l-11 18l-12 -43l-11 -9l-11 -15l-11 -16l-11 17l-12 -9l-11 -8l-11 -20l-11 -1l-12 -24l-11 -8l-11 -17l-11 0l-12 -4l-11 -20l-11 -3l-11 -3l-12 -2l-11 -18l-11 26l-11 -31l-11 65l-12 -78l-11 -11l-11 -13l-11 -18l-12 41l-11 -57l-11 -1l-11 20l-12 -14l-11 1l-11 25l-11 -13l-12 10l-11 -8l-11 -3l-11 59l-11 18l-12 -66l-11 8l-11 4l-11 26l-12 -22l-11 11l-11 14l-11 -22l-12 12l-11 3l-11 14l-11 9l-12 -15l-11 -2l-11 8l-11 8l-11 -8l-12 43l-11 -27l-11 -1l-11 6l-12 -9l-11 9l-11 4l-11 32l-12 -13l-11 12l-11 -15l-11 -10l-12 8l-11 -2l-11 26l-11 -31l-11 -1l-12 8l-11 -6l-11 -1l-11 6l-12 -10l-11 7l-11 -4l-11 1l-12 -12l-11 5l-11 16l-11 -19l-12 29l-11 -7l-11 -12l-11 -20l-12 1l-11 -7l-11 -6l-11 -14l-11 9l-12 -6l-11 12l-11 -25l-11 10l-12 -19l-11 20l-11 -25l-11 60l-12 -34l-11 -48l-11 31l-11 -36l-12 9l-11 -34l-11 31l-11 -22l-11 12l-12 -32l-11 -10l-11 -7l-11 -14l-12 28l-11 -26l-11 -10l-11 -12l-12 13l-11 -28l-11 15l-11 -15l-12 -11l-11 14l-11 -20l-11 4l-11 32l-12 -49l-11 -8l-11 -5l-11 -3l-12 2l-11 0l-11 -5l-11 -26l-12 37l-11 -21l-11 23l-11 -1l-12 -2l-11 31l-11 -3l-11 9l-11 14l-12 -3l-11 7l-11 9l-11 34l-12 -9l-11 25l-11 -3l-11 28l-12 4l-11 2l-11 6l-11 38l-12 -7l-11 10l-11 26l-11 35l-12 10l-11 16l-11 7l-11 9l-11 4l-12 11l-11 3l-11 38l-11 -9l-12 25l-11 0l-11 32l-11 10l-12 10l-11 26l-11 -4l-11 28l-12 26l-11 19l-11 -7l-11 15l-11 9l-12 8l-11 6l-11 48l-11 11l-12 -10l-11 9l-11 25l-11 4l-12 32l-11 -9l-11 6l-11 39l-12 -24l-11 30l-11 8l-11 14l-11 -18l-12 2l-11 26l-11 -13l-11 7l-12 13l-11 -14l-11 -23l-11 10l-12 -2l-11 26l-11 49l-11 29l-12 12l-11 11l-11 31l-11 -20l-11 25l-12 16l-11 -9l-11 13l-11 14l-12 39l-11 -28l-11 -2l-11 26l-12 -6l-11 22l-11 -9l-11 22l-12 -11l-11 11l-11 -2l-11 7l-11 6l-12 9l-11 13l-11 -4l-11 25l-12 -13l-11 0l-11 8l-11 33l-12 -28l-11 3l-11 6l-11 9l-12 6l-11 -2l-11 2l-11 12l-12 12l-11 -10l-11 8l-11 0l-11 8l-12 -11l-11 4l-11 8l-11 -8l-12 8l-11 11l-11 -12l-11 2l-12 9l-11 -7l-11 27l-11 -24l-12 14l-11 -12l-11 31l-11 -18l-11 14l-12 0l-11 -28l-11 10l-11 16l-12 -27l-11 -1l-11 17l-11 -7l-12 8l-11 -21l-11 -1l-11 -2l-12 14l-11 -7l-11 0z" fill="#c00000" stroke="#c00000" stroke-width="4"/>
<path transform="scale(0.1)" d="M7172 4527l2 8l2 -12l2 -17l1 22l2 -65l2 59l2 -41l2 -56l2 100l2 -48l2 20l1 44l2 -19l2 71l2 -45l2 -45l2 28l2 -17l2 8l1 2l2 -7l2 7l2 -2l2 -27l2 -43l2 78l2 -18l1 10l2 6l2 -26l2 7l2 -35l2 7l2 47l2 26l1 -50l2 -16l2 7l2 14l2 5l2 0l2 5l2 -11l1 -10l2 24l2 26l2 -45l2 28l2 -25l2 18l2 74l1 -79l2 -5l2 -23l2 6l2 7l2 0l2 -25l1 60l2 -73l2 2l2 37l2 27l2 -60l2 48l2 -14l1 6l2 -8l2 18l2 -24l2 7l2 15l2 -29l2 7l1 25l2 -3l2 -27l2 58l2 -47l2 3l2 41l2 -24l1 -53l2 21l2 45l2 -19l2 3l2 8l2 2l2 -17l1 8l2 -54l2 -7l2 44l2 11l2 34l2 -21l2 0l1 -24l2 -43l2 60l2 -86l2 68l2 -3l2 10l2 69l1 -49l2 -14l2 -22l2 39l2 -14l2 20l2 -24l1 14l2 -43l2 45l2 3l2 -24l2 -35l2 31l2 3l1 -20l2 14l2 -19l2 0l2 19l2 48l2 -55l2 -9l1 -14l2 51l2 4l2 -31l2 8l2 -5l2 19l2 -14l1 0l2 63l2 -94l2 42l2 36l2 -3l2 -44l2 44l1 -35l2 19l2 -19l2 3l2 -65l2 40l2 -27l2 73l1 -29l2 22l2 -46l2 -27l2 40l2 50l2 -43l1 -34l2 -13l2 52l2 -9l2 29l2 17l2 -36l2 -48l1 57l2 -35l2 6l2 20l2 7l2 26l2 -38l2 -22l1 -7l2 16l2 1l2 46l2 -8l2 -17l2 -7l2 28l1 -22l2 -10l2 -12l2 3l2 37l2 -12l2 -52l2 53l1 -34l2 -34l2 -3l2 83l2 -36l2 9l2 8l2 -46l1 19l2 -32l2 72l2 31l2 -62l2 -6l2 -38l2 47l1 -25l2 -22l2 108l2 -69l2 10l2 16l2 -16l1 -4l2 -73l2 87l2 -17l2 -42l2 -42l2 141l2 -88l1 37l2 -66l2 23l2 10l2 -23l2 27l2 6l2 -15l1 58l2 -45l2 -32l2 108l2 -27l2 -70l2 0l2 16l1 -18l2 24l2 -45l2 70l2 -78l2 48l2 38l2 -63l1 32l2 -65l2 64l2 23l2 71l2 -114l2 -60l2 42l1 23l2 68l2 3l2 -86l2 28l2 -16l2 0l2 -19l1 35l2 -37l2 -41l2 62l2 -21l2 22l2 10l1 -23l2 14l2 14l2 -18l2 2l2 -35l2 -11l2 87l1 4l2 -33l2 -56l2 99l2 -32l2 23l2 -34l2 -17l1 -39l2 -26l2 53l2 -21l2 4l2 12l2 -9l2 63l1 -69l2 -7l2 71l2 -18l2 -38l2 -6l2 -6l2 -29l1 23l2 -49l2 80l2 16l2 13l2 -67l2 -18l2 63l1 -24l2 39l2 -128l2 79l2 -24l2 55l2 -36l2 -30l1 28l2 55l2 -24l2 -8l2 -36l2 6l2 -21l1 32l2 35l2 -72l2 18l2 60l2 -46l2 33l2 -112l1 79l2 -9l2 -30l2 69l2 -79l2 41l2 -18l2 56l1 -61l2 61l2 -50l2 -11l2 -6l2 -11l2 78l2 -107l1 59l2 -10l2 -29l2 -26l2 80l2 -27l2 -6l2 -38l1 30l2 -59l2 45l2 41l2 0l2 -16l2 -5l2 19l1 -30l2 -22l2 38l2 -43l2 9l2 9l2 -36l2 0l1 82l2 -47l2 -10l2 52l2 12l2 -45l2 25l1 -25l2 32l2 -62l2 57l2 8l2 -36l2 -13l2 35l1 -47l2 78l2 -124l2 42l2 -3l2 11l2 -4l2 55l1 -61l2 -13l2 48l2 -35l2 41l2 -66l2 26l2 -50l1 22l2 43l2 -26l2 -54l2 16l2 58l2 15l2 -14l1 7l2 -13l2 -190l2 157l2 -35l2 80l2 -49l2 -16l1 86l2 -35l2 28l2 -8l2 -19l2 -54l2 -8l2 47l1 15l2 -84l2 49l2 6l2 -68l2 65l2 34l1 -78l2 50l2 32l2 -84l2 61l2 -11l2 -42l2 -20l1 106l2 -81l2 -22l2 -15l2 43l2 22l2 -48l2 61l1 -104l2 56l2 25l2 -67l2 -38l2 10l2 54l2 -104l1 15l2 20l2 -4l2 -52l2 12l2 7l2 -14l2 -7l1 -5l2 3l2 -12l2 -48l2 88l2 26l2 -36l2 -42l1 45l2 -26l2 -22l2 14l2 -2l2 -10l2 13l1 50l2 -12l2 -9l2 36l2 -9l2 14l2 -12l2 41l1 -11l2 -93l2 100l2 -65l2 -5l2 -15l2 50l2 -23l1 16l2 -15l2 -3l2 -20l2 32l2 34l2 -9l2 12l1 -39l2 -22l2 35l2 -31l2 -26l2 68l2 -65l2 31l1 68l2 -30l2 -40l2 16l2 -30l2 90l2 -108l2 0l1 80l2 -17l2 -94l2 39l2 34l2 4l2 -13l2 -29l1 37l2 -29l2 36l2 49l2 -77l2 22l2 -64l1 31l2 -15l2 69l2 -76l2 89l2 -98l2 24l2 -28l1 -24l2 13l2 75l2 3l2 -51l2 0l2 -5l2 46l1 5l2 -45l2 -56l2 90l2 -51l2 -4l2 27l2 87l1 -123l2 94l2 -71l2 49l2 -28l2 -65l2 109l2 -28l1 -24l2 5l2 -36l2 6l2 -13l2 3l2 -2l2 -62l1 97l2 -54l2 18l2 -33l2 132l2 -77l2 -47l2 16l1 -51l2 106l2 -150l2 69l2 29l2 15l2 5l1 -13l2 -29l2 34l2 -50l2 31l2 -42l2 53l2 -39l1 34l2 -76l2 42l2 -14l2 -57l2 55l2 34l2 -24l1 9l2 -46l2 -47l2 0l2 70l2 -9l2 -43l2 12l1 116l2 -59l2 -18l2 7l2 -31l2 -19l2 63l2 -82l1 31l2 -29l2 -47l2 88l2 53l2 -58l2 -19l2 14l1 -11l2 28l2 -62l2 -38l2 24l2 64l2 -41l2 -17l1 53l2 -37l2 26l2 -99l2 28l2 24l2 85l1 -108l2 70l2 -85l2 -14l2 -2l2 44l2 36l2 -51l1 -5l2 138l2 -98l2 -59l2 40l2 -69l2 46l2 -19l1 -18l2 14l2 -79l2 106l2 25l2 16l2 -65l2 53l1 -9l2 -55l2 22l2 -9l2 -81l2 54l2 34l2 -23l1 41l2 -52l2 -18l2 -39l2 39l2 9l2 -10l2 1l1 24l2 60l2 -60l2 -41l2 -9l2 15l2 13l2 13l1 -12l2 38l2 -139l2 94l2 -21l2 -15l2 55l1 3l2 -18l2 -31l2 -32l2 55l2 -7l2 11l2 -48l1 0l2 -29l2 -20l2 28l2 28l2 9l2 -35l2 16l1 -26l2 -21l2 59l2 -54l2 18l2 64l2 -101l2 37l1 23l2 -57l2 -16l2 80l2 -36l2 45l2 -45l2 -24l1 -1l2 6l2 -66l2 25l2 19l2 -1l2 9l2 23l1 9l2 -32l2 -34l2 48l2 56l2 -114l2 36l1 -44l2 18l2 54l2 -4l2 -26l2 71l2 -253l2 176l1 -7l2 38l2 -65l2 -31l2 -38l2 87l2 -89l2 48l1 73l2 -114l2 73l2 -52l2 3l2 29l2 15l2 -63l1 59l2 8l2 -96l2 57l2 -78l2 129l2 -62l2 -7l1 40l2 -103l2 60l2 75l2 -107l2 87l2 -72l2 -17l1 -87l2 124l2 -28l2 25l2 2l2 -61l2 -22l2 13l1 147l2 -152l2 41l2 44l2 -16l2 57l2 -121l1 28l2 -14l2 68l2 -23l2 -70l2 -9l2 37l2 1l1 -37l2 -54l2 56l2 26l2 9l2 -37l2 32l2 -23l1 -16l2 52l2 -84l2 -41l2 124l2 -71l2 113l2 -113l1 115l2 -143l2 16l2 120l2 -53l2 61l2 -247l2 85l1 60l2 59l2 -61l2 -1l2 -45l2 -45l2 46l2 -2l1 47l2 8l2 -53l2 41l2 32l2 18l2 1l2 -23l1 20l2 5l2 -49l2 41l2 -56l2 0l2 -7l1 70l2 -91l2 84l2 -10l2 -61l2 54l2 -144l2 86l1 7l2 -48l2 148l2 -146l2 96l2 -6l2 56l2 -142l1 49l2 68l2 -67l2 -61l2 94l2 -52l2 56l2 -37l1 -99l2 87l2 30l2 -86l2 137l2 -85l2 -36l2 111l1 -104l2 -76l2 31l2 116l2 -72l2 51l2 -4l2 -99l1 69l2 8l2 -1l2 52l2 10l2 -47l2 -25l2 15l1 -76l2 42l2 53l2 -12l2 -98l2 13l2 43l1 87l2 -17l2 -18l2 -36l2 6l2 -15l2 120l2 -96l1 -41l2 23l2 24l2 18l2 -1l2 33l2 -44l2 -59l1 57l2 -69l2 84l2 8l2 -76l2 105l2 -31l2 44l1 -62l2 43l2 -7l2 -1l2 -7l2 -59l2 -24l2 -104l1 146l2 -38l2 95l2 -52l2 22l2 -18l2 -8l2 30l1 7l2 12l2 -9l2 -43l2 92l2 -147l2 30l2 85l1 -86l2 25l2 70l2 -8l2 -55l2 53l2 -43l1 29l2 -87l2 127l2 -125l2 120l2 -63l2 -83l2 142l1 8l2 -5l2 50l2 -70l2 -142l2 143l2 -16l2 -51l1 10l2 124l2 -118l2 -56l2 8l2 148l2 -89l2 -44l1 18l2 68l2 -44l2 -2l2 40l2 -28l2 1l2 38l1 -14l2 15l2 -98l2 58l2 -30l2 28l2 -27l2 68l1 -32l2 67l2 -67l2 4l2 91l2 72l2 -60l2 -109l1 60l2 -14l2 76l2 -239l2 161l2 47l2 12l1 -120l2 59l2 -17l2 -1l2 22l2 -34l2 -73l2 126l1 -23l2 -27l2 -1l2 -28l2 47l2 35l2 -54l2 106l1 -71l2 -10l2 -69l2 116l2 -20l2 -6l2 59l2 -50l1 9l2 23l2 -46l2 -68l2 101l2 -50l2 23l2 25l1 -44l2 -28l2 27l2 23l2 -11l2 46l2 -63l2 31l1 24l2 16l2 -37l2 72l2 -33l2 42l2 -126l1 -4l2 52l2 64l2 -37l2 -82l2 46l2 -18l2 -52l1 20l2 38l2 33l2 32l2 -15l2 -31l2 -14l2 34l1 14l2 -23l2 -57l2 60l2 93l2 -67l2 -8l2 -36l1 94l2 2l2 4l2 -112l2 58l2 -24l2 -4l2 46l1 76l2 -157l2 156l2 -87l2 -11l2 33l2 -23l2 7l1 -4l2 -24l2 115l2 -5l2 -118l2 102l2 -63l2 -55l1 54l2 66l2 -55l2 8l2 3l2 -27l2 52l1 -42l2 -41l2 72l2 -37l2 -40l2 41l2 44l2 76l1 -36l2 -76l2 27l2 -9l2 -145l2 121l2 49l2 -86l1 3l2 61l2 -18l2 8l2 22l2 35l2 -93l2 -25l1 115l2 -50l2 45l2 20l2 -70l2 26l2 1l2 -11l1 -13l2 -3l2 61l2 -36l2 -25l2 86l2 -64l2 63l1 -50l2 -33l2 21l2 14l2 -2l2 45l2 -90l2 97l1 34l2 -61l2 19l2 -55l2 47l2 20l2 3l1 4l2 19l2 -64l2 -126l2 164l2 0l2 -25l2 -1l1 -6l2 -58l2 61l2 -3l2 1l2 48l2 31l2 18l1 -66l2 5l2 -28l2 -47l2 134l2 -122l2 -42l2 76l1 -9l2 -65l2 40l2 12l2 55l2 -13l2 -56l2 -9l1 36l2 -52l2 -10l2 145l2 -66l2 9l2 -37l2 -93l1 144l2 -3l2 -64l2 71l2 -24l2 -63l2 -14l2 -10l1 22l2 60l2 -9l2 -56l2 72l2 -49l2 55l1 -67l2 11l2 87l2 -36l2 1l2 -56l2 48l2 80l1 -89l2 -12l2 62l2 -108l2 6l2 109l2 -63l2 108l1 -66l2 17l2 -47l2 -15l2 -2l2 32l2 0l2 -43l1 44l2 -88l2 69l2 2l2 -35l2 42l2 -57l2 6l1 24l2 63l2 -45l2 5l2 -22l2 2l2 19l2 -3l1 -1l2 31l2 -26l2 18l2 -28l2 56l2 -134l2 32l1 32l2 36l2 -44l2 37l2 -59l2 39l2 7l1 84l2 -51l2 -46l2 62l2 -42l2 -46l2 -25l2 84l1 109l2 -132l2 -24l2 93l2 -122l2 58l2 -73l2 71l1 -11l2 53l2 -76l2 19l2 40l2 -55l2 45l2 -89l1 45l2 24l2 8l2 -149l2 136l2 -17l2 65l2 -77l1 28l2 36l2 9l2 -86l2 44l2 -26l2 -5l2 -35l1 8l2 76l2 -8l2 76l2 -88l2 -11l2 80l2 -68l1 -1l2 4l2 -10l2 56l2 -50l2 -90l2 93l1 19l2 -11l2 -76l2 123l2 -205l2 170l2 -47l2 -10l1 69l2 -23l2 -48l2 39l2 62l2 -88l2 70l2 -72l1 23l2 64l2 -103l2 30l2 -42l2 44l2 34l2 53l1 -80l2 47l2 -28l2 74l2 -14l2 -83l2 -11l2 -76l1 31l2 101l2 -84l2 49l2 68l2 -103l2 59l2 13l1 -4l2 -41l2 13l2 0l2 -16l2 -29l2 56l1 -5l2 -29l2 -10l2 -13l2 -35l2 171l2 -157l2 31l1 -31l2 87l2 -48l2 -56l2 -5l2 -28l2 82l2 51l1 -35l2 82l2 -71l2 39l2 -42l2 0l2 -37l2 -7l1 10l2 -1l2 6l2 -58l2 78l2 12l2 20l2 -47l1 -30l2 -43l2 88l2 -49l2 46l2 -47l2 89l2 -72l1 -9l2 107l2 -70l2 33l2 -53l2 -21l2 25l2 -25l1 16l2 -15l2 37l2 -41l2 83l2 -85l2 59l1 -17l2 -21l2 -4l2 -33l2 64l2 -33l2 62l2 11l1 -131l2 76l2 -38l2 26l2 63l2 -98l2 -25l2 25l1 -32l2 77l2 -14l2 34l2 -12l2 15l2 3l2 -13l1 -29l2 40l2 -9l2 8l2 27l2 -28l2 -26l2 -25l1 -29l2 9l2 42l2 26l2 -22l2 -9l2 90l2 -118l1 24l2 9l2 30l2 -97l2 -14l2 116l2 -124l2 89l1 -45l2 106l2 -79l2 -41l2 47l2 -50l2 37l1 -38l2 -43l2 128l2 -46l2 48l2 43l2 -42l2 -62l1 -20l2 9l2 17l2 17l2 28l2 -35l2 23l2 72l1 -142l2 67l2 41l2 -87l2 7l2 -64l2 103l2 48l1 -119l2 63l2 -67l2 27l2 93l2 -20l2 4l2 -113l1 24l2 7l2 82l2 -71l2 173l2 -163l2 6l2 -53l1 26l2 68l2 -42l2 48l2 -33l2 12l2 -160l2 163l1 -8l2 -27l2 -81l2 133l2 -144l2 59l2 81l1 -19l2 -103l2 178l2 -25l2 31l2 -52l2 -40l2 51l1 -64l2 8l2 -18l2 39l2 0l2 23l2 -80l2 45l1 -39l2 88l2 -42l2 9l2 46l2 -25l2 56l2 -35l1 -135l2 94l2 66l2 -92l2 -18l2 -35l2 61l2 -13l1 34l2 47l2 -47l2 23l2 46l2 -134l2 90l2 34l1 -9l2 -74l2 54l2 23l2 -88l2 94l2 -68l2 33l1 30l2 -71l2 15l2 -1l2 35l2 10l2 138l1 -128l2 0l2 -53l2 -63l2 105l2 -106l2 115l2 -53l1 -1l2 195l2 -217l2 127l2 -41l2 35l2 -8l2 24l1 -34l2 -81l2 160l2 -139l2 28l2 -12l2 13l2 -15l1 6l2 80l2 21l2 -108l2 23l2 -48l2 70l2 13l1 33l2 46l2 -96l2 -52l2 75l2 -69l2 28l2 108l1 -81l2 62l2 -55l2 -16l2 49l2 -18l2 -49l1 -40l2 133l2 -25l2 17l2 15l2 -66l2 50l2 -75l1 1l2 56l2 42l2 -47l2 6l2 28l2 -81l2 62l1 41l2 -71l2 91l2 -109l2 58l2 -69l2 59l2 69l1 -35l2 -39l2 36l2 -11l2 -30l2 87l2 -41l2 28l1 -47l2 -26l2 36l2 39l2 -19l2 1l2 -37l2 -4l1 9l2 -13l2 70l2 9l2 18l2 -95l2 27l2 50l1 -67l2 48l2 6l2 19l2 -45l2 -5l2 6l1 21l2 -1l2 -2l2 12l2 96l2 -87l2 1l2 -29l1 29l2 -4l2 9l2 20l2 33l2 -40l2 -28l2 -4l1 -37l2 -13l2 62l2 -5l2 28l2 -19l2 43l2 -19l1 -20l2 -40l2 72l2 -4l2 -57l2 49l2 -20l2 -24l1 34l2 21l2 -65l2 68l2 -26l2 51l2 -104l2 90l1 -83l2 81l2 -2l2 45l2 -7l2 -47l2 -31l2 64l1 -23l2 -36l2 40l2 24l2 -29l2 11l2 12l1 -43l2 107l2 -137l2 55l2 56l2 -62l2 17l2 -39l1 11l2 40l2 -27l2 -33l2 1l2 41l2 18l2 33l1 -44l2 -9l2 16l2 91l2 -61l2 10l2 -25l2 13l1 -2l2 6l2 -37l2 65l2 -39l2 40l2 -55l2 14l1 8l2 -26l2 14l2 -22l2 99l2 -52l2 30l2 -77l1 35l2 31l2 -44l2 41l2 -9l2 18l2 -51l2 41l1 -84l2 119l2 -32l2 41l2 -66l2 39l2 35l1 -66l2 -2l2 36l2 26l2 -44l2 -38l2 96l2 30l1 -60l2 51l2 12l2 -69l2 -4l2 -13l2 18l2 -8l1 21l2 -50l2 79l2 4l2 -79l2 33l2 29l2 -6l1 27l2 11l2 37l2 1l2 -80l2 35l2 13l2 -6l1 -40l2 -28l2 55l2 34l2 -12l2 -9l2 -32l2 22l1 -22l2 77l2 -58l2 -49l2 49l2 27l2 -21l2 -21l1 25l2 -25l2 95l2 -64l2 -5l2 4l2 17l1 8l2 -18l2 58l2 -23l2 -9l2 -19l2 15l2 26l1 -56l2 24l2 7l2 -10l2 12l2 -36l2 50l2 31l1 -47l2 -3l2 -9l2 9l2 26l2 -57l2 76l2 4l1 -47l2 49l2 -64l2 73l2 -37l2 2l2 23l2 47l1 -71l2 1l2 11l2 17l2 29l2 -21l2 41l2 -121l1 72l2 -53l2 48l2 -56l2 73l2 5l2 4l2 -30l1 35l2 19l2 -99l2 7l2 69l2 -53l2 112l1 -87l2 -59l2 1l2 42l2 -12l2 31l2 -42l2 66l1 68l2 -117l2 29l2 9l2 -19l2 -1l2 105l2 -85l1 29l2 -13l2 -47l2 42l2 19l2 -24l2 10l2 -6l1 -26l2 29l2 16l2 -6l2 28l2 -81l2 27l2 85l1 -58l2 -45l2 98l2 -41l2 -72l2 48l2 -13l2 61l1 -85l2 35l2 -27l2 80l2 -13l2 13l2 -42l1 45l2 -34l2 -47l2 24l2 50l2 -38l2 51l2 -58l1 66l2 -62l2 -8l2 78l2 -75l2 -12l2 -7l2 5l1 26l2 0l2 45l2 -84l2 60l2 -29l2 13l2 21l1 38l2 -58l2 17l2 38l2 -83l2 40l2 28l2 3l1 -60l2 57l2 0l2 53l2 -56l2 13l2 -50l2 -13l1 9l2 87l2 -60l2 -37l2 57l2 -1l2 -4l2 47l1 -34l2 -7l2 -12l2 5l2 3l2 21l2 -83l1 23l2 17l2 18l2 -40l2 76l2 -52l2 2l2 29l1 54l2 -6l2 -91l2 79l2 -59l2 30l2 8l2 -23l1 -32l2 19l2 -16l2 76l2 -14l2 -57l2 40l2 10l1 39l2 -33l2 4l2 -34l2 22l2 54l2 7l2 -97l1 81l2 4l2 -5l2 -23l2 -28l2 13l2 20l2 -5l1 12l2 -17l2 15l2 -25l2 63l2 -45l2 -20l2 38l1 -13l2 -32l2 26l2 3l2 -3l2 -9l2 89l1 -93l2 17l2 -65l2 108l2 -87l2 45l2 7l2 -14l1 5l2 41l2 -52l2 -5l2 52l2 -75l2 37l2 -15l1 4l2 13l2 -53l2 58l2 47l2 -72l2 78l2 -53l1 11l2 63l2 -17l2 -121l2 93l2 49l2 -40l2 -17l1 -41l2 80l2 -50l2 1l2 7l2 -41l2 41l2 60l1 -62l2 20l2 -15l2 -22l2 89l2 -73l2 -7l2 43l1 27l2 -103l2 13l2 78l2 -27l2 4l2 -17l1 30l2 -58l2 16l2 -24l2 30l2 -52l2 85l2 -57l1 3l2 23l2 -15l2 24l2 34l2 -37l2 -34l2 99l1 -122l2 97l2 -66l2 60l2 -59l2 46l2 -31l2 4l1 2l2 -11l2 17l2 7l2 -50l2 54l2 -8l2 -22l1 43l2 -12l2 -15l2 2l2 6l2 10l2 -22l2 -10l1 64l2 -19l2 -22l2 -8l2 -18l2 10l2 30l2 17l1 -42l2 33l2 10l2 -57l2 47l2 -7l2 -19l1 79l2 -154l2 37l2 -16l2 64l2 -6l2 -27l2 27l1 -6l2 24l2 14l2 -67l2 22l2 13l2 23l2 -88l1 82l2 51l2 -77l2 87l2 -112l2 59l2 -18l2 -1l1 10l2 34l2 -58l2 7l2 35l2 -49l2 3l2 50l1 -30l2 52l2 33l2 -111l2 28l2 -39l2 32l2 -3l1 -2l2 -6l2 -2l2 55l2 -48l2 80l2 -75l1 -58l2 3l2 17l2 68l2 -40l2 48l2 -59l2 42l1 8l2 -30l2 -22l2 80l2 -38l2 -15l2 -1l2 34l1 -23l2 20l2 -50l2 17l2 -38l2 71l2 3l2 -31l1 -29l2 28l2 17l2 45l2 -41l2 -20l2 -26l2 79l1 -61l2 6l2 -57l2 32l2 123l2 -69l2 -5l2 10l1 -5l2 27l2 -29l2 13l2 -18l2 8l2 -21l2 4l1 1l2 7l2 36l2 -36l2 -45l2 41l2 -3l1 -13l2 13l2 20l2 -9l2 21l2 2l2 -32l2 15l1 47l2 -67l2 -13l2 23l2 13l2 -75l2 53l2 21l1 -46l2 -17l2 87l2 -5l2 -26l2 -45l2 72l2 -76l1 27l2 -40l2 50l2 -12l2 -11l2 39l2 52l2 -55l1 40l2 -9l2 -37l2 -15l2 -16l2 -15l2 65l2 22l1 -88l2 40l2 1l2 48l2 -10l2 -57l2 45l2 -61l1 70l2 -73l2 82l2 8l2 -39l2 12l2 3l1 -41l2 -6l2 61l2 -64l2 -17l2 4l2 44l2 10l1 -13l2 -11l2 37l2 20l2 -53l2 -3l2 7l2 74l1 -19l2 -40l2 -24l2 -18l2 46l2 31l2 -12l2 -18l1 -37l2 75l2 -36l2 5l2 -21l2 8l2 20l2 -57l1 -11l2 9l2 13l2 -9l2 10l2 10l2 57l2 -58l1 -10l2 32l2 -44l2 27l2 36l2 -68l2 60l2 -39l1 46l2 5l2 -54l2 36l2 -7l2 -2l2 -20l1 -40l2 59l2 -17l2 17l2 -62l2 46l2 31l2 -8l1 -68l2 47l2 -57l2 89l2 -52l2 31l2 -8l2 -5l1 -21l2 32l2 -18l2 32l2 -4l2 -33l2 -8l2 23l1 -51l2 78l2 16l2 -74l2 20l2 34l2 -68l2 52l1 -81l2 128l2 -30l2 -44l2 -18l2 -8l2 64l2 -16l1 -15l2 -12l2 41l2 -10l2 47l2 -84l2 62l2 -45l1 9l2 -3l2 20l2 -30l2 1l2 50l2 -28l1 -8l2 36l2 -39l2 -25l2 -4l2 48l2 86l2 -119l1 0l2 26l2 -6l2 21l2 10l2 -50l2 -17l2 34l1 37l2 19l2 -70l2 0l2 -20l2 50l2 8l2 2l1 -51l2 -26l2 84l2 -13l2 -4l2 -31l2 45l2 -51l1 12l2 9l2 -23l2 58l2 -4l2 -70l2 49l2 33l1 -27l2 22l2 -57l2 50l2 -51l2 2l2 28l2 -63l1 58l2 -25l2 -1l2 50l2 15l2 -48l2 36l1 13l2 -7l2 -82l2 -8l2 58l2 3l2 -13l2 -13l1 23l2 17l2 -40l2 39l2 9l2 0l2 -4l2 -12l1 -4l2 -21l2 33l2 -13l2 11l2 -14l2 -35l2 49l1 38l2 -79l2 14l2 0l2 86l2 -37l2 -45l2 16l1 4l2 -42l2 67l2 -18l2 -23l2 34l2 -4l2 -16l1 15l2 -14l2 -41l2 73l2 -20l2 1l2 -10l1 -24l2 -37l2 9l2 -39l2 129l2 -11l2 -115l2 71l1 -3l2 14l2 15l2 -65l2 41l2 22l2 -22l2 3l1 -19l2 -16l2 25l2 15l2 -15l2 13l2 31l2 -37l1 49l2 -47l2 25l2 -74l2 32l2 28l2 2l2 -41l1 58l2 -75l2 2l2 23l2 33l2 -33l2 29l2 47l1 -26l2 -65l2 41l2 11l2 -58l2 25l2 -6l2 12l1 51l2 -37l2 45l2 -81l2 60l2 -94l2 109l1 -5l2 -66l2 89l2 -52l2 -11l2 -76l2 72l2 -2l1 15l2 3l2 17l2 -36l2 25l2 -3l2 47l2 -74l1 18l2 9l2 -11l2 -40l2 125l2 -110l2 42l2 -1l1 -29l2 -8l2 66l2 -80l2 60l2 -67l2 50l2 -98l1 132l2 -46l2 -40l2 85l2 -50l2 84l2 -16l2 24l1 -68l2 38l2 -58l2 22l2 79l2 -108l2 -47l2 42l1 -1l2 39l2 -2l2 -15l2 -3l2 -20l2 -35l1 22l2 47l2 70l2 -25l2 -61l2 46l2 -97l2 73l1 -4l2 -21l2 32l2 -8l2 -53l2 3l2 -20l2 9l1 6l2 97l2 -52l2 41l2 -40l2 -15l2 -7l2 -1l1 -17l2 12l2 -19l2 116l2 -42l2 -37l2 -15l2 71l1 13l2 -91l2 38l2 -30l2 -7l2 14l2 39l2 -53l1 39l2 -37l2 72l2 -61l2 16l2 10l2 -32l2 10l1 7l2 -7l2 38l2 -37l2 43l2 3l2 -38l1 -6l2 34l2 7l2 4l2 -20l2 5l2 -73l2 92l1 -33l2 -40l2 25l2 8l2 -46l2 9l2 -1l2 52l1 -37l2 2l2 40l2 -47l2 20l2 24l2 -22l2 -4l1 5l2 9l2 53l2 -49l2 -5l2 59l2 -80l2 22l1 -40l2 27l2 19l2 49l2 -46l2 28l2 -15l2 -6l1 -2l2 -30l2 -4l2 15l2 36l2 -15l2 -32l2 -40l1 75l2 1l2 -1l2 -16l2 -25l2 43l2 -5l1 -1l2 -65l2 49l2 -35l2 0l2 36l2 -11l2 17l1 2l2 33l2 -18l2 -6l2 -40l2 36l2 16l2 -41l1 31l2 -7l2 17l2 -54l2 38l2 -22l2 42l2 -16l1 79l2 -114l2 -48l2 126l2 -112l2 13l2 10l2 38l1 4l2 -84l2 85l2 26l2 -19l2 -28l2 12l2 2l1 -9l2 -59l2 49l2 -2l2 46l2 -17l2 -47l2 17l1 -3l2 26l2 37l2 -36l2 3l2 -65l2 87l1 -13l2 -78l2 66l2 9l2 -43l2 47l2 -19l2 8l1 -29l2 29l2 -17l2 41l2 -20l2 -15l2 24l2 -41l1 21l2 64l2 -121l2 68l2 -39l2 7l2 17l2 -12l1 0l2 41l2 -52l2 58l2 -69l2 56l2 -31l2 16l1 -24l2 31l2 0l2 -2l2 -18l2 -28l2 70l2 55l1 -82l2 10l2 -23l2 6l2 16l2 -7l2 -3l1 23l2 7l2 -1l2 12l2 -41l2 -31l2 -10l2 57l1 -31l2 44l2 -30l2 8l2 -102l2 107l2 4l2 38l1 -23l2 -58l2 -21l2 68l2 17l2 -17l2 25l2 -39l1 -52l2 75l2 -29l2 -12l2 56l2 -38l2 34l2 -55l1 6l2 13l2 69l2 -31l2 -46l2 24l2 -39l2 10l1 -7l2 15l2 -21l2 37l2 -3l2 -32l2 55l2 17l1 -71l2 -12l2 12l2 -48l2 64l2 57l2 -38l1 49l2 -57l2 -13l2 -41l2 -9l2 50l2 -37l2 18l1 41l2 2l2 33l2 -43l2 0l2 18l2 -25l2 18l1 -78l2 105l2 -77l2 50l2 -8l2 -22l2 76l2 -47l1 -37l2 65l2 0l2 35l2 -63l2 32l2 -36l2 9l1 -31l2 -30l2 90l2 -26l2 24l2 -96l2 60l2 19l1 22l2 -62l2 50l2 -14l2 -62l2 33l2 -2l2 -9l1 39l2 12l2 -8l2 1" fill="none" stroke="#000000" stroke-width="12" stroke-linejoin="miter" stroke-miterlimit="2"/>
<rect x="717.20" y="35.90" width="561.80" height="480.60" fill="none" stroke="#303030" stroke-width="1.4" stroke-linejoin="round"/>
<line x1="735.93" y1="516.50" x2="735.93" y2="511.50" stroke="#303030" stroke-width="1.4"/>
<line x1="754.65" y1="516.50" x2="754.65" y2="511.50" stroke="#303030" stroke-width="1.4"/>
<line x1="773.38" y1="516.50" x2="773.38" y2="511.50" stroke="#303030" stroke-width="1.4"/>
<line x1="792.11" y1="516.50" x2="792.11" y2="511.50" stroke="#303030" stroke-width="1.4"/>
<line x1="810.83" y1="516.50" x2="810.83" y2="511.50" stroke="#303030" stroke-width="1.4"/>
<line x1="829.56" y1="516.50" x2="829.56" y2="511.50" stroke="#303030" stroke-width="1.4"/>
<line x1="848.29" y1="516.50" x2="848.29" y2="511.50" stroke="#303030" stroke-width="1.4"/>
<line x1="867.01" y1="516.50" x2="867.01" y2="511.50" stroke="#303030" stroke-width="1.4"/>
<line x1="885.74" y1="516.50" x2="885.74" y2="511.50" stroke="#303030" stroke-width="1.4"/>
<line x1="904.47" y1="516.50" x2="904.47" y2="511.50" stroke="#303030" stroke-width="1.4"/>
<line x1="923.19" y1="516.50" x2="923.19" y2="511.50" stroke="#303030" stroke-width="1.4"/>
<line x1="941.92" y1="516.50" x2="941.92" y2="511.50" stroke="#303030" stroke-width="1.4"/>
<line x1="960.65" y1="516.50" x2="960.65" y2="511.50" stroke="#303030" stroke-width="1.4"/>
<line x1="979.37" y1="516.50" x2="979.37" y2="511.50" stroke="#303030" stroke-width="1.4"/>
<line x1="998.10" y1="516.50" x2="998.10" y2="511.50" stroke="#303030" stroke-width="1.4"/>
<line x1="1016.83" y1="516.50" x2="1016.83" y2="511.50" stroke="#303030" stroke-width="1.4"/>
<line x1="1035.55" y1="516.50" x2="1035.55" y2="511.50" stroke="#303030" stroke-width="1.4"/>
<line x1="1054.28" y1="516.50" x2="1054.28" y2="511.50" stroke="#303030" stroke-width="1.4"/>
<line x1="1073.01" y1="516.50" x2="1073.01" y2="511.50" stroke="#303030" stroke-width="1.4"/>
<line x1="1091.73" y1="516.50" x2="1091.73" y2="511.50" stroke="#303030" stroke-width="1.4"/>
<line x1="1110.46" y1="516.50" x2="1110.46" y2="511.50" stroke="#303030" stroke-width="1.4"/>
<line x1="1129.19" y1="516.50" x2="1129.19" y2="511.50" stroke="#303030" stroke-width="1.4"/>
<line x1="1147.91" y1="516.50" x2="1147.91" y2="511.50" stroke="#303030" stroke-width="1.4"/>
<line x1="1166.64" y1="516.50" x2="1166.64" y2="511.50" stroke="#303030" stroke-width="1.4"/>
<line x1="1185.37" y1="516.50" x2="1185.37" y2="511.50" stroke="#303030" stroke-width="1.4"/>
<line x1="1204.09" y1="516.50" x2="1204.09" y2="511.50" stroke="#303030" stroke-width="1.4"/>
<line x1="1222.82" y1="516.50" x2="1222.82" y2="511.50" stroke="#303030" stroke-width="1.4"/>
<line x1="1241.55" y1="516.50" x2="1241.55" y2="511.50" stroke="#303030" stroke-width="1.4"/>
<line x1="1260.27" y1="516.50" x2="1260.27" y2="511.50" stroke="#303030" stroke-width="1.4"/>
<line x1="138.80" y1="511.80" x2="147.30" y2="511.80" stroke="#303030" stroke-width="1.4"/>
<text x="124.6" y="520.20" text-anchor="end" font-size="28">0</text>
<line x1="138.80" y1="444.20" x2="147.30" y2="444.20" stroke="#303030" stroke-width="1.4"/>
<text x="124.6" y="452.60" text-anchor="end" font-size="28">500</text>
<line x1="138.80" y1="376.60" x2="147.30" y2="376.60" stroke="#303030" stroke-width="1.4"/>
<text x="124.6" y="385.00" text-anchor="end" font-size="28">1000</text>
<line x1="138.80" y1="309.00" x2="147.30" y2="309.00" stroke="#303030" stroke-width="1.4"/>
<text x="124.6" y="317.40" text-anchor="end" font-size="28">1500</text>
<line x1="138.80" y1="241.40" x2="147.30" y2="241.40" stroke="#303030" stroke-width="1.4"/>
<text x="124.6" y="249.80" text-anchor="end" font-size="28">2000</text>
<line x1="138.80" y1="173.80" x2="147.30" y2="173.80" stroke="#303030" stroke-width="1.4"/>
<text x="124.6" y="182.20" text-anchor="end" font-size="28">2500</text>
<line x1="138.80" y1="106.20" x2="147.30" y2="106.20" stroke="#303030" stroke-width="1.4"/>
<text x="124.6" y="114.60" text-anchor="end" font-size="28">3000</text>
<line x1="138.80" y1="38.60" x2="147.30" y2="38.60" stroke="#303030" stroke-width="1.4"/>
<text x="124.6" y="47.00" text-anchor="end" font-size="28">3500</text>
<line x1="138.80" y1="511.80" x2="147.30" y2="511.80" stroke="#303030" stroke-width="1.4"/>
<text x="147.30" y="548.8" text-anchor="middle" font-size="24">10</text>
<text x="717.20" y="553.7" text-anchor="middle" font-size="24">10</text>
<text x="236.28" y="548.8" text-anchor="middle" font-size="24">20</text>
<text x="810.83" y="553.7" text-anchor="middle" font-size="24">20</text>
<text x="325.27" y="548.8" text-anchor="middle" font-size="24">30</text>
<text x="904.47" y="553.7" text-anchor="middle" font-size="24">30</text>
<text x="414.25" y="548.8" text-anchor="middle" font-size="24">40</text>
<text x="998.10" y="553.7" text-anchor="middle" font-size="24">40</text>
<text x="503.23" y="548.8" text-anchor="middle" font-size="24">50</text>
<text x="1091.73" y="553.7" text-anchor="middle" font-size="24">50</text>
<text x="592.22" y="548.8" text-anchor="middle" font-size="24">60</text>
<text x="1185.37" y="553.7" text-anchor="middle" font-size="24">60</text>
<text x="681.20" y="548.8" text-anchor="middle" font-size="24">70</text>
<text x="1279.00" y="553.7" text-anchor="middle" font-size="24">70</text>
<text x="356" y="581.7" font-size="24">Theta</text>
<text x="424.4" y="581.7" font-size="24">(</text>
<text x="432.8" y="581.7" font-size="24">2</text>
<text x="466.2" y="581.7" font-size="24">)</text>
<g transform="translate(456.75 573.0) skewX(-7)"><ellipse cx="0" cy="0" rx="7.0" ry="7.5" fill="none" stroke="#111" stroke-width="2.1"/></g>
<line x1="449.6" y1="572.6" x2="464.0" y2="572.6" stroke="#111" stroke-width="1.7"/>
<text x="936.5" y="589" font-size="24">Theta</text>
<text x="1005.2" y="589" font-size="26.5">(</text>
<text x="1014.6" y="589" font-size="26.5">2</text>
<text x="1052.9" y="589" font-size="26.5">)</text>
<g transform="translate(1041.9 579.25) skewX(-7)"><ellipse cx="0" cy="0" rx="7.9" ry="8.5" fill="none" stroke="#111" stroke-width="2.1"/></g>
<line x1="1034.2" y1="579.3" x2="1049.8" y2="579.3" stroke="#111" stroke-width="1.7"/>
<text transform="translate(45.2 370) rotate(-90)" x="0" y="0" font-size="28">Intensity (a.u)</text>
<text x="627.8" y="71.8" font-size="24" letter-spacing="0.8">(a)</text>
<text x="552.3" y="141.8" font-size="24" letter-spacing="0.22">DS-DL<tspan font-size="16" dy="5.2">B</tspan><tspan dy="-5.2">3C</tspan></text>
<text x="577.6" y="216.2" font-size="24" letter-spacing="0.22">DL<tspan font-size="16" dy="5.2">B</tspan><tspan dy="-5.2">3C</tspan></text>
<text x="560.8" y="286.9" font-size="24" letter-spacing="0.22">DS-DL<tspan font-size="16" dy="5.2">A</tspan><tspan dy="-5.2">3C</tspan></text>
<text x="578.7" y="358.3" font-size="24" letter-spacing="0.22">DL<tspan font-size="16" dy="5.2">A</tspan><tspan dy="-5.2">3C</tspan></text>
<text x="577.9" y="429.9" font-size="24" letter-spacing="0.4">PVA-3C</text>
<text x="1234.6" y="71.6" font-size="24" letter-spacing="0.8">(b)</text>
<text x="1152.3" y="140.8" font-size="24" letter-spacing="0.22">DS-DL<tspan font-size="16" dy="5.2">B</tspan><tspan dy="-5.2">5C</tspan></text>
<text x="1176.0" y="211.6" font-size="24" letter-spacing="0.22">DL<tspan font-size="16" dy="5.2">B</tspan><tspan dy="-5.2">5C</tspan></text>
<text x="1152.3" y="276.8" font-size="24" letter-spacing="0.22">DS-DL<tspan font-size="16" dy="5.2">A</tspan><tspan dy="-5.2">5C</tspan></text>
<text x="1173.3" y="349.4" font-size="24" letter-spacing="0.22">DL<tspan font-size="16" dy="5.2">A</tspan><tspan dy="-5.2">5C</tspan></text>
<text x="1166.8" y="418.3" font-size="24" letter-spacing="0.4">PVA-5C</text>
</svg>
</body></html>
